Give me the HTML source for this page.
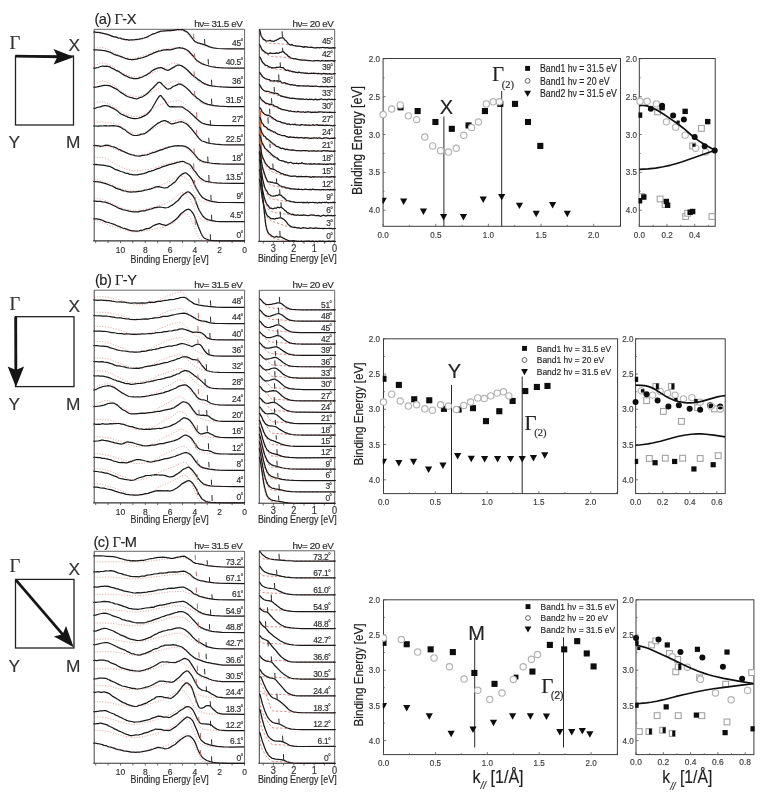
<!DOCTYPE html>
<html lang="en">
<head>
<meta charset="utf-8">
<title>ARPES spectra and band dispersion</title>
<style>
html,body{margin:0;padding:0;background:#fff;}
body{width:761px;height:799px;overflow:hidden;}
svg{display:block;filter:blur(0.35px);}
.sans{font-family:'Liberation Sans', Arial, Helvetica, sans-serif;}
.serif{font-family:'Liberation Serif', 'Times New Roman', serif;}
svg text{stroke:#2a2a2a;stroke-width:.22px;stroke-opacity:.75;}
</style>
</head>
<body>
<svg width="761" height="799" viewBox="0 0 761 799">
<rect x="0" y="0" width="761" height="799" fill="#ffffff"/>
<rect x="15.5" y="56" width="58" height="69" fill="none" stroke="#222222" stroke-width="1.3"/>
<text x="9.6" y="49" font-size="18.6" text-anchor="start" class="serif" fill="#333333" >&#915;</text>
<text x="68.6" y="51.2" font-size="17.3" text-anchor="start" class="sans" fill="#333333" >X</text>
<text x="8.4" y="147.5" font-size="17.3" text-anchor="start" class="sans" fill="#333333" >Y</text>
<text x="66" y="147.5" font-size="17.3" text-anchor="start" class="sans" fill="#333333" >M</text>
<line x1="15.5" y1="56.2" x2="61.5" y2="56.8" stroke="#151515" stroke-width="2.8" />
<path d="M74 57 L53.5 49 L57.5 56.7 L53.5 64.6 Z" fill="#151515"/>
<rect x="15.5" y="316.7" width="58.5" height="69.9" fill="none" stroke="#222222" stroke-width="1.3"/>
<text x="9.6" y="310" font-size="18.6" text-anchor="start" class="serif" fill="#333333" >&#915;</text>
<text x="68.6" y="312" font-size="17.3" text-anchor="start" class="sans" fill="#333333" >X</text>
<text x="8.4" y="410" font-size="17.3" text-anchor="start" class="sans" fill="#333333" >Y</text>
<text x="66" y="410" font-size="17.3" text-anchor="start" class="sans" fill="#333333" >M</text>
<line x1="15.7" y1="316.7" x2="15.9" y2="374.6" stroke="#151515" stroke-width="2.8" />
<path d="M15.9 386.9 L7.7 366.4 L15.9 369.9 L24.1 366.4 Z" fill="#151515"/>
<rect x="15.5" y="579.4" width="58.5" height="68.6" fill="none" stroke="#222222" stroke-width="1.3"/>
<text x="9.6" y="572.3" font-size="18.6" text-anchor="start" class="serif" fill="#333333" >&#915;</text>
<text x="68.6" y="574.8" font-size="17.3" text-anchor="start" class="sans" fill="#333333" >X</text>
<text x="8.4" y="672" font-size="17.3" text-anchor="start" class="sans" fill="#333333" >Y</text>
<text x="66" y="672" font-size="17.3" text-anchor="start" class="sans" fill="#333333" >M</text>
<line x1="16" y1="580.2" x2="65.87" y2="638.11" stroke="#151515" stroke-width="2.8" />
<path d="M73.7 647.2 L53.93 636.51 L62.61 634.32 L66.06 626.07 Z" fill="#151515"/>
<text x="94.5" y="24.2" font-size="14.6" class="sans" fill="#222" letter-spacing="-0.5">(a) <tspan class="serif" font-size="14.6" stroke-width="0.1">&#915;</tspan>-X</text>
<text x="95" y="284.8" font-size="14.6" class="sans" fill="#222" letter-spacing="-0.5">(b) <tspan class="serif" font-size="14.6" stroke-width="0.1">&#915;</tspan>-Y</text>
<text x="93.4" y="546.8" font-size="14.6" class="sans" fill="#222" letter-spacing="-0.5">(c) <tspan class="serif" font-size="14.6" stroke-width="0.1">&#915;</tspan>-M</text>
<g clip-path="none">
<line x1="94.2" y1="29.3" x2="244.6" y2="29.3" stroke="#555" stroke-width="0.9" />
<line x1="94.2" y1="29.3" x2="94.2" y2="240.9" stroke="#444" stroke-width="1" />
<line x1="244.6" y1="29.3" x2="244.6" y2="240.9" stroke="#555" stroke-width="0.9" />
<line x1="93.2" y1="240.9" x2="245.1" y2="240.9" stroke="#333" stroke-width="1.1" />
<line x1="120.5" y1="240.9" x2="120.5" y2="243.1" stroke="#444" stroke-width="0.8" />
<text transform="translate(120.5 253.1) scale(0.9 1)" font-size="9.4" text-anchor="middle" class="sans" fill="#333" >10</text>
<line x1="145.3" y1="240.9" x2="145.3" y2="243.1" stroke="#444" stroke-width="0.8" />
<text transform="translate(145.3 253.1) scale(0.9 1)" font-size="9.4" text-anchor="middle" class="sans" fill="#333" >8</text>
<line x1="170.1" y1="240.9" x2="170.1" y2="243.1" stroke="#444" stroke-width="0.8" />
<text transform="translate(170.1 253.1) scale(0.9 1)" font-size="9.4" text-anchor="middle" class="sans" fill="#333" >6</text>
<line x1="194.9" y1="240.9" x2="194.9" y2="243.1" stroke="#444" stroke-width="0.8" />
<text transform="translate(194.9 253.1) scale(0.9 1)" font-size="9.4" text-anchor="middle" class="sans" fill="#333" >4</text>
<line x1="219.7" y1="240.9" x2="219.7" y2="243.1" stroke="#444" stroke-width="0.8" />
<text transform="translate(219.7 253.1) scale(0.9 1)" font-size="9.4" text-anchor="middle" class="sans" fill="#333" >2</text>
<line x1="244.5" y1="240.9" x2="244.5" y2="243.1" stroke="#444" stroke-width="0.8" />
<text transform="translate(244.5 253.1) scale(0.9 1)" font-size="9.4" text-anchor="middle" class="sans" fill="#333" >0</text>
<line x1="108.1" y1="240.9" x2="108.1" y2="243.1" stroke="#444" stroke-width="0.8" />
<line x1="132.9" y1="240.9" x2="132.9" y2="243.1" stroke="#444" stroke-width="0.8" />
<line x1="157.7" y1="240.9" x2="157.7" y2="243.1" stroke="#444" stroke-width="0.8" />
<line x1="182.5" y1="240.9" x2="182.5" y2="243.1" stroke="#444" stroke-width="0.8" />
<line x1="207.3" y1="240.9" x2="207.3" y2="243.1" stroke="#444" stroke-width="0.8" />
<line x1="232.1" y1="240.9" x2="232.1" y2="243.1" stroke="#444" stroke-width="0.8" />
<line x1="95.7" y1="240.9" x2="95.7" y2="243.1" stroke="#444" stroke-width="0.8" />
<text transform="translate(169.7 262.7) scale(0.86 1)" font-size="10.3" text-anchor="middle" class="sans" fill="#2a2a2a" >Binding Energy [eV]</text>
<text x="242.5" y="26.6" font-size="9.9" text-anchor="end" class="sans" fill="#2a2a2a" letter-spacing="-0.42" >h&#957;= 31.5 eV</text>
</g>
<path d="M94.2 220.4L96.5 220.8L99.4 221.5L109.3 225.3L111.6 226L114.5 227L116.3 227.3L119.7 228.5L122.1 229L126.1 230.3L129.6 231.3L132.5 231.9L133.7 232L139.5 231.8L142.9 231.4L145.3 230.8L154 229.2L160.9 227.7L165 226.6L170.2 224.7L172.5 223.6L174.3 222.5L176 220.8L179.5 216.8L183 213.8L183.6 213.5L184.1 213.3L185.3 213.3L186.5 213.9L187.6 214.8L188.8 215.9L190 217.4L190.5 218.4L191.7 220.8L198.1 236.2L199.2 238L200.4 239.1L201.6 239.8L202.7 240.3L203.9 240.5L211.4 240.9L244.5 240.9" fill="none" stroke="#cf5f5f" stroke-width="0.75" stroke-linejoin="round" stroke-dasharray="1.2 1.5" stroke-linecap="butt" stroke-opacity="0.68"/>
<path d="M94.2 218.6L95.4 218.9L96.5 218.9L100.6 219.7L102.9 220.5L104.1 221.1L106.4 222.1L108.7 222.5L109.9 223L111.6 223.5L113.4 224.2L115.1 224.7L118 226.2L120.9 227.2L122.6 228L124.4 228.4L126.7 229.1L127.9 229.6L130.2 230.4L132.5 230.8L133.7 230.8L136 231.1L137.1 231.1L138.9 230.8L140.6 230.4L142.4 230.3L144.7 229.3L146.4 228.7L148.2 228.6L149.9 227.9L152.8 226L155.7 224.6L159.2 223.7L159.8 223.7L161.5 224.3L165.6 225.4L166.2 225.4L166.7 225.2L168.5 224.2L171.4 222.8L176 219.3L177.8 217.5L181.2 213.5L183 212.3L184.7 210.8L185.9 210.1L187.6 209.3L188.2 209.2L188.8 209.3L190 209.9L191.1 210.9L192.3 212.3L193.4 213.9L194.6 216.4L198.1 226.3L201 233.1L201.6 234.3L202.7 236.3L203.9 237.7L204.5 238.2L206.2 239L208.5 239.8L211.4 240.3L214.3 240.6L225.3 240.9L244.5 240.9" fill="none" stroke="#1a1a1a" stroke-width="1.25" stroke-linejoin="round" />
<line x1="195.11" y1="218.4" x2="195.41" y2="225.13" stroke="#b46a6a" stroke-width="1" />
<line x1="210.24" y1="234.17" x2="210.54" y2="239.64" stroke="#2a2a2a" stroke-width="1" />
<text transform="translate(243 237.5) scale(0.87 1)" font-size="9.7" text-anchor="end" class="sans" fill="#2a2a2a" letter-spacing="-0.35">0<tspan font-size="8.2" dy="-0.5" dx="-0.5">&#176;</tspan></text>
<line x1="93" y1="218.82" x2="95" y2="218.82" stroke="#333" stroke-width="0.9" />
<path d="M94.2 198L97.7 198.2L100 198.9L106.4 201L110.4 202.6L115.7 205.4L118.6 206.7L125.5 208.9L129 209.8L131.9 210.2L134.8 210.5L137.1 210.5L139.5 210.2L141.8 210L144.7 209.2L154 207.1L161.5 205L165.6 203.5L170.2 201.2L174.3 198.8L175.4 197.9L177.2 196.1L178.9 194.5L180.1 193.6L182.4 192.4L183.6 192.3L184.7 192.7L185.9 193.5L187 194.7L188.8 197L190.5 199.8L191.7 202.1L196.9 213.6L198.1 215.9L198.7 216.8L199.8 218.3L201 219.3L202.1 220.1L203.3 220.5L204.5 220.8L211.4 221.4L224.2 221.6L244.5 221.7" fill="none" stroke="#cf5f5f" stroke-width="0.75" stroke-linejoin="round" stroke-dasharray="1.2 1.5" stroke-linecap="butt" stroke-opacity="0.68"/>
<path d="M94.2 201.1L95.4 201.1L97.1 201.4L100.6 201.4L102.3 201.8L105.2 202.2L108.7 203.3L115.7 206.5L117.4 207.5L119.2 208.4L120.9 208.9L122.6 209.6L124.4 210L127.3 210.7L128.4 210.9L130.8 211.5L131.9 211.6L133.7 211.8L138.3 211.9L140.6 211.1L142.9 210.9L144.7 210.8L146.4 210.2L148.7 209.7L150.5 209L151.7 208.8L154.6 207.7L156.3 207.6L158 207.2L159.8 207L163.3 207.5L165 207.8L167.9 207.5L168.5 207.3L169.6 206.5L173.1 204.6L176 202L177.8 200.8L178.9 199.5L181.2 196.6L183.6 194.2L185.3 193.2L187 192L187.6 191.9L188.2 191.9L188.8 192L190 192.8L192.9 195.7L193.4 196.5L194.6 198.7L195.2 200L198.1 207.7L199.2 210.2L202.7 216L204.5 217.8L205.6 218.6L207.9 219.6L210.8 220.4L216.1 221.3L220.7 221.6L227.1 221.7L244.5 221.7" fill="none" stroke="#1a1a1a" stroke-width="1.25" stroke-linejoin="round" />
<line x1="195.11" y1="196.89" x2="195.41" y2="203.62" stroke="#b46a6a" stroke-width="1" />
<line x1="211.5" y1="214.76" x2="211.8" y2="220.23" stroke="#2a2a2a" stroke-width="1" />
<text transform="translate(243 218.3) scale(0.87 1)" font-size="9.7" text-anchor="end" class="sans" fill="#2a2a2a" letter-spacing="-0.35">4.5<tspan font-size="8.2" dy="-0.5" dx="-0.5">&#176;</tspan></text>
<line x1="93" y1="201.09" x2="95" y2="201.09" stroke="#333" stroke-width="0.9" />
<path d="M94.2 179.5L97.1 179.7L100.6 180.5L106.4 182.4L111 184.2L118 187.8L120.9 188.7L128.4 190.2L130.2 190.7L137.1 190.9L141.8 190.3L144.1 189.8L146.4 189.2L151.7 188L156.3 186.7L162.7 184.5L170.8 181L176.6 178L178.3 177.3L179.5 176.9L181.2 176.6L182.4 176.5L183.6 176.6L184.7 177L185.9 177.9L188.8 181.6L190.5 184.5L194 191.9L196.9 197.1L198.1 198.7L199.2 199.9L199.8 200.3L201 200.9L202.7 201.5L204.5 201.8L211.4 202.2L227.7 202.4L244.5 202.5" fill="none" stroke="#cf5f5f" stroke-width="0.75" stroke-linejoin="round" stroke-dasharray="1.2 1.5" stroke-linecap="butt" stroke-opacity="0.68"/>
<path d="M94.2 181.6L95.4 181.6L98.3 181.8L101.2 182.3L102.9 182.9L106.4 183.9L109.3 185L110.4 185.5L112.2 186L116.3 188.4L119.7 189.3L121.5 190.1L123.8 190.8L125.5 191L127.9 191.8L129.6 191.9L130.8 192.1L133.1 191.9L135.4 191.9L141.2 191.2L143.5 190.7L144.7 190.2L146.4 190L148.2 189.5L149.9 189.2L150.5 189.1L152.2 188.3L153.4 188L155.7 186.9L156.3 186.8L158.6 186.6L164.4 188L167.3 187.6L167.9 187.3L169.6 185.7L171.4 184.8L173.1 183.1L174.9 182.1L175.4 181.6L178.9 176.9L180.7 175.3L181.8 174.4L183.6 173.4L184.7 173L185.3 172.9L186.5 173.2L187 173.6L189.4 175.7L190 176.3L191.1 177.9L192.3 179.8L194 183.6L196.3 188.2L199.8 194.2L201 195.7L202.1 197L203.3 198L205 199.1L207.4 200.1L210.8 201.1L213.7 201.7L217.8 202.3L227.7 202.5L244.5 202.5" fill="none" stroke="#1a1a1a" stroke-width="1.25" stroke-linejoin="round" />
<line x1="194.48" y1="180" x2="194.78" y2="186.73" stroke="#b46a6a" stroke-width="1" />
<line x1="210.87" y1="194.93" x2="211.17" y2="200.61" stroke="#2a2a2a" stroke-width="1" />
<text transform="translate(243 199.1) scale(0.87 1)" font-size="9.7" text-anchor="end" class="sans" fill="#2a2a2a" letter-spacing="-0.35">9<tspan font-size="8.2" dy="-0.5" dx="-0.5">&#176;</tspan></text>
<line x1="93" y1="181.47" x2="95" y2="181.47" stroke="#333" stroke-width="0.9" />
<path d="M94.2 157L98.3 157.1L101.7 157.6L104.6 158.1L107.5 159.1L108.7 159.7L114.5 163.9L116.3 164.9L119.2 166.2L120.9 166.8L123.2 167.9L126.1 169.1L127.9 169.5L130.2 170.3L131.9 170.6L138.3 170.6L144.1 170L147 169.5L149.9 169.2L154.6 168L162.1 165.4L164.4 164.8L166.7 164L168.5 163.7L172 162.7L175.4 162L177.8 161.6L178.9 161.3L180.1 161.3L181.2 161.4L182.4 161.8L183.6 162.4L186.5 164.3L188.2 165.8L190 167.8L192.3 170.8L196.9 177.6L198.1 179L198.7 179.5L199.8 180.4L201 181L202.7 181.8L203.9 182.1L206.2 182.5L213.7 183L231.7 183.3L244.5 183.3" fill="none" stroke="#cf5f5f" stroke-width="0.75" stroke-linejoin="round" stroke-dasharray="1.2 1.5" stroke-linecap="butt" stroke-opacity="0.68"/>
<path d="M94.2 164.6L95.9 164.4L98.3 164.9L100 164.8L101.7 165.1L102.9 165.1L105.8 165.7L108.1 166.1L110.4 166.7L112.8 167.9L114.5 169.1L116.8 169.8L120.9 171.5L123.2 172L125 172.9L125.5 173.1L126.7 173.4L127.9 173.4L128.4 173.6L129.6 174.3L131.3 174.4L133.1 174.9L137.1 174.9L143.5 173.6L145.8 172.9L148.7 171.6L151.1 171.1L152.2 170.7L153.4 170.5L156.3 169.1L160.4 167.8L161.5 167.2L163.8 166.4L165.6 165.9L168.5 164.8L174.3 163.4L177.2 162.3L178.9 162.2L180.7 161.7L183 161.4L183.6 161.5L185.9 162.7L189.4 164.2L190 164.6L191.1 165.9L194 170.4L195.8 172.3L198.1 175.6L199.8 177.7L201 178.6L202.1 179.2L203.9 180.5L205 181L206.2 181.4L208.5 181.7L212 182.5L216.6 182.9L221.9 183.2L232.9 183.4L235.8 183.3L244.5 183.3" fill="none" stroke="#1a1a1a" stroke-width="1.25" stroke-linejoin="round" />
<line x1="193.64" y1="163.33" x2="193.94" y2="169.63" stroke="#b46a6a" stroke-width="1" />
<line x1="208.77" y1="174.89" x2="209.07" y2="180.99" stroke="#2a2a2a" stroke-width="1" />
<text transform="translate(243 179.9) scale(0.87 1)" font-size="9.7" text-anchor="end" class="sans" fill="#2a2a2a" letter-spacing="-0.35">13.5<tspan font-size="8.2" dy="-0.5" dx="-0.5">&#176;</tspan></text>
<line x1="93" y1="164.38" x2="95" y2="164.38" stroke="#333" stroke-width="0.9" />
<path d="M94.2 147L96.5 146.8L100.6 146.9L102.3 146.8L105.8 146.8L108.1 146.9L109.3 147L111.6 147.7L113.4 148.5L116.3 149.5L119.7 150.9L128.4 153.5L134.2 154.9L136.6 155.2L139.5 155.2L144.1 154.4L146.4 153.6L148.2 153.1L151.7 151.9L153.4 151.5L156.9 150.4L161.5 148.8L167.3 147.5L170.8 146.4L173.1 145.9L178.9 145.9L183 146.6L184.7 147.3L185.9 148L187 148.9L190 151.6L195.2 157.8L198.1 160.6L199.8 161.8L201.6 162.4L204.5 163L207.4 163.4L216.6 164L244.5 164.1" fill="none" stroke="#cf5f5f" stroke-width="0.75" stroke-linejoin="round" stroke-dasharray="1.2 1.5" stroke-linecap="butt" stroke-opacity="0.68"/>
<path d="M94.2 145.4L98.8 145.9L100.6 146.3L102.3 146L103.5 145.9L105.8 145.2L108.7 145.4L111.6 146.5L114.5 147.1L116.8 148.3L118 149L119.7 149.6L122.1 150.9L123.8 151.5L125.5 152.4L129.6 154.2L132.5 155L133.7 155.2L134.8 155.6L137.1 156L140 156.2L142.4 155.4L144.1 155.3L145.3 155L147 154.8L149.3 154L152.2 152.9L155.1 152.2L157.5 151.2L160.9 149.9L163.3 149.3L165.6 148.1L166.7 147.9L169.6 146.8L171.4 146.6L174.9 145.8L176.6 145.8L177.8 145.7L180.7 145.9L182.4 145.8L185.9 146.7L188.8 148.4L190 149.5L192.3 151.9L195.2 155.1L198.1 158.7L199.2 159.6L201.6 161L203.9 161.9L210.3 163L212.6 163.3L220.1 163.9L229.4 164.1L244.5 164.1" fill="none" stroke="#1a1a1a" stroke-width="1.25" stroke-linejoin="round" />
<line x1="194.06" y1="148.33" x2="194.36" y2="153.59" stroke="#b46a6a" stroke-width="1" />
<line x1="207.72" y1="156.53" x2="208.02" y2="162" stroke="#2a2a2a" stroke-width="1" />
<text transform="translate(243 160.7) scale(0.87 1)" font-size="9.7" text-anchor="end" class="sans" fill="#2a2a2a" letter-spacing="-0.35">18<tspan font-size="8.2" dy="-0.5" dx="-0.5">&#176;</tspan></text>
<line x1="93" y1="145.6" x2="95" y2="145.6" stroke="#333" stroke-width="0.9" />
<path d="M94.2 121.8L97.7 121.8L104.6 122.1L108.7 122.4L111 122.8L113.9 123.4L116.8 124.3L119.2 125.3L120.9 126.4L123.8 128.4L127.9 130.9L135.4 134L138.3 134.3L140 134.2L141.2 134L144.7 132.7L147 131.6L148.7 130.9L151.7 129.6L153.4 128.6L156.3 127.2L158.6 125.9L161.5 124.7L164.4 123.6L172 121.3L177.8 120L180.1 119.8L181.8 119.9L183 120.2L185.3 121.2L185.9 121.5L187 122.4L188.8 124.1L190.5 126.1L198.1 136.6L199.8 138.7L201 139.9L202.7 141L206.2 142.7L207.9 143.3L210.8 143.9L214.3 144.4L217.2 144.7L228.8 144.8L244.5 144.9" fill="none" stroke="#cf5f5f" stroke-width="0.75" stroke-linejoin="round" stroke-dasharray="1.2 1.5" stroke-linecap="butt" stroke-opacity="0.68"/>
<path d="M94.2 126L98.3 126.1L100.6 125.8L102.3 126L105.8 125.6L108.1 126L109.3 125.8L111 125.9L113.9 125.7L115.1 125.9L118.6 126.4L120.3 127.1L123.2 129L124.4 129.4L126.7 131.4L129.6 133.5L131.9 134.8L133.1 135.2L134.2 135.5L137.1 135.4L138.9 135.1L141.2 134.2L143.5 133.9L145.3 133.3L145.8 133L147.6 131.5L149.3 130.3L152.2 127.7L157.5 123.4L159.2 122.7L160.4 121.9L161.5 121.3L163.8 120.7L164.4 120.6L165 120.7L166.7 121.3L167.9 121.8L169.6 123L170.8 123.7L171.4 123.8L172 123.8L173.7 123.7L175.4 122.9L177.2 122.6L178.9 122L181.2 121.7L182.4 122L185.9 123.5L187 124.2L187.6 124.7L191.7 129.1L199.2 138.6L200.4 139.8L201.6 140.7L202.1 141L203.9 141.5L206.8 142.6L210.8 143.5L215.5 144.2L221.3 144.6L227.7 144.8L244.5 144.9" fill="none" stroke="#1a1a1a" stroke-width="1.25" stroke-linejoin="round" />
<line x1="196.58" y1="129.76" x2="196.88" y2="135.23" stroke="#b46a6a" stroke-width="1" />
<line x1="208.77" y1="137.75" x2="209.07" y2="143.43" stroke="#2a2a2a" stroke-width="1" />
<text transform="translate(243 141.5) scale(0.87 1)" font-size="9.7" text-anchor="end" class="sans" fill="#2a2a2a" letter-spacing="-0.35">22.5<tspan font-size="8.2" dy="-0.5" dx="-0.5">&#176;</tspan></text>
<line x1="93" y1="125.98" x2="95" y2="125.98" stroke="#333" stroke-width="0.9" />
<path d="M94.2 103.8L97.1 102.8L98.8 101.9L100.6 101.6L102.3 101.8L105.2 102.6L112.8 106.1L114.5 107.2L119.7 110.9L123.2 112.9L129 115.2L131.3 115.9L133.7 116.5L135.4 116.6L137.1 116.7L138.3 116.5L141.2 115.7L144.1 114.4L147.6 112.6L149.9 111.6L151.7 110.4L155.1 107.8L158 105.9L159.8 105L160.9 104.5L165.6 103L167.9 102.5L169.6 102L171.4 101.7L174.3 100.9L177.2 100.6L179.5 100.7L180.7 101.1L181.8 101.7L184.1 103.4L185.3 104.4L187.6 107.1L192.9 114.8L194.6 117.2L196.3 119.4L197.5 120.6L199.2 122.1L201 123.2L202.1 123.8L203.9 124.3L206.8 124.7L210.3 125.2L214.3 125.4L222.4 125.6L244.5 125.7" fill="none" stroke="#cf5f5f" stroke-width="0.75" stroke-linejoin="round" stroke-dasharray="1.2 1.5" stroke-linecap="butt" stroke-opacity="0.68"/>
<path d="M94.2 108.6L94.8 108.5L97.1 107.5L100 106.9L102.3 106.1L104.6 105.6L105.8 105.7L108.7 106.2L109.9 106.7L111 107.4L112.8 108.1L115.7 109.7L117.4 110.9L119.7 113.1L120.9 114L122.6 114.6L125 115.8L126.7 116.4L127.9 117.1L129.6 117.6L131.3 118.2L132.5 118.3L134.2 118.7L135.4 118.7L137.7 118.5L141.2 117.4L145.8 115.1L147 114.3L149.3 112L150.5 110.5L152.2 108L156.9 99.7L159.2 96.4L159.8 95.8L160.4 95.5L160.9 95.7L161.5 96.3L162.7 98L164.4 99.8L165 100.6L166.7 103.5L167.9 105.2L169.1 106.3L169.6 106.7L170.2 106.9L172 106.6L176.6 106.9L181.2 106.8L181.8 106.9L182.4 107.1L185.9 109.5L187.6 110.5L188.2 110.9L196.3 118.3L197.5 119.6L198.7 120.6L199.8 121.4L201.6 122.7L203.9 123.7L205.6 124.2L209.1 124.8L211.4 125.2L214.9 125.5L227.1 125.7L244.5 125.7" fill="none" stroke="#1a1a1a" stroke-width="1.25" stroke-linejoin="round" />
<line x1="196.58" y1="112.03" x2="196.88" y2="117.5" stroke="#b46a6a" stroke-width="1" />
<line x1="210.24" y1="120.23" x2="210.54" y2="125.7" stroke="#2a2a2a" stroke-width="1" />
<text transform="translate(243 122.3) scale(0.87 1)" font-size="9.7" text-anchor="end" class="sans" fill="#2a2a2a" letter-spacing="-0.35">27<tspan font-size="8.2" dy="-0.5" dx="-0.5">&#176;</tspan></text>
<line x1="93" y1="108.25" x2="95" y2="108.25" stroke="#333" stroke-width="0.9" />
<path d="M94.2 83.6L95.4 83.4L97.7 82.7L100 81.4L102.3 80.9L104.1 81L106.4 81.6L108.7 82.7L113.4 85.2L116.8 87.6L119.7 90.1L122.6 92.3L123.8 93L129 95.2L130.8 95.7L133.1 96.2L137.1 96.5L138.3 96.4L140.6 95.9L148.7 93L154.6 90.6L159.2 88.2L160.9 87.4L165.6 84.7L171.4 81.7L173.1 81.1L174.3 81L175.4 81.1L177.8 81.8L180.7 83.1L181.8 83.8L183 84.7L186.5 87.9L190 91.7L194 96.6L198.1 100.7L199.2 101.7L201 102.7L203.9 103.9L206.8 104.8L210.3 105.5L214.3 106.1L217.8 106.4L223 106.5L244.5 106.5" fill="none" stroke="#cf5f5f" stroke-width="0.75" stroke-linejoin="round" stroke-dasharray="1.2 1.5" stroke-linecap="butt" stroke-opacity="0.68"/>
<path d="M94.2 87.3L97.1 86.8L104.1 85.4L106.4 85.3L109.3 85.6L111 86.3L112.8 87.4L115.1 88.4L117.4 89.6L120.3 92.1L123.8 94.3L125 95.1L127.3 96.5L129 97L130.2 97.4L131.9 97.7L133.7 98.4L135.4 98.7L136.6 98.8L137.7 98.6L139.5 97.7L141.8 97.1L142.9 96.5L145.8 94.8L148.7 92.2L151.1 89.6L153.4 87.5L157.5 83.1L158 82.6L158.6 82.4L159.2 82.3L159.8 82.4L160.4 82.6L160.9 82.9L162.7 84.9L166.2 88.3L166.7 88.7L167.3 89L167.9 89.1L170.2 88.6L170.8 88.3L173.1 86.5L176.6 85.1L177.8 84.4L178.3 84.2L178.9 84.1L180.1 84.1L181.2 84.4L182.4 85L185.3 86.9L190 91.3L191.7 93.4L192.9 94.5L195.2 96.3L196.9 98L199.2 99.6L201 101.1L204.5 103.2L207.9 104.4L214.3 105.7L219 106.1L227.1 106.5L244.5 106.5" fill="none" stroke="#1a1a1a" stroke-width="1.25" stroke-linejoin="round" />
<line x1="194.48" y1="91.15" x2="194.78" y2="96.62" stroke="#b46a6a" stroke-width="1" />
<line x1="211.5" y1="98.72" x2="211.8" y2="104.61" stroke="#2a2a2a" stroke-width="1" />
<text transform="translate(243 103.1) scale(0.87 1)" font-size="9.7" text-anchor="end" class="sans" fill="#2a2a2a" letter-spacing="-0.35">31.5<tspan font-size="8.2" dy="-0.5" dx="-0.5">&#176;</tspan></text>
<line x1="93" y1="87.16" x2="95" y2="87.16" stroke="#333" stroke-width="0.9" />
<path d="M94.2 65.3L95.4 65.2L96.5 64.9L101.2 63.1L102.9 62.9L104.6 63.2L107.5 64.1L108.7 64.6L110.4 65.5L112.8 66.4L116.8 69L122.1 72.7L124.4 73.9L126.1 74.6L128.4 75.6L131.3 76.5L134.2 77.1L136.6 77.2L137.7 77.1L141.2 76.4L144.7 75.3L146.4 74.6L151.1 73.3L155.1 71.8L156.9 71.4L159.2 70.2L161.5 69.2L164.4 67.3L166.2 66.4L167.9 65.3L171.4 63.6L173.7 63L175.4 63.1L178.9 64L180.7 64.8L181.8 65.5L184.7 68.2L188.8 72.5L190 73.5L192.3 75.9L197.5 80.8L199.2 82.1L201 83.1L203.9 84.4L207.9 85.5L213.2 86.4L217.8 86.9L226.5 87.2L244.5 87.3" fill="none" stroke="#cf5f5f" stroke-width="0.75" stroke-linejoin="round" stroke-dasharray="1.2 1.5" stroke-linecap="butt" stroke-opacity="0.68"/>
<path d="M94.2 68.1L95.4 68.1L98.3 67.5L100.6 66.5L102.3 66.2L103.5 66.2L104.6 66.3L106.4 66.2L108.7 66.6L109.9 66.9L112.2 68.4L113.9 69.1L115.7 70.3L117.4 70.9L119.2 71.8L121.5 73.5L125 75.6L126.7 76.2L128.4 77.1L130.2 77.8L131.9 78.1L133.7 78.7L134.2 78.7L136 78.5L137.7 78.5L138.3 78.3L139.5 77.8L142.4 77L144.1 76L146.4 75.2L148.2 73.8L149.9 72.7L151.7 71.1L152.2 70.7L154.6 69.4L156.9 68.4L158.6 67.8L160.4 67.6L161.5 67.6L165.6 69.6L167.3 70.2L167.9 70.3L168.5 70.1L169.6 69.7L172.5 67.9L174.9 66.6L176 65.8L176.6 65.5L177.8 65.2L178.9 65L181.8 65.9L184.7 67.7L185.9 68.8L188.2 70.7L192.3 75L194.6 76.8L196.3 77.9L198.7 79.9L199.8 80.6L202.1 82.3L203.9 83.4L206.2 84.4L209.1 85.3L212 85.9L216.6 86.5L221.9 86.9L230.6 87.3L244.5 87.3" fill="none" stroke="#1a1a1a" stroke-width="1.25" stroke-linejoin="round" />
<line x1="194.06" y1="71.32" x2="194.36" y2="76.79" stroke="#b46a6a" stroke-width="1" />
<line x1="211.5" y1="79.73" x2="211.8" y2="85.2" stroke="#2a2a2a" stroke-width="1" />
<text transform="translate(243 83.9) scale(0.87 1)" font-size="9.7" text-anchor="end" class="sans" fill="#2a2a2a" letter-spacing="-0.35">36<tspan font-size="8.2" dy="-0.5" dx="-0.5">&#176;</tspan></text>
<line x1="93" y1="68.17" x2="95" y2="68.17" stroke="#333" stroke-width="0.9" />
<path d="M94.2 48.1L101.7 47.7L103.5 47.8L104.6 48L107.5 49.1L113.4 52.5L122.6 56.6L127.9 58.2L129.6 58.5L131.9 58.7L136.6 57.9L138.9 57.2L144.1 55.7L145.8 55L148.2 54.4L151.1 53L155.1 51.3L159.8 50L162.1 49.6L163.8 49.1L166.7 48.7L168.5 48.4L175.4 47.6L178.9 47.6L180.7 48L183 48.8L185.9 50.4L187 51.3L188.2 52.4L194 58.7L196.3 61.1L198.7 62.8L203.9 65.2L209.7 66.6L213.2 67.2L215.5 67.4L231.7 68L244.5 68.1" fill="none" stroke="#cf5f5f" stroke-width="0.75" stroke-linejoin="round" stroke-dasharray="1.2 1.5" stroke-linecap="butt" stroke-opacity="0.68"/>
<path d="M94.2 50.1L95.4 49.9L96.5 49.9L98.3 50.2L100.6 50.1L102.3 50.4L104.6 50.6L110.4 52.4L113.9 54.3L118 55.7L119.7 56.1L120.9 56.7L122.6 57.2L125 58.3L126.7 58.6L129 59.4L130.8 59.5L133.7 59.5L134.8 59.3L136.6 59.2L138.9 58.4L140.6 58.2L141.8 58L147.6 55.8L150.5 54.4L152.2 53.8L154 52.9L158.6 51.2L160.4 51L162.7 50.2L165 49.8L167.9 49.6L169.6 49.8L170.2 49.8L174.9 48.7L176.6 48L177.2 48L178.3 47.9L179.5 47.7L181.2 48.1L182.4 48L184.7 48.8L188.2 50.7L193.4 56.2L195.8 59.3L196.9 60.5L201.6 63.6L203.3 64.1L205.6 65L210.8 66.5L216.1 67.4L219.5 67.7L223.6 67.9L231.7 68.1L244.5 68.1" fill="none" stroke="#1a1a1a" stroke-width="1.25" stroke-linejoin="round" />
<line x1="194.48" y1="53.38" x2="194.78" y2="58.64" stroke="#b46a6a" stroke-width="1" />
<line x1="208.14" y1="59.06" x2="208.44" y2="64.53" stroke="#2a2a2a" stroke-width="1" />
<text transform="translate(243 64.7) scale(0.87 1)" font-size="9.7" text-anchor="end" class="sans" fill="#2a2a2a" letter-spacing="-0.35">40.5<tspan font-size="8.2" dy="-0.5" dx="-0.5">&#176;</tspan></text>
<line x1="93" y1="49.81" x2="95" y2="49.81" stroke="#333" stroke-width="0.9" />
<path d="M94.2 32.7L100 33.1L102.3 33.5L107.5 34.8L112.8 36.6L124.4 40L127.3 40.6L131.3 40.7L136 40.2L144.1 38.2L145.8 37.5L149.9 35.6L152.2 34.7L154 34L158.6 32.5L160.4 32.1L162.7 31.8L164.4 31.5L172.5 30.9L175.4 30.4L178.3 30.2L180.7 30.4L181.8 30.6L183 31.1L185.3 32.2L186.5 32.9L188.8 35.2L190.5 37.4L194 41.5L195.2 42.4L196.9 43.3L201 44.4L203.3 45.5L208.5 47.1L213.2 48.1L217.2 48.6L231.2 48.9L244.5 48.9" fill="none" stroke="#cf5f5f" stroke-width="0.75" stroke-linejoin="round" stroke-dasharray="1.2 1.5" stroke-linecap="butt" stroke-opacity="0.68"/>
<path d="M94.2 31.8L96.5 32.3L98.8 32.3L107.5 34.3L113.9 36.8L115.7 36.9L118 37.8L120.3 38.2L122.1 38.8L125.5 39.6L127.3 39.7L129 40.1L130.8 39.8L132.5 39.9L134.8 39.7L137.1 39.3L138.9 39.2L140.6 38.8L141.8 38.6L144.1 38L147.6 36.9L148.7 36L150.5 35.2L152.2 34.2L154.6 33.7L157.5 32.3L160.9 31.2L162.7 31.2L164.4 30.8L165.6 30.9L167.3 30.7L170.8 30.7L172.5 30.4L173.7 30.3L175.4 29.9L177.8 29.6L181.8 29.6L182.4 29.7L183.6 30.1L185.3 31.1L186.5 31.5L187.6 32.4L190 35.1L194 40.5L194.6 41.2L195.2 41.6L196.3 42L197.5 42.7L198.1 42.9L199.8 43.3L203.3 44.3L205.6 45.1L209.7 46.8L213.2 47.8L217.8 48.5L228.3 48.9L244.5 48.9" fill="none" stroke="#1a1a1a" stroke-width="1.25" stroke-linejoin="round" />
<line x1="193.64" y1="33.76" x2="193.94" y2="39.44" stroke="#b46a6a" stroke-width="1" />
<line x1="204.57" y1="39.02" x2="204.87" y2="44.69" stroke="#2a2a2a" stroke-width="1" />
<text transform="translate(243 45.5) scale(0.87 1)" font-size="9.7" text-anchor="end" class="sans" fill="#2a2a2a" letter-spacing="-0.35">45<tspan font-size="8.2" dy="-0.5" dx="-0.5">&#176;</tspan></text>
<line x1="93" y1="32.08" x2="95" y2="32.08" stroke="#333" stroke-width="0.9" />
<g clip-path="none">
<line x1="94.2" y1="290.2" x2="244.6" y2="290.2" stroke="#555" stroke-width="0.9" />
<line x1="94.2" y1="290.2" x2="94.2" y2="502.9" stroke="#444" stroke-width="1" />
<line x1="244.6" y1="290.2" x2="244.6" y2="502.9" stroke="#555" stroke-width="0.9" />
<line x1="93.2" y1="502.9" x2="245.1" y2="502.9" stroke="#333" stroke-width="1.1" />
<line x1="120.5" y1="502.9" x2="120.5" y2="505.1" stroke="#444" stroke-width="0.8" />
<text transform="translate(120.5 514.9) scale(0.9 1)" font-size="9.4" text-anchor="middle" class="sans" fill="#333" >10</text>
<line x1="145.3" y1="502.9" x2="145.3" y2="505.1" stroke="#444" stroke-width="0.8" />
<text transform="translate(145.3 514.9) scale(0.9 1)" font-size="9.4" text-anchor="middle" class="sans" fill="#333" >8</text>
<line x1="170.1" y1="502.9" x2="170.1" y2="505.1" stroke="#444" stroke-width="0.8" />
<text transform="translate(170.1 514.9) scale(0.9 1)" font-size="9.4" text-anchor="middle" class="sans" fill="#333" >6</text>
<line x1="194.9" y1="502.9" x2="194.9" y2="505.1" stroke="#444" stroke-width="0.8" />
<text transform="translate(194.9 514.9) scale(0.9 1)" font-size="9.4" text-anchor="middle" class="sans" fill="#333" >4</text>
<line x1="219.7" y1="502.9" x2="219.7" y2="505.1" stroke="#444" stroke-width="0.8" />
<text transform="translate(219.7 514.9) scale(0.9 1)" font-size="9.4" text-anchor="middle" class="sans" fill="#333" >2</text>
<line x1="244.5" y1="502.9" x2="244.5" y2="505.1" stroke="#444" stroke-width="0.8" />
<text transform="translate(244.5 514.9) scale(0.9 1)" font-size="9.4" text-anchor="middle" class="sans" fill="#333" >0</text>
<line x1="108.1" y1="502.9" x2="108.1" y2="505.1" stroke="#444" stroke-width="0.8" />
<line x1="132.9" y1="502.9" x2="132.9" y2="505.1" stroke="#444" stroke-width="0.8" />
<line x1="157.7" y1="502.9" x2="157.7" y2="505.1" stroke="#444" stroke-width="0.8" />
<line x1="182.5" y1="502.9" x2="182.5" y2="505.1" stroke="#444" stroke-width="0.8" />
<line x1="207.3" y1="502.9" x2="207.3" y2="505.1" stroke="#444" stroke-width="0.8" />
<line x1="232.1" y1="502.9" x2="232.1" y2="505.1" stroke="#444" stroke-width="0.8" />
<line x1="95.7" y1="502.9" x2="95.7" y2="505.1" stroke="#444" stroke-width="0.8" />
<text transform="translate(169.7 522.5) scale(0.86 1)" font-size="10.3" text-anchor="middle" class="sans" fill="#2a2a2a" >Binding Energy [eV]</text>
<text x="242.5" y="287.6" font-size="9.9" text-anchor="end" class="sans" fill="#2a2a2a" letter-spacing="-0.42" >h&#957;= 31.5 eV</text>
</g>
<path d="M94.2 483.5L98.8 483.9L106.4 485.5L108.1 486.1L110.4 486.6L114.5 488.3L116.8 489L119.2 490.2L122.1 491L129.6 494.5L133.7 495.6L134.8 495.7L137.1 495.7L141.8 495L145.3 494.3L148.2 493.5L150.5 492.6L152.8 491.3L159.8 486.6L160.9 485.9L163.8 484.5L172.5 481.1L176 479.4L179.5 477.1L180.7 476.4L184.1 475.4L185.3 475.3L185.9 475.4L186.5 475.7L187.6 476.6L188.8 477.9L190 479.7L191.7 483.6L194.6 491.7L197.5 498.4L198.7 500.2L199.2 500.8L200.4 501.5L202.1 502L203.9 502.4L206.8 502.6L211.4 502.8L223.6 502.9L244.5 502.9" fill="none" stroke="#cf5f5f" stroke-width="0.75" stroke-linejoin="round" stroke-dasharray="1.2 1.5" stroke-linecap="butt" stroke-opacity="0.68"/>
<path d="M94.2 487.2L96.5 487.2L97.1 487.2L99.4 487.7L100.6 488L102.9 488.1L104.1 488.2L107 489L109.3 489.3L111.6 489.9L115.7 491.3L117.4 491.8L119.2 492.5L119.7 492.7L120.9 492.8L123.2 493.3L126.1 494.3L129 494.6L130.8 495L132.5 494.9L134.2 495.1L136.6 495.1L138.9 494.9L140 494.6L141.8 494.6L145.8 493.6L148.2 493.4L149.9 492.6L151.7 492.2L155.1 491.1L157.5 490.6L166.2 490.8L167.3 490.7L169.6 491.1L170.2 491L173.1 490.1L173.7 489.8L177.2 487.8L180.1 485.5L181.2 484.4L182.4 483.6L185.9 481.6L187.6 480.9L188.8 480.7L189.4 480.7L191.1 481.7L191.7 482.2L192.9 483.5L195.8 488.1L198.7 493.9L201.6 498.4L202.1 499L203.3 499.8L205 500.9L206.2 501.5L207.9 501.9L210.8 502.3L216.1 502.7L226.5 502.9L244.5 502.9" fill="none" stroke="#1a1a1a" stroke-width="1.25" stroke-linejoin="round" />
<line x1="197.21" y1="488.81" x2="197.51" y2="495.12" stroke="#b46a6a" stroke-width="1" />
<line x1="211.92" y1="495.12" x2="212.22" y2="501.01" stroke="#2a2a2a" stroke-width="1" />
<text transform="translate(243 499.5) scale(0.87 1)" font-size="9.7" text-anchor="end" class="sans" fill="#2a2a2a" letter-spacing="-0.35">0<tspan font-size="8.2" dy="-0.5" dx="-0.5">&#176;</tspan></text>
<line x1="93" y1="487.13" x2="95" y2="487.13" stroke="#333" stroke-width="0.9" />
<path d="M94.2 468.2L97.7 468.4L100.6 468.8L103.5 469.3L108.1 470.5L110.4 471.3L113.4 472.5L116.3 474L120.9 476L124.4 477L127.3 478.3L130.8 479.7L133.7 480.1L136.6 480.3L138.3 480.1L141.8 479.5L144.1 479L148.7 477.5L150.5 477L152.8 475.9L156.9 473.6L162.1 470.9L166.2 469.3L170.8 467.8L172.5 467L174.9 466.1L176 465.6L177.8 464.6L181.2 462.9L183 462.5L184.7 462.4L185.3 462.5L186.5 463.3L187.6 464.5L188.8 466L190.5 469.1L192.9 474.2L194 476.4L195.8 479.4L197.5 481.9L198.7 483.2L199.2 483.7L200.4 484.4L202.1 485.3L203.3 485.7L205 486L209.1 486.4L213.7 486.6L244.5 486.6" fill="none" stroke="#cf5f5f" stroke-width="0.75" stroke-linejoin="round" stroke-dasharray="1.2 1.5" stroke-linecap="butt" stroke-opacity="0.68"/>
<path d="M94.2 471.4L97.1 471.5L99.4 472L101.7 472.2L105.2 473.1L107 473.2L109.3 474L113.9 475.9L116.3 476.6L116.8 476.8L118.6 478L120.3 478.5L120.9 478.7L122.6 478.8L124.4 479.3L129 480L130.8 480.4L134.2 480L138.3 478L143.5 476.6L145.8 475.7L147 475.5L150.5 475.3L152.2 475L154 474.9L155.1 474.6L159.2 475L162.7 475L165.6 475.7L167.3 476.4L169.6 477L170.2 477L171.4 476.6L172.5 476.6L173.1 476.4L173.7 476.1L178.3 473.3L180.7 471.5L183 469.4L185.3 468.5L187.6 467.3L188.2 467.2L188.8 467.2L189.4 467.5L190 468L191.7 469.5L192.3 470.2L195.2 473.8L198.1 478.4L201 481.8L203.3 483.8L204.5 484.3L206.8 485.1L207.9 485.4L210.3 485.8L214.3 486.2L223.6 486.5L234.6 486.6L244.5 486.6" fill="none" stroke="#1a1a1a" stroke-width="1.25" stroke-linejoin="round" />
<line x1="197.21" y1="474.4" x2="197.51" y2="479.66" stroke="#b46a6a" stroke-width="1" />
<line x1="211.29" y1="479.66" x2="211.59" y2="484.92" stroke="#2a2a2a" stroke-width="1" />
<text transform="translate(243 483.2) scale(0.87 1)" font-size="9.7" text-anchor="end" class="sans" fill="#2a2a2a" letter-spacing="-0.35">4<tspan font-size="8.2" dy="-0.5" dx="-0.5">&#176;</tspan></text>
<line x1="93" y1="471.25" x2="95" y2="471.25" stroke="#333" stroke-width="0.9" />
<path d="M94.2 453.6L95.9 453.5L99.4 453.9L103.5 454.5L108.7 455.5L112.2 456.4L116.3 457.8L123.2 459.8L134.2 463.3L135.4 463.4L140.6 463.4L144.7 463L149.9 461.8L152.8 460.8L155.1 459.7L159.2 457.3L161.5 455.7L166.2 453.2L173.7 449.9L176 448.6L180.1 446.6L181.2 446.3L182.4 446.2L183.6 446.4L185.3 446.9L186.5 447.6L187.6 448.6L189.4 451.1L192.9 457.2L195.8 462.8L196.9 464.5L198.1 465.8L199.2 466.8L201 467.9L202.1 468.4L204.5 469L206.8 469.4L210.8 469.8L214.9 470.1L226.5 470.2L244.5 470.3" fill="none" stroke="#cf5f5f" stroke-width="0.75" stroke-linejoin="round" stroke-dasharray="1.2 1.5" stroke-linecap="butt" stroke-opacity="0.68"/>
<path d="M94.2 457.2L95.9 457.5L97.1 457.4L98.3 457.6L100 457.6L102.3 458.3L104.1 458.3L105.2 458.7L107 458.8L108.7 459.4L111 459.9L112.2 460.5L113.9 461.1L115.7 461.5L118.6 462.3L120.3 462.6L122.6 462.4L125.5 462.9L126.7 462.8L128.4 462.4L130.2 461.6L131.9 461.2L136.6 459.5L140 459.6L143.5 460.5L145.8 461L147.6 461.3L149.3 461.8L150.5 462L151.1 462L153.4 461.7L156.3 460.9L158 460.7L159.8 460.1L162.7 459.4L165 458.7L165.6 458.6L166.7 458.6L169.6 457.9L172.5 457L174.9 456.5L177.2 455.3L180.1 454.5L181.8 453.5L185.3 452.6L186.5 452.6L187.6 453L188.8 453.6L191.1 455.3L192.3 456.6L196.3 462.3L200.4 466.5L201.6 467.1L204.5 468.2L209.7 469.2L215.5 469.9L219 470.1L228.8 470.4L237.5 470.3L244.5 470.3" fill="none" stroke="#1a1a1a" stroke-width="1.25" stroke-linejoin="round" />
<line x1="197.21" y1="459.79" x2="197.51" y2="465.04" stroke="#b46a6a" stroke-width="1" />
<line x1="208.77" y1="461.89" x2="209.07" y2="467.36" stroke="#2a2a2a" stroke-width="1" />
<text transform="translate(243 466.9) scale(0.87 1)" font-size="9.7" text-anchor="end" class="sans" fill="#2a2a2a" letter-spacing="-0.35">8<tspan font-size="8.2" dy="-0.5" dx="-0.5">&#176;</tspan></text>
<line x1="93" y1="457.26" x2="95" y2="457.26" stroke="#333" stroke-width="0.9" />
<path d="M94.2 436.6L96.5 436.6L99.4 436.9L104.1 437.2L110.4 438.2L112.2 438.8L122.6 442.1L127.9 444.1L130.2 444.7L132.5 445.7L134.8 446.3L137.7 446.6L141.8 446.5L148.7 445.2L153.4 443.7L156.3 442.2L158.6 440.6L163.8 437.5L167.9 435.6L171.4 434.1L176 431.7L178.3 430.2L180.7 429.3L181.8 429.3L183 429.5L184.1 429.9L185.9 431L187 432.1L188.2 433.8L190.5 438.1L193.4 444L195.2 447L196.9 449.2L198.1 450.3L199.8 451.3L201 451.9L203.3 452.6L206.2 453.2L214.3 453.9L219.5 454L244.5 454" fill="none" stroke="#cf5f5f" stroke-width="0.75" stroke-linejoin="round" stroke-dasharray="1.2 1.5" stroke-linecap="butt" stroke-opacity="0.68"/>
<path d="M94.2 441.3L96.5 441L98.8 440.9L101.7 440.1L102.9 440.1L104.1 440.4L105.8 440.6L108.7 441.2L111 441.9L112.8 442.1L114.5 442.9L116.3 443.1L118.6 443.7L120.9 444.1L122.1 444L123.2 443.6L126.7 442L127.3 441.8L127.9 441.8L129 442.1L132.5 442.6L133.7 443L134.8 443.5L142.9 445.7L145.8 446L147 445.8L149.3 445.7L149.9 445.7L151.7 445.2L154.6 445.1L159.2 443.9L161.5 443.6L162.7 443.7L163.3 443.6L166.2 442.7L170.8 441.6L172.5 441L173.7 440.9L177.8 439.3L179.5 438.4L182.4 436.3L183.6 435.7L184.7 435.2L185.9 435.2L187 435.5L189.4 436.7L191.1 438.1L192.3 439.5L194.6 443.1L195.8 444.6L197.5 447.2L198.1 447.9L199.2 448.8L200.4 449.5L203.9 450.4L207.4 450.5L209.1 450.8L210.8 451.3L212.6 452.3L213.7 452.8L216.1 453.3L217.8 453.6L220.7 453.8L228.3 454L244.5 454" fill="none" stroke="#1a1a1a" stroke-width="1.25" stroke-linejoin="round" />
<line x1="195.74" y1="443.28" x2="196.04" y2="448.32" stroke="#b46a6a" stroke-width="1" />
<line x1="208.35" y1="443.28" x2="208.65" y2="449.37" stroke="#2a2a2a" stroke-width="1" />
<text transform="translate(243 450.6) scale(0.87 1)" font-size="9.7" text-anchor="end" class="sans" fill="#2a2a2a" letter-spacing="-0.35">12<tspan font-size="8.2" dy="-0.5" dx="-0.5">&#176;</tspan></text>
<line x1="93" y1="441.17" x2="95" y2="441.17" stroke="#333" stroke-width="0.9" />
<path d="M94.2 419.4L97.7 419.4L102.9 419.7L104.6 419.7L109.9 420.2L113.4 421.2L116.8 422.3L120.9 424L123.2 424.6L129.6 427.4L134.2 429.2L137.1 429.8L141.8 429.8L146.4 428.9L149.9 428.1L152.2 427.5L154 426.7L156.9 425.1L162.1 421.6L164.4 420.5L166.7 419.1L169.6 417.7L173.1 415.8L174.9 414.7L178.3 412.1L179.5 411.6L180.7 411.4L181.8 411.7L183.6 412.5L184.7 413.3L185.3 413.9L186.5 415.5L187 416.5L193.4 428.8L194.6 430.7L195.8 432.1L197.5 433.7L199.2 434.9L200.4 435.5L202.1 436.1L205 436.8L208.5 437.2L214.3 437.6L220.1 437.7L244.5 437.7" fill="none" stroke="#cf5f5f" stroke-width="0.75" stroke-linejoin="round" stroke-dasharray="1.2 1.5" stroke-linecap="butt" stroke-opacity="0.68"/>
<path d="M94.2 424.1L97.1 424.3L98.8 424.2L100 424.3L100.6 424.3L101.7 423.8L102.3 423.7L104.6 424.1L106.4 424L108.1 424.1L110.4 423.7L112.2 423.9L113.9 423.6L119.2 423.5L119.7 423.5L121.5 424.1L122.6 424.1L123.8 424.4L126.7 425.5L129.6 426.3L131.9 426.7L135.4 427.9L139.5 429L141.2 428.9L143.5 429.4L144.1 429.5L145.8 429.1L147.6 429.3L149.3 429.2L150.5 429.3L152.2 428.8L154.6 428.9L157.5 428.5L159.2 428.4L160.9 428.6L161.5 428.5L165 427.3L166.2 427.1L167.3 427L170.2 426.1L172.5 424.9L174.3 424.2L176 423.2L177.8 422L179.5 421L181.2 419.4L183 418.2L184.1 417.8L184.7 417.9L187.6 418.8L190 420.6L191.1 421.9L192.3 423.5L196.9 430.9L197.5 431.6L198.7 432.7L199.8 433.5L200.4 433.8L201 433.9L202.1 433.9L206.8 432.7L207.9 432.6L208.5 432.7L210.3 433.9L212 434.5L213.7 435.6L215.5 436.4L216.6 436.7L219 437.2L221.9 437.5L226.5 437.6L244.5 437.7" fill="none" stroke="#1a1a1a" stroke-width="1.25" stroke-linejoin="round" />
<line x1="197.21" y1="425.08" x2="197.51" y2="430.34" stroke="#b46a6a" stroke-width="1" />
<line x1="207.09" y1="425.72" x2="207.39" y2="431.6" stroke="#2a2a2a" stroke-width="1" />
<text transform="translate(243 434.3) scale(0.87 1)" font-size="9.7" text-anchor="end" class="sans" fill="#2a2a2a" letter-spacing="-0.35">16<tspan font-size="8.2" dy="-0.5" dx="-0.5">&#176;</tspan></text>
<line x1="93" y1="424.03" x2="95" y2="424.03" stroke="#333" stroke-width="0.9" />
<path d="M94.2 405L96.5 404.3L99.4 402.4L101.2 401.6L104.6 400.6L106.4 400.5L108.1 400.5L110.4 401.4L115.7 403.6L123.8 408.3L130.8 412.5L132.5 413.4L133.7 413.8L134.8 414L136.6 414L140 413.8L141.8 413.6L143.5 413.2L149.9 412.1L151.1 411.8L156.3 409.1L160.9 406.4L165 404.4L167.3 403.1L169.6 402L173.1 400.1L177.2 397.3L178.3 396.8L178.9 396.7L180.1 396.7L181.8 397.1L183 397.6L184.1 398.4L184.7 399L185.9 400.5L192.3 410.3L195.8 414.7L197.5 416.5L198.7 417.5L202.1 419.2L204.5 419.9L206.8 420.4L213.7 421.1L231.7 421.4L244.5 421.4" fill="none" stroke="#cf5f5f" stroke-width="0.75" stroke-linejoin="round" stroke-dasharray="1.2 1.5" stroke-linecap="butt" stroke-opacity="0.68"/>
<path d="M94.2 406.3L95.9 406.5L100.6 405.9L104.1 405.1L108.1 403.5L111 403.1L112.8 403L113.4 403L114.5 403.5L117.4 405.1L119.2 406.9L120.3 407.7L122.6 409.7L125 410.8L128.4 413.1L129.6 413.5L131.3 413.8L134.8 413.9L142.4 413.2L144.7 413.3L147 412.8L152.8 412.4L154.6 411.9L158 411.4L159.8 411.4L163.3 410.4L170.8 408.9L172.5 408.1L173.7 407.8L174.3 407.6L176.6 405.9L178.3 404.9L180.1 403.5L181.2 402.7L182.4 402L183 401.8L183.6 401.8L184.7 402L186.5 402.6L188.8 404.1L189.4 404.7L193.4 410.4L196.3 413.9L196.9 414.4L197.5 414.7L201.6 415.3L203.3 415.2L205 415.7L206.8 415.7L207.9 415.8L209.1 416.5L210.8 418L213.7 419.6L215.5 420.3L218.4 421L222.4 421.3L228.3 421.4L244.5 421.4" fill="none" stroke="#1a1a1a" stroke-width="1.25" stroke-linejoin="round" />
<line x1="198.89" y1="409.63" x2="199.19" y2="414.46" stroke="#777777" stroke-width="1" />
<line x1="206.67" y1="410.05" x2="206.97" y2="415.51" stroke="#2a2a2a" stroke-width="1" />
<text transform="translate(243 418) scale(0.87 1)" font-size="9.7" text-anchor="end" class="sans" fill="#2a2a2a" letter-spacing="-0.35">20<tspan font-size="8.2" dy="-0.5" dx="-0.5">&#176;</tspan></text>
<line x1="93" y1="406.68" x2="95" y2="406.68" stroke="#333" stroke-width="0.9" />
<path d="M94.2 387.6L95.4 387.5L95.9 387.2L98.8 385.5L100.6 384.8L102.3 384.3L105.2 383.9L108.7 383.8L110.4 384.3L112.2 385.1L115.1 386.7L119.2 389.8L122.1 392.8L123.2 393.8L124.4 394.5L126.1 395.3L129 396.3L132.5 397L136.6 397.3L141.8 396.9L145.3 396.4L147.6 395.8L149.3 395.5L151.1 395L154 393.5L159.8 389.9L163.8 387.7L167.9 385.8L172.5 383.4L177.2 380.6L178.9 379.9L180.1 379.9L182.4 380.6L183 380.9L184.1 381.7L185.3 383.1L188.2 388L190 390.6L192.9 394.8L194.6 397L196.3 398.9L198.7 401.1L200.4 402.1L202.1 402.8L205 403.7L207.4 404.2L214.9 405L221.9 405.1L244.5 405.1" fill="none" stroke="#cf5f5f" stroke-width="0.75" stroke-linejoin="round" stroke-dasharray="1.2 1.5" stroke-linecap="butt" stroke-opacity="0.68"/>
<path d="M94.2 390L95.4 389.7L96.5 389.3L99.4 387.8L102.9 386.5L107 385.9L108.1 385.7L109.3 385.8L110.4 386L113.9 387.3L122.1 392.9L123.8 393.7L127.9 396L129 396.5L133.7 396.8L135.4 397L137.7 396.8L140.6 397L142.4 396.7L144.1 396.7L147 396L148.7 395.8L151.7 395L152.8 395L156.3 394.4L157.5 394.2L158.6 393.7L159.8 393.6L161.5 393.1L163.3 392.9L165.6 391.9L168.5 391.1L170.8 390.1L172.5 389.5L176 388L178.3 386.4L181.8 385.3L184.1 384.8L184.7 384.8L185.9 385.1L187 385.6L190 387.9L191.1 389.1L192.9 391.6L194.6 393.7L196.9 396.9L198.1 398.1L198.7 398.6L201 399.6L203.3 399.8L204.5 400L207.9 401.5L210.3 403L211.4 403.5L215.5 404.5L219.5 404.9L226.5 405.1L244.5 405.1" fill="none" stroke="#1a1a1a" stroke-width="1.25" stroke-linejoin="round" />
<line x1="198.26" y1="388.91" x2="198.56" y2="394.17" stroke="#b46a6a" stroke-width="1" />
<line x1="207.3" y1="395.01" x2="207.6" y2="400.89" stroke="#2a2a2a" stroke-width="1" />
<text transform="translate(243 401.7) scale(0.87 1)" font-size="9.7" text-anchor="end" class="sans" fill="#2a2a2a" letter-spacing="-0.35">24<tspan font-size="8.2" dy="-0.5" dx="-0.5">&#176;</tspan></text>
<line x1="93" y1="389.96" x2="95" y2="389.96" stroke="#333" stroke-width="0.9" />
<path d="M94.2 370.4L102.3 371L105.2 371.5L107.5 372L110.4 373.3L115.7 376.1L119.2 377.6L126.1 381.2L129 382.3L132.5 382.8L134.2 382.6L136 382.6L138.9 382.3L141.2 381.7L145.3 381L148.2 380.2L151.7 378.9L154 377.9L158 375.7L162.7 373.8L170.2 371.4L172 370.8L174.9 369.9L177.8 368.8L179.5 368.5L181.8 368.5L184.7 369.7L185.9 370.6L187.6 372.7L191.7 378.2L194 381L195.2 382.1L199.2 385.2L200.4 385.8L202.7 386.6L205.6 387.5L209.1 388.1L216.1 388.7L223 388.8L244.5 388.8" fill="none" stroke="#cf5f5f" stroke-width="0.75" stroke-linejoin="round" stroke-dasharray="1.2 1.5" stroke-linecap="butt" stroke-opacity="0.68"/>
<path d="M94.2 375.8L95.4 376L98.3 375.9L100.6 376.1L102.9 376.1L104.1 376.3L105.2 376.7L108.1 377.3L110.4 378.2L113.9 379.8L115.1 380L115.7 380.2L116.8 380.9L119.2 381.4L122.1 382.4L123.2 382.6L125 383.4L126.7 383.7L128.4 383.7L130.8 384.4L131.3 384.4L133.7 384.2L135.4 383.8L137.7 383.5L140 383.4L144.1 382.9L147 382L149.9 381.7L151.7 381.2L152.8 381.1L154 380.7L158.6 379.5L160.4 379.4L162.1 378.8L163.8 378.6L165.6 377.9L171.4 376.6L173.7 375.4L174.9 375.1L177.2 374L178.9 373.6L179.5 373.3L181.2 372L181.8 371.7L184.7 370.7L185.9 370.6L188.8 371.4L189.4 371.7L192.9 374.3L194.6 375.8L198.7 378.6L200.4 380.1L205.6 385.1L207.9 386.8L209.7 387.6L211.4 388L213.7 388.4L217.8 388.7L227.7 388.8L244.5 388.8" fill="none" stroke="#1a1a1a" stroke-width="1.25" stroke-linejoin="round" />
<line x1="197.84" y1="374.5" x2="198.14" y2="379.97" stroke="#b46a6a" stroke-width="1" />
<line x1="204.99" y1="378.92" x2="205.29" y2="385.23" stroke="#2a2a2a" stroke-width="1" />
<text transform="translate(243 385.4) scale(0.87 1)" font-size="9.7" text-anchor="end" class="sans" fill="#2a2a2a" letter-spacing="-0.35">28<tspan font-size="8.2" dy="-0.5" dx="-0.5">&#176;</tspan></text>
<line x1="93" y1="375.76" x2="95" y2="375.76" stroke="#333" stroke-width="0.9" />
<path d="M94.2 357.8L95.9 357.9L98.3 357.8L103.5 358.2L105.2 358.3L106.4 358.4L109.3 359.2L114.5 361.4L118.6 362.7L122.6 364.5L125 365.6L127.3 366.4L130.8 367.4L132.5 367.8L133.7 367.9L137.7 367.8L142.9 367.1L144.7 366.6L147.6 366.1L149.9 365.5L152.8 364.3L159.2 360.9L162.1 359.6L165.6 358.3L172 356.3L177.8 354.8L178.9 354.7L180.7 355L181.8 355.3L183 355.9L185.3 357.3L186.5 358.3L190.5 362.7L193.4 365.2L195.2 366.5L198.7 368.5L202.7 370.1L205 370.9L207.4 371.4L211.4 372L216.6 372.5L244.5 372.5" fill="none" stroke="#cf5f5f" stroke-width="0.75" stroke-linejoin="round" stroke-dasharray="1.2 1.5" stroke-linecap="butt" stroke-opacity="0.68"/>
<path d="M94.2 361.6L95.9 361.7L97.1 361.6L98.8 361.8L102.3 361.7L104.1 362.1L107 362.3L111 363.7L112.8 364.1L114.5 365.1L116.8 365.8L119.7 365.9L121.5 366.5L124.4 366.9L126.7 367.6L129 368L134.8 368.3L137.1 368.2L138.3 368.4L138.9 368.4L140.6 367.8L142.4 367.8L144.1 367L145.8 366.6L148.7 366.2L149.9 366.1L151.7 365.7L153.4 365.4L154.6 365.4L155.1 365.2L157.5 364.3L159.2 364.2L165 362.7L167.9 362.3L169.6 361.5L174.3 360.2L176 359.5L177.2 358.9L179.5 358.3L182.4 357L183.6 356.9L186.5 356.9L190 358.2L191.7 359.2L192.9 359.6L194.6 359.7L195.8 360L196.9 359.9L197.5 360.1L198.1 360.4L199.2 361.5L202.1 365.5L205.6 369.7L206.2 370.1L206.8 370.5L210.3 371.5L213.2 372L219.5 372.4L225.3 372.5L244.5 372.5" fill="none" stroke="#1a1a1a" stroke-width="1.25" stroke-linejoin="round" />
<line x1="197.84" y1="357.78" x2="198.14" y2="363.25" stroke="#b46a6a" stroke-width="1" />
<line x1="206.25" y1="364.09" x2="206.55" y2="369.98" stroke="#2a2a2a" stroke-width="1" />
<text transform="translate(243 369.1) scale(0.87 1)" font-size="9.7" text-anchor="end" class="sans" fill="#2a2a2a" letter-spacing="-0.35">32<tspan font-size="8.2" dy="-0.5" dx="-0.5">&#176;</tspan></text>
<line x1="93" y1="361.57" x2="95" y2="361.57" stroke="#333" stroke-width="0.9" />
<path d="M94.2 341.3L101.2 341.6L105.2 342L108.1 342.6L111 343.6L116.3 345.9L119.2 346.9L125 349.5L129.6 351.3L131.3 351.7L133.1 351.9L137.7 351.9L138.9 351.8L141.2 351.2L144.7 350.6L149.9 349.2L152.8 347.7L154.6 346.9L158 344.8L160.4 343.6L166.7 340.8L168.5 340.3L170.2 339.6L175.4 338L178.3 337.5L180.7 337.3L181.2 337.4L182.4 337.9L186.5 340.7L187.6 342L189.4 344.4L190.5 345.9L193.4 349L195.2 350.4L196.9 351.6L199.2 352.6L203.9 354.2L205.6 354.6L209.1 355.3L217.2 356.1L224.2 356.2L244.5 356.2" fill="none" stroke="#cf5f5f" stroke-width="0.75" stroke-linejoin="round" stroke-dasharray="1.2 1.5" stroke-linecap="butt" stroke-opacity="0.68"/>
<path d="M94.2 345.4L95.4 345.6L97.1 345.7L98.8 345.9L101.2 346.1L102.9 346.1L107.5 346.7L108.7 347.1L110.4 347.9L114.5 349L116.8 349.8L119.7 350.5L122.6 350.9L125 351L128.4 351.7L130.8 352L132.5 351.8L134.2 352.2L135.4 352.2L140 351.9L141.8 351.4L144.1 351.3L145.8 351.1L149.3 350.2L151.1 350.2L153.4 349.5L155.1 349.3L156.9 348.8L158.6 348.6L160.9 347.6L163.8 347.4L165 347L168.5 346.2L172 346.1L173.7 345.5L176.6 345.1L177.8 344.6L181.2 343.7L182.4 343.7L184.7 344L190.5 346L191.7 346.3L192.3 346.3L192.9 346.2L194.6 345.2L196.3 344.5L196.9 344.3L199.2 344.4L199.8 344.5L201 345.4L201.6 346.1L203.3 348.8L205 351.3L206.8 353.2L207.9 354.1L210.3 355.1L214.3 355.8L223 356.2L244.5 356.2" fill="none" stroke="#1a1a1a" stroke-width="1.25" stroke-linejoin="round" />
<line x1="197.84" y1="339.59" x2="198.14" y2="344.64" stroke="#b46a6a" stroke-width="1" />
<line x1="208.77" y1="349.26" x2="209.07" y2="354.73" stroke="#2a2a2a" stroke-width="1" />
<text transform="translate(243 352.8) scale(0.87 1)" font-size="9.7" text-anchor="end" class="sans" fill="#2a2a2a" letter-spacing="-0.35">36<tspan font-size="8.2" dy="-0.5" dx="-0.5">&#176;</tspan></text>
<line x1="93" y1="345.69" x2="95" y2="345.69" stroke="#333" stroke-width="0.9" />
<path d="M94.2 326.2L102.9 326.6L107.5 327L109.3 327.3L111 327.8L114.5 328.6L120.3 330.2L123.8 331.4L128.4 333.3L130.2 333.8L134.2 334.7L136.6 334.8L138.9 334.8L145.8 333.9L151.1 332.6L153.4 331.9L155.1 331.2L160.4 328.3L167.3 325.4L172.5 323.6L174.9 323.2L177.8 322.4L179.5 322.3L180.7 322.5L181.8 323L183 323.7L184.1 324.5L186.5 326.7L189.4 330.4L191.1 332.3L194.6 335.1L196.9 336.3L201.6 337.9L204.5 338.6L207.4 339.1L210.3 339.5L213.2 339.7L227.1 339.9L244.5 339.9" fill="none" stroke="#cf5f5f" stroke-width="0.75" stroke-linejoin="round" stroke-dasharray="1.2 1.5" stroke-linecap="butt" stroke-opacity="0.68"/>
<path d="M94.2 331.2L95.9 331L97.7 331.2L100.6 331.1L102.3 331.4L104.1 331.3L106.4 331.5L111.6 332.7L112.8 332.7L115.7 333L117.4 333.5L122.1 333.7L123.8 334.1L124.4 334.1L126.1 333.8L127.3 333.8L129 334L130.8 334L131.9 334.3L133.7 334.1L136.6 334.4L137.7 334.2L139.5 334.2L142.4 333.8L144.7 334L148.7 333.5L152.2 333.5L154.6 333.1L156.3 332.7L161.5 332.4L164.4 331.7L166.7 331.6L169.1 331L172 330.8L173.7 330.4L177.2 329.8L179.5 329.1L181.2 328.9L182.4 328.8L185.3 329.5L187 330.2L192.9 332.4L193.4 332.4L194.6 332.2L195.8 332.1L196.9 332.2L198.1 332.4L199.8 332.3L201 332.7L202.1 333.3L204.5 335L206.2 337L207.4 337.9L210.3 338.9L212 339.3L214.9 339.6L219.5 339.9L228.3 339.9L230.6 339.9L242.2 339.9L244.5 340" fill="none" stroke="#1a1a1a" stroke-width="1.25" stroke-linejoin="round" />
<line x1="197.84" y1="326.23" x2="198.14" y2="331.28" stroke="#b46a6a" stroke-width="1" />
<line x1="209.82" y1="332.96" x2="210.12" y2="338.43" stroke="#2a2a2a" stroke-width="1" />
<text transform="translate(243 336.5) scale(0.87 1)" font-size="9.7" text-anchor="end" class="sans" fill="#2a2a2a" letter-spacing="-0.35">40<tspan font-size="8.2" dy="-0.5" dx="-0.5">&#176;</tspan></text>
<line x1="93" y1="331.07" x2="95" y2="331.07" stroke="#333" stroke-width="0.9" />
<path d="M94.2 312L102.3 312.3L105.8 312.3L107 312.4L109.9 313.1L113.4 313.7L117.4 314.7L119.2 315.1L124.4 316.6L129.6 318.4L134.2 319.6L136.6 319.9L140.6 319.9L145.3 319.4L149.9 318.6L154 317.8L158 315.9L162.7 313.3L165 312.3L169.1 310.8L174.3 309.5L177.8 308.7L179.5 308.5L180.7 308.5L181.2 308.6L182.4 309.1L184.7 310.4L185.9 311.2L187.6 312.9L190.5 316L193.4 318.3L197.5 320.4L199.8 321.2L202.1 321.8L207.9 322.8L214.3 323.3L225.9 323.5L244.5 323.6" fill="none" stroke="#cf5f5f" stroke-width="0.75" stroke-linejoin="round" stroke-dasharray="1.2 1.5" stroke-linecap="butt" stroke-opacity="0.68"/>
<path d="M94.2 315.4L95.4 315.6L100.6 315.8L102.9 316.1L106.4 316L108.7 316.5L110.4 316.7L112.2 317.1L113.9 317.2L115.7 317.6L118.6 317.9L120.9 317.9L123.2 318.5L125 318.6L126.7 319L128.4 318.9L130.2 319.3L135.4 319.6L137.1 319.4L138.9 319.5L142.4 319.2L143.5 319.2L145.8 318.9L148.2 319.1L150.5 318.5L152.2 318.4L154.6 317.8L158 317.6L159.8 317.3L162.1 316.6L163.3 316.4L164.4 316.3L166.2 316.4L167.3 316.3L173.1 314.8L175.4 314.5L177.2 314L181.8 313.3L184.1 313.2L185.3 313.4L187 313.9L188.8 314.8L190 315.2L194 317.6L195.8 318.8L198.7 320.1L201.6 320.8L205.6 321.3L207.9 322.2L210.3 322.8L214.9 323.4L220.1 323.5L230 323.6L244.5 323.6" fill="none" stroke="#1a1a1a" stroke-width="1.25" stroke-linejoin="round" />
<line x1="198.26" y1="313.09" x2="198.56" y2="318.55" stroke="#b46a6a" stroke-width="1" />
<line x1="210.45" y1="316.66" x2="210.75" y2="322.13" stroke="#2a2a2a" stroke-width="1" />
<text transform="translate(243 320.2) scale(0.87 1)" font-size="9.7" text-anchor="end" class="sans" fill="#2a2a2a" letter-spacing="-0.35">44<tspan font-size="8.2" dy="-0.5" dx="-0.5">&#176;</tspan></text>
<line x1="93" y1="315.61" x2="95" y2="315.61" stroke="#333" stroke-width="0.9" />
<path d="M94.2 296.9L95.9 296.8L98.8 296.9L103.5 296.8L105.2 297L108.7 297.4L111 297.9L112.8 298.2L117.4 299.5L120.3 300.1L123.8 301.1L127.9 302.6L133.1 304.1L135.4 304.5L137.1 304.7L141.8 304.7L148.7 303.7L154 302.5L158.6 300.5L163.8 297.6L167.9 295.8L173.1 293.8L175.4 293.1L178.3 292.4L180.1 292.3L181.2 292.4L182.4 292.9L183.6 293.6L185.3 295.1L186.5 296.2L189.4 300.4L191.1 302.2L191.7 302.6L193.4 303.5L196.9 304.7L202.1 305.8L204.5 306.1L209.7 306.7L214.3 307L230.6 307.3L244.5 307.3" fill="none" stroke="#cf5f5f" stroke-width="0.75" stroke-linejoin="round" stroke-dasharray="1.2 1.5" stroke-linecap="butt" stroke-opacity="0.68"/>
<path d="M94.2 300.1L95.9 300.1L97.7 300.4L99.4 300.2L101.7 300.2L103.5 300.4L105.2 300.3L107 300.7L109.3 300.7L110.4 300.8L112.2 301.2L114.5 301.5L116.3 302L120.3 301.9L122.1 302.2L124.4 302.2L126.7 302.6L129.6 303L133.1 303L134.8 302.9L136.6 303.2L137.1 303.2L138.3 303.1L140 303.1L141.8 302.8L145.3 303.1L147.6 302.7L149.3 302.2L154.6 302.3L156.3 301.7L158.6 301.3L160.4 301.3L162.1 300.9L163.8 300.7L165.6 300.4L167.9 300.2L169.6 299.7L170.8 299.7L174.3 299.4L174.9 299.2L176.6 298.5L177.8 298.5L178.3 298.4L179.5 297.8L180.7 297.5L184.1 297.4L185.3 297.7L186.5 298.3L188.2 299.8L190 301L191.7 302L194 303.7L195.2 304.2L199.2 305.1L204.5 305.9L206.8 306.1L208.5 306.4L216.1 307.1L223 307.3L244.5 307.3" fill="none" stroke="#1a1a1a" stroke-width="1.25" stroke-linejoin="round" />
<line x1="198.68" y1="298.26" x2="198.98" y2="303.73" stroke="#777777" stroke-width="1" />
<line x1="210.45" y1="300.36" x2="210.75" y2="305.83" stroke="#2a2a2a" stroke-width="1" />
<text transform="translate(243 303.9) scale(0.87 1)" font-size="9.7" text-anchor="end" class="sans" fill="#2a2a2a" letter-spacing="-0.35">48<tspan font-size="8.2" dy="-0.5" dx="-0.5">&#176;</tspan></text>
<line x1="93" y1="299.94" x2="95" y2="299.94" stroke="#333" stroke-width="0.9" />
<g clip-path="none">
<line x1="94.2" y1="551.3" x2="244.6" y2="551.3" stroke="#555" stroke-width="0.9" />
<line x1="94.2" y1="551.3" x2="94.2" y2="763.3" stroke="#444" stroke-width="1" />
<line x1="244.6" y1="551.3" x2="244.6" y2="763.3" stroke="#555" stroke-width="0.9" />
<line x1="93.2" y1="763.3" x2="245.1" y2="763.3" stroke="#333" stroke-width="1.1" />
<line x1="120.5" y1="763.3" x2="120.5" y2="765.5" stroke="#444" stroke-width="0.8" />
<text transform="translate(120.5 775.3) scale(0.9 1)" font-size="9.4" text-anchor="middle" class="sans" fill="#333" >10</text>
<line x1="145.3" y1="763.3" x2="145.3" y2="765.5" stroke="#444" stroke-width="0.8" />
<text transform="translate(145.3 775.3) scale(0.9 1)" font-size="9.4" text-anchor="middle" class="sans" fill="#333" >8</text>
<line x1="170.1" y1="763.3" x2="170.1" y2="765.5" stroke="#444" stroke-width="0.8" />
<text transform="translate(170.1 775.3) scale(0.9 1)" font-size="9.4" text-anchor="middle" class="sans" fill="#333" >6</text>
<line x1="194.9" y1="763.3" x2="194.9" y2="765.5" stroke="#444" stroke-width="0.8" />
<text transform="translate(194.9 775.3) scale(0.9 1)" font-size="9.4" text-anchor="middle" class="sans" fill="#333" >4</text>
<line x1="219.7" y1="763.3" x2="219.7" y2="765.5" stroke="#444" stroke-width="0.8" />
<text transform="translate(219.7 775.3) scale(0.9 1)" font-size="9.4" text-anchor="middle" class="sans" fill="#333" >2</text>
<line x1="244.5" y1="763.3" x2="244.5" y2="765.5" stroke="#444" stroke-width="0.8" />
<text transform="translate(244.5 775.3) scale(0.9 1)" font-size="9.4" text-anchor="middle" class="sans" fill="#333" >0</text>
<line x1="108.1" y1="763.3" x2="108.1" y2="765.5" stroke="#444" stroke-width="0.8" />
<line x1="132.9" y1="763.3" x2="132.9" y2="765.5" stroke="#444" stroke-width="0.8" />
<line x1="157.7" y1="763.3" x2="157.7" y2="765.5" stroke="#444" stroke-width="0.8" />
<line x1="182.5" y1="763.3" x2="182.5" y2="765.5" stroke="#444" stroke-width="0.8" />
<line x1="207.3" y1="763.3" x2="207.3" y2="765.5" stroke="#444" stroke-width="0.8" />
<line x1="232.1" y1="763.3" x2="232.1" y2="765.5" stroke="#444" stroke-width="0.8" />
<line x1="95.7" y1="763.3" x2="95.7" y2="765.5" stroke="#444" stroke-width="0.8" />
<text transform="translate(169.7 782.9) scale(0.86 1)" font-size="10.3" text-anchor="middle" class="sans" fill="#2a2a2a" >Binding Energy [eV]</text>
<text x="242.5" y="548.9" font-size="9.9" text-anchor="end" class="sans" fill="#2a2a2a" letter-spacing="-0.42" >h&#957;= 31.5 eV</text>
</g>
<path d="M94.2 744L96.5 744.1L99.4 744.6L107.5 746.6L110.4 747.5L116.3 749.1L118.6 749.8L128.4 751.9L131.3 752.4L133.7 752.6L136 752.6L139.5 752.3L143.5 751.5L145.8 751.2L149.9 750.2L152.8 749.4L154.6 748.8L160.4 747.5L163.3 746.5L165.6 745.9L167.9 745.1L169.6 744.6L174.9 741.9L176.6 740.9L178.9 739.1L183.6 734.5L184.7 733.9L185.9 733.7L186.5 733.8L187 734.2L187.6 734.7L188.8 736.2L190.5 738.8L193.4 744.9L196.9 750.9L198.1 753.1L200.4 758.4L201.6 760.3L202.1 760.9L202.7 761.4L204.5 762L206.8 762.5L209.1 762.8L214.9 763.2L221.9 763.3L244.5 763.3" fill="none" stroke="#cf5f5f" stroke-width="0.75" stroke-linejoin="round" stroke-dasharray="1.2 1.5" stroke-linecap="butt" stroke-opacity="0.68"/>
<path d="M94.2 742.9L94.8 743L96.5 743.4L100 744L102.3 744.6L104.1 745.3L106.4 745.7L108.1 746.7L108.7 746.8L110.4 747L112.2 747.6L113.4 747.9L116.3 749.1L118.6 749.6L120.3 749.8L121.5 750.2L123.8 750.8L127.9 751.3L131.3 752.2L132.5 752.2L134.2 752.1L135.4 752.4L137.1 752.2L139.5 752.2L140.6 752L142.4 751.6L144.7 751.2L146.4 750.8L147.6 750.7L150.5 749.8L151.7 749.3L153.4 749L154.6 748.4L155.7 748.1L157.5 747.4L158 747.3L159.8 747.6L160.9 747.9L162.7 748L164.4 748.7L165 748.9L167.9 748.5L170.2 747.4L172 746.1L173.7 745.3L175.4 744.3L177.2 742.5L180.7 739.6L182.4 738.5L183.6 737.5L185.9 736.2L186.5 736L188.8 735.9L189.4 736L190 736.2L191.1 737.1L192.9 738.8L194 740.3L195.2 742.6L197.5 748.5L198.7 751.2L200.4 754.4L201.6 756.3L203.3 758.3L206.8 760.5L210.3 761.6L213.2 762.3L215.5 762.6L219 762.9L227.7 763.3L244.5 763.3" fill="none" stroke="#1a1a1a" stroke-width="1.25" stroke-linejoin="round" />
<line x1="200.36" y1="750.05" x2="200.66" y2="755.52" stroke="#b46a6a" stroke-width="1" />
<line x1="211.5" y1="756.36" x2="211.8" y2="762.04" stroke="#2a2a2a" stroke-width="1" />
<text transform="translate(243 760.8) scale(0.87 1)" font-size="9.7" text-anchor="end" class="sans" fill="#2a2a2a" letter-spacing="-0.35">0<tspan font-size="8.2" dy="-0.5" dx="-0.5">&#176;</tspan></text>
<line x1="93" y1="743.33" x2="95" y2="743.33" stroke="#333" stroke-width="0.9" />
<path d="M94.2 730.1L96.5 730.3L98.3 730.3L104.6 730.9L108.7 731.5L112.8 732.7L119.7 735L127.3 736.6L130.8 737.2L134.2 737.6L139.5 737.1L147.6 735.7L150.5 735L152.2 734.7L155.7 733.7L158.6 732.8L165.6 730.3L169.1 728.7L173.1 726.1L176 723.6L179.5 720.4L183 717.9L184.1 717.4L184.7 717.4L185.9 717.8L187 718.6L188.2 720L189.4 721.6L191.1 725L196.3 738L197.5 740.4L198.1 741.3L199.2 742.6L200.4 743.6L202.1 744.7L203.3 745.2L206.2 745.9L209.7 746.4L212.6 746.7L234.1 747L244.5 746.9" fill="none" stroke="#cf5f5f" stroke-width="0.75" stroke-linejoin="round" stroke-dasharray="1.2 1.5" stroke-linecap="butt" stroke-opacity="0.68"/>
<path d="M94.2 723.7L95.4 723.8L97.1 723.6L98.3 723.6L100 723.2L100.6 723.1L104.6 724.1L107 724.9L109.3 726.2L112.2 727.5L114.5 728.9L116.3 729.6L119.2 731.2L121.5 732L124.4 733.5L126.7 734.4L127.9 734.6L129.6 735.3L130.2 735.5L132.5 735.5L136 734.8L137.7 735L138.9 734.9L140 734.5L141.8 734.1L144.1 733.2L148.2 732.1L151.1 730.8L152.8 730.2L155.1 729.2L155.7 729.1L159.2 729.3L160.4 729.3L160.9 729.4L163.3 730.2L164.4 730.4L166.7 730.4L168.5 730.6L170.2 730.2L171.4 729.6L173.7 727.9L176 726.6L183.6 719.5L186.5 717.2L187 717L187.6 717L188.8 717.5L190.5 718.4L191.7 719.6L192.9 721.1L194 723.4L197.5 731.8L199.2 736.4L200.4 738.9L201 739.8L202.1 741.1L203.3 742L205 743.3L205.6 743.5L207.4 744.1L209.1 744.7L210.8 745.2L217.2 746.4L223.6 746.8L228.8 747L244.5 746.9" fill="none" stroke="#1a1a1a" stroke-width="1.25" stroke-linejoin="round" />
<line x1="200.36" y1="733.07" x2="200.66" y2="738.54" stroke="#b46a6a" stroke-width="1" />
<line x1="211.5" y1="739.38" x2="211.8" y2="744.85" stroke="#2a2a2a" stroke-width="1" />
<text transform="translate(243 744.45) scale(0.87 1)" font-size="9.7" text-anchor="end" class="sans" fill="#2a2a2a" letter-spacing="-0.35">6.1<tspan font-size="8.2" dy="-0.5" dx="-0.5">&#176;</tspan></text>
<line x1="93" y1="723.82" x2="95" y2="723.82" stroke="#333" stroke-width="0.9" />
<path d="M94.2 716.8L102.9 717.5L108.7 718.3L114.5 720L119.2 721.6L126.7 723.3L133.7 724.3L138.3 724.2L141.2 723.6L143.5 723L145.3 722.7L151.1 721.2L154 720.5L155.7 719.9L158 719.2L166.7 716.1L171.4 714.1L173.7 712.8L176 711.4L178.9 709.3L182.4 706.9L183.6 706.3L184.7 706L185.3 706.1L186.5 706.9L188.8 709.6L190 711.3L193.4 717.8L195.2 720.4L199.8 726.6L201.6 728.2L202.7 728.9L204.5 729.4L207.4 729.9L212.6 730.3L216.6 730.5L244.5 730.6" fill="none" stroke="#cf5f5f" stroke-width="0.75" stroke-linejoin="round" stroke-dasharray="1.2 1.5" stroke-linecap="butt" stroke-opacity="0.68"/>
<path d="M94.2 711.7L95.9 711.6L98.8 711.2L100.6 710.9L102.3 710.8L104.1 710.5L105.8 710.6L109.9 712.5L113.9 714L115.7 715.1L118 716L119.2 716.8L120.9 717.5L124.4 719.3L126.7 720.4L127.9 720.7L129 721.2L131.9 721.5L134.2 722.1L137.1 722L140 721.7L141.2 721.3L148.7 719.7L149.9 719.3L151.7 718.3L154.6 717.4L157.5 716.4L158.6 716.2L160.9 716.3L163.8 717.1L167.3 717.2L169.1 717.6L169.6 717.5L170.8 717L172.5 715.8L177.2 713.1L178.9 711.6L180.7 710.3L183 709L185.3 707.3L187 706.7L188.2 706.6L189.4 707L191.1 708.1L192.3 709.2L192.9 710L194 712L196.9 718.3L199.2 722L199.8 722.7L200.4 723.2L201 723.5L201.6 723.6L204.5 723.8L209.7 724.4L210.8 724.7L212 725.5L213.2 726.7L214.3 727.6L217.2 729.3L218.4 729.7L219.5 730L223 730.3L227.1 730.6L244.5 730.6" fill="none" stroke="#1a1a1a" stroke-width="1.25" stroke-linejoin="round" />
<line x1="198.68" y1="716.72" x2="198.98" y2="722.19" stroke="#b46a6a" stroke-width="1" />
<line x1="210.45" y1="720.72" x2="210.75" y2="726.18" stroke="#2a2a2a" stroke-width="1" />
<text transform="translate(243 728.1) scale(0.87 1)" font-size="9.7" text-anchor="end" class="sans" fill="#2a2a2a" letter-spacing="-0.35">12.2<tspan font-size="8.2" dy="-0.5" dx="-0.5">&#176;</tspan></text>
<line x1="93" y1="711.68" x2="95" y2="711.68" stroke="#333" stroke-width="0.9" />
<path d="M94.2 701.7L95.4 701.6L99.4 701.8L101.2 702L102.9 701.9L107 702.2L108.7 702.5L111 702.8L113.4 703.5L119.7 705.1L122.1 705.3L125 705.9L126.7 706L132.5 706.7L136.6 706.6L138.9 706.4L143.5 705.5L149.3 704.1L155.1 702.3L157.5 701.5L163.3 699.2L168.5 696.6L170.2 695.9L172 694.9L174.3 693.3L177.8 691.4L179.5 690.7L180.7 690.3L182.4 690.2L183 690.3L184.1 691L185.3 692.2L186.5 693.7L189.4 698.1L191.7 702.5L192.9 704.5L195.8 708.6L197.5 710.4L199.8 711.7L202.7 712.6L205 713.1L210.8 713.8L214.9 714.2L217.8 714.2L244.5 714.3" fill="none" stroke="#cf5f5f" stroke-width="0.75" stroke-linejoin="round" stroke-dasharray="1.2 1.5" stroke-linecap="butt" stroke-opacity="0.68"/>
<path d="M94.2 692.3L95.4 692.3L97.1 692L98.8 691.9L100 692.1L101.2 692.4L101.7 692.3L103.5 691.8L104.1 691.9L107 692.7L109.3 693.6L112.8 696.4L116.8 698.8L118 699.4L119.7 700.6L123.2 702.6L125 703.1L126.7 704.1L129.6 705.2L131.9 705.8L134.8 706.5L137.1 706.3L138.9 705.4L140.6 705.2L145.3 703.4L147 702.8L148.7 701.6L150.5 700.7L152.2 699.5L154 698.7L155.7 697.4L156.9 696.8L159.2 696.5L161.5 696.6L162.7 696.8L164.4 697.3L169.1 698.2L170.2 698.3L171.4 698.1L172 697.8L174.3 696.1L177.8 692.7L179.5 690.5L182.4 686.3L185.3 683.5L185.9 683.1L186.5 682.9L187 682.9L188.2 683.5L189.4 684.4L190.5 685.7L191.1 686.4L191.7 687.4L192.3 688.9L195.2 697.7L198.1 705.6L198.7 706.8L199.2 707.4L199.8 707.8L201 708.2L202.1 708.2L203.9 707.4L205.6 706.1L206.2 705.9L207.4 705.7L209.1 705.6L209.7 705.8L210.3 706.2L212.6 708.7L216.1 711.8L216.6 712.2L217.8 712.8L220.1 713.6L223 714.1L227.1 714.2L244.5 714.3" fill="none" stroke="#1a1a1a" stroke-width="1.25" stroke-linejoin="round" />
<line x1="195.74" y1="696.38" x2="196.04" y2="702.69" stroke="#b46a6a" stroke-width="1" />
<line x1="210.24" y1="701.21" x2="210.54" y2="706.47" stroke="#2a2a2a" stroke-width="1" />
<text transform="translate(243 711.75) scale(0.87 1)" font-size="9.7" text-anchor="end" class="sans" fill="#2a2a2a" letter-spacing="-0.35">18.3<tspan font-size="8.2" dy="-0.5" dx="-0.5">&#176;</tspan></text>
<line x1="93" y1="692.17" x2="95" y2="692.17" stroke="#333" stroke-width="0.9" />
<path d="M94.2 685.3L97.1 685.3L99.4 685.6L104.1 685.7L106.4 685.8L108.1 686L111.6 686.6L113.9 687.3L115.7 687.9L120.9 688.8L126.1 689.3L136 689.7L141.2 689.4L147 688.4L149.9 687.7L152.2 687.4L156.9 685.9L159.2 685.4L160.9 684.8L163.3 684.3L167.3 683.1L172.5 681.9L174.3 681.3L178.9 680.1L180.7 680.1L181.2 680.2L182.4 680.6L185.9 682.7L187 683.9L192.9 690.6L194.6 692.3L195.8 693.3L197.5 694.4L201 695.6L203.9 696.2L207.4 696.9L214.3 697.6L230.6 697.9L244.5 697.9" fill="none" stroke="#cf5f5f" stroke-width="0.75" stroke-linejoin="round" stroke-dasharray="1.2 1.5" stroke-linecap="butt" stroke-opacity="0.68"/>
<path d="M94.2 679L97.7 678.6L98.8 678.2L100.6 678L102.9 678.1L105.8 678.4L106.4 678.5L108.1 679.5L109.3 679.9L111 680.9L115.1 682.5L118.6 684.4L119.7 684.8L122.1 686L126.7 686.9L128.4 687.5L129.6 687.6L131.9 688.4L133.7 688.3L134.2 688.4L136 688.9L137.7 689L141.2 688.5L142.9 688L144.7 687.6L145.8 687.2L147.6 686.8L149.9 686L152.8 684.7L154.6 683.8L156.3 682.7L159.2 681.2L159.8 681.1L163.3 681.1L164.4 681.3L166.2 681.7L169.1 681.9L170.8 682.2L172 682.3L172.5 682.1L174.3 681.3L176 679.8L178.3 678L179.5 677L182.4 673.8L183.6 672.8L185.9 671.2L186.5 670.9L187 670.9L187.6 671L188.2 671.3L188.8 671.8L191.1 674.6L192.3 676.5L195.2 682.3L198.1 687.2L199.2 688.3L201.6 689.9L203.3 690.5L205.6 690.8L207.4 691.3L209.7 692.6L211.4 693.9L213.2 694.7L216.1 696.4L217.2 696.8L218.4 697.1L223 697.7L224.8 697.8L234.1 697.9L244.5 697.9" fill="none" stroke="#1a1a1a" stroke-width="1.25" stroke-linejoin="round" />
<line x1="196.16" y1="678.77" x2="196.46" y2="684.23" stroke="#b46a6a" stroke-width="1" />
<line x1="206.25" y1="686.34" x2="206.55" y2="691.8" stroke="#2a2a2a" stroke-width="1" />
<text transform="translate(243 695.4) scale(0.87 1)" font-size="9.7" text-anchor="end" class="sans" fill="#2a2a2a" letter-spacing="-0.35">24.4<tspan font-size="8.2" dy="-0.5" dx="-0.5">&#176;</tspan></text>
<line x1="93" y1="678.98" x2="95" y2="678.98" stroke="#333" stroke-width="0.9" />
<path d="M94.2 668.9L108.1 668.9L111 668.8L120.3 669.4L122.1 669.4L125.5 670L132.5 671.8L137.7 672.1L140 671.6L142.9 671.3L152.2 669.1L156.3 667.6L157.5 667.3L162.7 665.3L171.4 662.6L174.9 662L177.8 661.6L178.3 661.6L179.5 661.8L180.7 662.2L184.1 664L189.4 668.3L193.4 671.4L196.3 673.8L202.7 678L206.2 679.2L211.4 680.5L213.7 680.9L216.1 681.1L227.7 681.4L244.5 681.6" fill="none" stroke="#cf5f5f" stroke-width="0.75" stroke-linejoin="round" stroke-dasharray="1.2 1.5" stroke-linecap="butt" stroke-opacity="0.68"/>
<path d="M94.2 660.4L95.4 660.4L96.5 660.7L97.1 660.7L99.4 660.1L101.2 660.2L103.5 660L105.8 660.7L108.1 661.1L108.7 661.4L111 662.9L115.7 664.6L117.4 665.8L120.9 667.6L122.6 668.1L124.4 668.7L126.1 669.1L130.8 670.3L131.9 670.3L133.1 670.6L135.4 670.8L136.6 671L140 671.1L142.4 670.5L144.1 670.2L146.4 669.2L148.2 668.8L149.3 668.4L151.1 667.5L153.4 666.5L155.1 665.5L156.9 664.6L159.2 663L161.5 662L162.7 661.8L164.4 662L166.7 661.8L171.4 662.5L174.9 662.6L176 662.4L177.8 661.5L179.5 660.9L181.2 660L183.6 658.6L184.7 658.4L185.9 658.7L187.6 659.5L188.8 660.3L189.4 661L191.1 663.6L195.8 671.2L197.5 673.4L198.1 673.8L199.2 674.4L201.6 676L207.4 678.1L209.1 679L212 680L213.7 680.5L217.8 681.2L221.3 681.5L244.5 681.5" fill="none" stroke="#1a1a1a" stroke-width="1.25" stroke-linejoin="round" />
<line x1="197.21" y1="665.57" x2="197.51" y2="671.04" stroke="#b46a6a" stroke-width="1" />
<line x1="204.57" y1="668.93" x2="204.87" y2="674.4" stroke="#2a2a2a" stroke-width="1" />
<text transform="translate(243 679.05) scale(0.87 1)" font-size="9.7" text-anchor="end" class="sans" fill="#2a2a2a" letter-spacing="-0.35">30.5<tspan font-size="8.2" dy="-0.5" dx="-0.5">&#176;</tspan></text>
<line x1="93" y1="660.52" x2="95" y2="660.52" stroke="#333" stroke-width="0.9" />
<path d="M94.2 652.2L105.8 651.5L107 651.5L108.7 651.6L111 651.6L122.1 653L126.7 654L132.5 655.4L134.2 655.6L140 655.2L148.2 653.6L152.8 652.5L155.1 651.8L160.4 650.3L162.7 649.9L165.6 648.9L168.5 648.2L170.2 647.9L173.7 647.7L176.6 647.6L177.8 647.6L178.9 647.8L180.1 648.1L181.8 648.7L184.1 649.8L185.9 651L187.6 652.5L193.4 657L197.5 659.3L199.2 660.2L203.3 661.7L207.4 662.9L210.8 663.7L214.3 664.3L219 664.9L228.8 665.1L244.5 665.2" fill="none" stroke="#cf5f5f" stroke-width="0.75" stroke-linejoin="round" stroke-dasharray="1.2 1.5" stroke-linecap="butt" stroke-opacity="0.68"/>
<path d="M94.2 645L97.7 644.2L98.8 644L100 643.5L102.3 643L105.2 642.7L107.5 642.6L108.1 642.7L112.8 644.8L116.8 646.7L118.6 647.6L121.5 648.8L124.4 649.8L126.7 651.3L129.6 652.4L131.3 653.6L131.9 653.7L133.7 653.9L135.4 654.5L138.9 655.1L140.6 654.9L142.4 654.2L144.7 653.6L151.7 650.6L153.4 649.5L155.1 648.9L157.5 648.3L158.6 647.8L160.4 646.7L161.5 646.1L163.3 645.8L165 645.1L166.7 645.1L168.5 645L170.8 645.2L173.1 644.7L173.7 644.8L176 645.2L177.2 645.6L180.7 646.5L181.8 647L183 647.8L184.7 649.3L185.9 650.1L190.5 654.8L194 657.5L195.8 658.6L196.9 658.9L198.7 659.7L201.6 660.6L203.3 661.4L205 661.8L206.8 662.4L208.5 662.6L212 663.4L219.5 664.7L223 665.2L244.5 665.2" fill="none" stroke="#1a1a1a" stroke-width="1.25" stroke-linejoin="round" />
<line x1="198.89" y1="652.37" x2="199.19" y2="657.84" stroke="#b46a6a" stroke-width="1" />
<line x1="206.04" y1="653.64" x2="206.34" y2="659.31" stroke="#2a2a2a" stroke-width="1" />
<text transform="translate(243 662.7) scale(0.87 1)" font-size="9.7" text-anchor="end" class="sans" fill="#2a2a2a" letter-spacing="-0.35">36.6<tspan font-size="8.2" dy="-0.5" dx="-0.5">&#176;</tspan></text>
<line x1="93" y1="644.59" x2="95" y2="644.59" stroke="#333" stroke-width="0.9" />
<path d="M94.2 639.3L95.9 639.4L100.6 639.2L102.3 639.2L104.1 638.9L105.8 638.9L109.9 639L118 640.4L119.7 640.8L121.5 641L129.6 642.5L130.8 642.5L136 642.3L141.8 641.5L147 640.3L149.3 639.9L154 638.8L156.3 638.1L158.6 637.6L163.8 635.9L166.7 635.2L169.1 634.5L172.5 634L175.4 633.3L178.9 633.1L180.1 633.3L181.2 633.7L185.3 635.4L193.4 640.6L197.5 642.9L202.1 645L207.9 646.9L212.6 647.9L216.6 648.4L219 648.6L230.6 648.8L244.5 648.8" fill="none" stroke="#cf5f5f" stroke-width="0.75" stroke-linejoin="round" stroke-dasharray="1.2 1.5" stroke-linecap="butt" stroke-opacity="0.68"/>
<path d="M94.2 631.1L95.4 631.1L96.5 630.8L98.3 630.1L100 629.6L101.2 629L101.7 628.8L102.9 628.7L104.6 628.4L106.4 628.5L113.4 631L115.7 632.4L118.6 633.7L120.3 634.9L123.2 635.9L125.5 636.9L126.7 637.6L129.6 638.8L134.2 639.8L136.6 640.4L138.9 640.5L141.8 640.1L144.7 639.4L146.4 638.6L149.9 637.4L151.1 636.9L152.2 636L154.6 634.7L156.9 633.8L158.6 632.7L160.4 632.2L162.1 631.4L166.2 630.5L167.9 629.9L170.8 629.6L176 628.1L179.5 627.8L180.1 627.9L182.4 628.5L185.3 629.9L188.2 632.3L190.5 634.5L193.4 637.8L195.2 639.4L197.5 641.2L198.7 642L200.4 642.8L203.3 644.5L205 645.6L207.9 646.8L213.2 648.1L215.5 648.4L218.4 648.6L227.7 648.9L235.8 648.8L244.5 648.9" fill="none" stroke="#1a1a1a" stroke-width="1.25" stroke-linejoin="round" />
<line x1="198.89" y1="638.13" x2="199.19" y2="643.59" stroke="#b46a6a" stroke-width="1" />
<line x1="206.04" y1="642.12" x2="206.34" y2="647.38" stroke="#2a2a2a" stroke-width="1" />
<text transform="translate(243 646.35) scale(0.87 1)" font-size="9.7" text-anchor="end" class="sans" fill="#2a2a2a" letter-spacing="-0.35">42.7<tspan font-size="8.2" dy="-0.5" dx="-0.5">&#176;</tspan></text>
<line x1="93" y1="630.98" x2="95" y2="630.98" stroke="#333" stroke-width="0.9" />
<path d="M94.2 623L100 623.1L104.1 622.9L105.8 623.1L108.7 623L112.8 623.4L117.4 624.1L119.7 624.6L124.4 625L128.4 625.6L132.5 625.8L135.4 625.7L141.8 624.9L149.9 623.5L156.9 621.7L159.2 620.9L160.9 620.6L163.3 619.7L166.2 619L169.6 618L176 616.9L179.5 616.7L181.8 617.2L184.7 618.5L185.9 619.2L187 620L190 622.3L192.9 624.4L196.9 627.1L199.2 628.2L203.3 629.7L204.5 630L210.8 631.4L215.5 632L228.8 632.4L244.5 632.5" fill="none" stroke="#cf5f5f" stroke-width="0.75" stroke-linejoin="round" stroke-dasharray="1.2 1.5" stroke-linecap="butt" stroke-opacity="0.68"/>
<path d="M94.2 615.4L95.4 615.2L96.5 614.8L99.4 614L101.7 613.5L104.1 613.2L105.8 613.3L106.4 613.4L109.9 614.5L111.6 615.3L114.5 616.4L119.7 618L122.1 619.5L122.6 619.7L124.4 619.9L126.1 620.6L129.6 621.1L131.9 621.9L134.2 622.5L136.6 622.9L137.7 622.8L139.5 622.9L140.6 622.8L144.1 622.9L145.8 622.5L148.2 621.7L149.3 621.4L151.1 620.9L155.7 619.1L159.8 617.8L161.5 617L164.4 616.2L167.3 615L167.9 614.8L169.6 614.6L171.4 613.9L172.5 613.7L176 612.5L177.2 612.3L178.9 611.7L181.8 611.5L183 611.8L185.3 612.8L188.2 614.6L191.1 617.6L193.4 620.2L194.6 621.3L198.1 625.4L201.6 627.9L202.7 628.2L205 629.4L206.8 629.9L209.1 630.7L212 631.4L214.3 631.7L221.9 632.4L229.4 632.5L244.5 632.5" fill="none" stroke="#1a1a1a" stroke-width="1.25" stroke-linejoin="round" />
<line x1="198.26" y1="621.99" x2="198.56" y2="627.24" stroke="#b46a6a" stroke-width="1" />
<line x1="209.4" y1="624.09" x2="209.7" y2="629.56" stroke="#2a2a2a" stroke-width="1" />
<text transform="translate(243 630) scale(0.87 1)" font-size="9.7" text-anchor="end" class="sans" fill="#2a2a2a" letter-spacing="-0.35">48.8<tspan font-size="8.2" dy="-0.5" dx="-0.5">&#176;</tspan></text>
<line x1="93" y1="615.26" x2="95" y2="615.26" stroke="#333" stroke-width="0.9" />
<path d="M94.2 609.9L106.4 609.6L112.2 609.7L115.1 610L120.9 610.3L124.4 610.7L126.7 611.1L132.5 611.8L138.3 611.9L143.5 611.2L147 610.9L149.3 610.3L152.2 609.9L162.7 607.5L164.4 607.4L170.8 606.2L177.8 605.7L180.1 605.6L181.8 605.9L184.1 606.6L188.2 608.4L193.4 611L198.1 613L201.6 614L207.9 615.1L214.9 615.9L220.1 616.1L244.5 616.1" fill="none" stroke="#cf5f5f" stroke-width="0.75" stroke-linejoin="round" stroke-dasharray="1.2 1.5" stroke-linecap="butt" stroke-opacity="0.68"/>
<path d="M94.2 602.2L95.9 602.4L98.3 602L100.6 601.9L104.1 601.4L107 601.6L109.3 601.9L111 602.5L112.8 602.9L115.1 603.8L116.8 604L118 604.3L124.4 606.7L126.1 607.2L129 608.3L133.7 609.1L136 609.1L137.7 609.4L138.3 609.3L139.5 609L141.2 608.8L145.8 608L149.9 607.7L151.7 607.1L153.4 607.3L154 607.1L155.1 606.4L156.3 606.2L158 605.6L160.4 605.2L162.1 605.1L165.6 604.3L167.3 603.8L169.1 603.7L170.8 602.8L173.1 602.7L174.3 602.5L176 602L177.2 602L182.4 601.4L183.6 601.4L184.7 601.8L187 603L191.7 606.5L193.4 608.1L198.7 611.6L200.4 612.4L202.1 613.3L205.6 614.4L211.4 615.3L214.9 615.6L220.1 615.9L225.9 616.1L244.5 616.1" fill="none" stroke="#1a1a1a" stroke-width="1.25" stroke-linejoin="round" />
<line x1="197.21" y1="603.53" x2="197.51" y2="608.79" stroke="#b46a6a" stroke-width="1" />
<line x1="210.45" y1="609.63" x2="210.75" y2="614.89" stroke="#2a2a2a" stroke-width="1" />
<text transform="translate(243 613.65) scale(0.87 1)" font-size="9.7" text-anchor="end" class="sans" fill="#2a2a2a" letter-spacing="-0.35">54.9<tspan font-size="8.2" dy="-0.5" dx="-0.5">&#176;</tspan></text>
<line x1="93" y1="602.48" x2="95" y2="602.48" stroke="#333" stroke-width="0.9" />
<path d="M94.2 594.6L97.7 594.4L101.2 594.5L103.5 594.3L111 594.3L118.6 594.9L122.1 594.9L129 595.6L136 595.8L141.8 595.5L147 594.7L151.1 594.3L155.1 593.6L158 593.4L159.8 593L162.7 592.7L165.6 592.5L169.6 591.9L172.5 591.7L174.3 591.7L176.6 591.5L180.1 591.5L181.8 591.3L183.6 591.4L184.7 591.7L190.5 593.7L195.8 596L201.6 597.7L207.4 598.7L216.1 599.5L221.3 599.8L244.5 599.8" fill="none" stroke="#cf5f5f" stroke-width="0.75" stroke-linejoin="round" stroke-dasharray="1.2 1.5" stroke-linecap="butt" stroke-opacity="0.68"/>
<path d="M94.2 586.9L97.7 587.1L101.2 586.4L103.5 586.3L104.6 586.1L105.2 586.1L106.4 586.3L107.5 586.2L108.1 586.3L111.6 587.3L113.9 587.8L116.3 588.7L116.8 588.8L118 588.9L119.7 589.7L120.9 589.9L124.4 591.2L126.1 591.4L131.9 592.5L133.1 592.9L134.8 593L135.4 593L137.1 592.7L140.6 592.8L144.1 592.3L147 592.1L148.7 591.7L150.5 591.7L155.7 590.7L157.5 590L158 589.9L162.1 589.7L164.4 589L166.7 588.8L168.5 588.4L172 588.2L173.7 588.3L175.4 587.8L176.6 587.9L178.9 587.4L182.4 587.1L183.6 587.2L184.1 587.3L185.9 588.3L187 588.7L188.8 589.9L190.5 590.8L191.7 591.8L192.9 593L193.4 593.5L194 593.8L195.2 594.1L195.8 594.3L199.2 596.1L199.8 596.3L201 596.6L202.1 596.8L204.5 597.6L207.9 598.4L214.3 599.3L218.4 599.6L230 599.8L244.5 599.8" fill="none" stroke="#1a1a1a" stroke-width="1.25" stroke-linejoin="round" />
<line x1="196.16" y1="587.6" x2="196.46" y2="592.65" stroke="#b46a6a" stroke-width="1" />
<line x1="211.92" y1="594.33" x2="212.22" y2="599.38" stroke="#2a2a2a" stroke-width="1" />
<text transform="translate(243 597.3) scale(0.87 1)" font-size="9.7" text-anchor="end" class="sans" fill="#2a2a2a" letter-spacing="-0.35">61<tspan font-size="8.2" dy="-0.5" dx="-0.5">&#176;</tspan></text>
<line x1="93" y1="587.18" x2="95" y2="587.18" stroke="#333" stroke-width="0.9" />
<path d="M94.2 577.3L97.1 577.1L100.6 577.3L108.7 577L116.8 577.7L122.6 578L130.2 578.7L136.6 578.8L140.6 578.7L142.4 578.3L152.2 577.1L154 576.8L157.5 576.5L160.4 576L165 575.5L169.6 574.7L171.4 574.7L176.6 574.2L182.4 574L184.1 574.1L184.7 574.2L190 576.3L194.6 578.5L199.8 580.6L201.6 581.1L205.6 581.9L216.1 583L220.7 583.4L244.5 583.4" fill="none" stroke="#cf5f5f" stroke-width="0.75" stroke-linejoin="round" stroke-dasharray="1.2 1.5" stroke-linecap="butt" stroke-opacity="0.68"/>
<path d="M94.2 571.9L96.5 571.8L97.7 571.7L99.4 571.8L100.6 571.5L103.5 571.4L105.8 570.9L107.5 571L111 570.7L114.5 571.4L118 572.8L120.3 573.5L121.5 573.7L123.8 574.6L125.5 574.9L127.3 575.5L129 575.9L130.8 576.4L135.4 576.6L137.1 576.6L138.9 576.8L141.8 576L142.4 576L144.1 576.2L144.7 576.1L147 575.2L149.3 575L151.1 574.6L152.8 574.3L154 574L158 573.6L159.8 573.2L162.7 573L163.8 573L165.6 572.8L166.7 572.8L168.5 572.1L169.1 572L170.8 572.2L174.9 571.9L176.6 572.1L181.2 571.3L183.6 571.2L184.7 571.4L185.9 571.8L188.2 573.3L190 574.1L190.5 574.6L192.3 576.4L194.6 578.2L198.1 580L200.4 580.7L202.1 580.9L206.8 581.9L214.3 582.8L219 583.2L227.7 583.4L244.5 583.5" fill="none" stroke="#1a1a1a" stroke-width="1.25" stroke-linejoin="round" />
<line x1="196.16" y1="571.68" x2="196.46" y2="576.3" stroke="#b46a6a" stroke-width="1" />
<line x1="209.4" y1="577.14" x2="209.7" y2="582.19" stroke="#2a2a2a" stroke-width="1" />
<text transform="translate(243 580.95) scale(0.87 1)" font-size="9.7" text-anchor="end" class="sans" fill="#2a2a2a" letter-spacing="-0.35">67.1<tspan font-size="8.2" dy="-0.5" dx="-0.5">&#176;</tspan></text>
<line x1="93" y1="571.89" x2="95" y2="571.89" stroke="#333" stroke-width="0.9" />
<path d="M94.2 561.8L96.5 561.7L101.2 562L108.7 561.8L116.3 561.8L118 561.7L123.2 561.9L126.1 561.8L132.5 561.9L136.6 561.8L138.3 562L140.6 561.8L143.5 561.8L145.8 561.6L147.6 561.6L154 560.4L155.7 560.4L159.8 559.8L162.1 559.6L167.9 558.8L170.2 558.7L173.7 558.2L181.2 557.6L184.1 557.9L186.5 558.7L190 560.3L192.9 562.2L194.6 563L198.1 564.1L201 564.8L207.9 565.8L219 567L222.4 567.1L244.5 567.1" fill="none" stroke="#cf5f5f" stroke-width="0.75" stroke-linejoin="round" stroke-dasharray="1.2 1.5" stroke-linecap="butt" stroke-opacity="0.68"/>
<path d="M94.2 555.7L95.4 555.9L97.7 555.8L99.4 555.9L101.2 555.8L104.1 556L105.8 556.4L107 556.4L113.4 556.7L115.7 557.1L117.4 557.5L119.7 558.3L122.6 559L124.4 559.6L125.5 559.8L126.7 560.1L129 560.3L130.8 560.8L131.3 560.8L132.5 560.6L136.6 560.8L141.2 560.3L143.5 560.3L147 559.5L148.7 559L151.1 558.6L152.8 558.5L155.1 557.9L158.6 557.4L160.9 557.3L162.7 557.2L165.6 557.3L167.3 557.8L169.1 557.9L170.8 558.4L173.1 558.4L176.6 557.4L179.5 556.9L181.8 556.3L184.1 556.2L184.7 556.4L187.6 558L191.1 560.3L192.9 561.9L193.4 562.3L195.8 563.3L197.5 563.5L199.8 564.2L201.6 564.2L204.5 565L207.4 565.6L214.3 566.4L223 567L228.3 567.1L244.5 567.1" fill="none" stroke="#1a1a1a" stroke-width="1.25" stroke-linejoin="round" />
<line x1="195.11" y1="554.9" x2="195.41" y2="559.74" stroke="#b46a6a" stroke-width="1" />
<line x1="207.09" y1="560.16" x2="207.39" y2="564.79" stroke="#2a2a2a" stroke-width="1" />
<text transform="translate(243 564.6) scale(0.87 1)" font-size="9.7" text-anchor="end" class="sans" fill="#2a2a2a" letter-spacing="-0.35">73.2<tspan font-size="8.2" dy="-0.5" dx="-0.5">&#176;</tspan></text>
<line x1="93" y1="555.96" x2="95" y2="555.96" stroke="#333" stroke-width="0.9" />
<g clip-path="none">
<line x1="259.3" y1="29.3" x2="334.7" y2="29.3" stroke="#555" stroke-width="0.9" />
<line x1="259.3" y1="29.3" x2="259.3" y2="241.4" stroke="#444" stroke-width="1" />
<line x1="334.7" y1="29.3" x2="334.7" y2="241.4" stroke="#555" stroke-width="0.9" />
<line x1="258.3" y1="241.4" x2="335.2" y2="241.4" stroke="#333" stroke-width="1.1" />
<line x1="273.4" y1="241.4" x2="273.4" y2="243.6" stroke="#444" stroke-width="0.8" />
<text transform="translate(273.4 252.3) scale(0.9 1)" font-size="10.2" text-anchor="middle" class="sans" fill="#333" >3</text>
<line x1="293.8" y1="241.4" x2="293.8" y2="243.6" stroke="#444" stroke-width="0.8" />
<text transform="translate(293.8 252.3) scale(0.9 1)" font-size="10.2" text-anchor="middle" class="sans" fill="#333" >2</text>
<line x1="314.2" y1="241.4" x2="314.2" y2="243.6" stroke="#444" stroke-width="0.8" />
<text transform="translate(314.2 252.3) scale(0.9 1)" font-size="10.2" text-anchor="middle" class="sans" fill="#333" >1</text>
<line x1="334.6" y1="241.4" x2="334.6" y2="243.6" stroke="#444" stroke-width="0.8" />
<text transform="translate(334.6 252.3) scale(0.9 1)" font-size="10.2" text-anchor="middle" class="sans" fill="#333" >0</text>
<line x1="263.2" y1="241.4" x2="263.2" y2="243.6" stroke="#444" stroke-width="0.8" />
<line x1="283.6" y1="241.4" x2="283.6" y2="243.6" stroke="#444" stroke-width="0.8" />
<line x1="304" y1="241.4" x2="304" y2="243.6" stroke="#444" stroke-width="0.8" />
<line x1="324.4" y1="241.4" x2="324.4" y2="243.6" stroke="#444" stroke-width="0.8" />
<text transform="translate(297.3 261.8) scale(0.85 1)" font-size="10.5" text-anchor="middle" class="sans" fill="#2a2a2a" >Binding Energy [eV]</text>
<text x="333.5" y="26.6" font-size="9.9" text-anchor="end" class="sans" fill="#2a2a2a" letter-spacing="-0.42" >h&#957;= 20 eV</text>
</g>
<line x1="260.2" y1="111" x2="261.4" y2="159" stroke="#e0643a" stroke-width="1.8" />
<path d="M259.3 30.8L259.8 31.5L261.2 36.1L261.7 37.3L263.1 39.5L264.5 41.1L265.5 41.9L266.9 42.6L269.2 43.2L271.1 43.5L274.9 43.7L279.7 43.8L285.3 44.3L291 45.1L298.1 46.3L305.7 47.3L321.3 47.8L334.6 47.9" fill="none" stroke="#cf5f5f" stroke-width="0.8" stroke-linejoin="round" stroke-dasharray="2.4 1.8" stroke-opacity="0.9"/>
<path d="M259.3 29.6L259.7 29.9L260.8 34.5L261.2 35.7L261.6 36.5L263.5 39.4L263.8 39.6L264.2 39.5L264.6 39.7L265.7 40.8L266.1 41L267.2 40.9L268 41L269.9 40.4L270.3 40.4L271.4 41.1L271.8 41.2L272.5 41L273.7 41.4L274.1 41.4L275.2 40.4L276.3 40.4L277.5 39.3L278.6 39.1L279.7 38.2L281.6 37.8L283.1 37.8L283.5 38L283.9 38.5L284.7 39.8L285 40.1L285.8 40.5L286.2 40.9L288.4 43.8L290.3 45.1L290.7 45L291.5 44.5L291.8 44.5L293 45.3L294.1 45.7L295.6 45.8L296.8 46.2L298.7 46L301.7 46.7L302.4 46.6L303.6 47.3L304 47.3L304.7 46.7L305.1 46.6L308.1 47.2L310 47.4L311.1 47.2L314.2 47.8L316.4 47.8L317.2 47.5L318 47.5L319.5 47.9L320.2 47.7L321 47.7L321.7 47.5L322.9 47.4L323.6 47.5L324.8 47.5L325.5 47.8L325.9 47.9L327 47.6L327.4 47.6L328.9 48.2L330.1 47.9L331.2 48.2L332 47.9L333.1 47.7L333.8 47.8L334.6 47.5" fill="none" stroke="#1a1a1a" stroke-width="1.25" stroke-linejoin="round" />
<line x1="282.1" y1="31.31" x2="282.4" y2="37.01" stroke="#2a2a2a" stroke-width="1" />
<text transform="translate(332.8 44) scale(0.87 1)" font-size="9.7" text-anchor="end" class="sans" fill="#2a2a2a" letter-spacing="-0.35">45<tspan font-size="8.2" dy="-0.5" dx="-0.5">&#176;</tspan></text>
<line x1="333.2" y1="47.9" x2="335.9" y2="47.9" stroke="#222" stroke-width="1" />
<path d="M259.3 45.4L259.8 45.8L260.2 46.6L261.7 49.9L262.1 50.7L262.6 51.4L263.6 52.3L265 53.4L266.4 54.3L269.7 55.9L271.6 56.5L274.5 56.8L281.1 57L283.9 57.2L297.7 59.5L305.2 60.4L318.5 60.7L334.6 60.8" fill="none" stroke="#cf5f5f" stroke-width="0.8" stroke-linejoin="round" stroke-dasharray="2.4 1.8" stroke-opacity="0.9"/>
<path d="M259.3 44.3L259.7 44.8L260.4 46L261.9 49.4L262.3 50L262.7 50.4L263.8 51.1L265.4 52.4L266.1 52.8L267.2 53.2L268 53.8L268.4 53.9L268.8 53.7L269.9 52.9L270.3 52.9L271 53.3L271.4 53.4L272.2 53.3L272.9 53.5L274.1 53.3L275.2 53.4L276.7 52.8L278.6 53.3L279 53.1L279.7 52.4L281.6 52.1L282.8 51.3L283.1 51.4L283.5 51.7L285.4 53.7L286.9 54.6L288.4 56.5L288.8 56.7L289.2 56.7L289.6 56.8L290.3 57.7L291.1 58.2L293 58.5L294.1 58.9L294.5 58.9L295.2 58.7L295.6 58.8L296.4 59.2L297.9 59.3L299.4 59.8L300.9 59.8L301.7 60.2L302.8 60.1L303.6 60.2L304.7 60L306.2 60.4L307.4 60.3L308.1 60.6L310 60.6L312.3 61L313.4 60.9L314.5 60.9L315.7 60.7L318 60.5L318.7 60.5L319.8 61L320.2 61.1L321 60.9L321.7 60.5L322.1 60.4L324 61L325.5 60.7L327 60.9L327.8 60.6L329.7 60.8L331.2 60.5L332.3 60.7L333.5 61.2L334.6 60.7" fill="none" stroke="#1a1a1a" stroke-width="1.25" stroke-linejoin="round" />
<line x1="282.58" y1="47.79" x2="282.88" y2="52.18" stroke="#2a2a2a" stroke-width="1" />
<text transform="translate(332.8 57) scale(0.87 1)" font-size="9.7" text-anchor="end" class="sans" fill="#2a2a2a" letter-spacing="-0.35">42<tspan font-size="8.2" dy="-0.5" dx="-0.5">&#176;</tspan></text>
<line x1="333.2" y1="60.8" x2="335.9" y2="60.8" stroke="#222" stroke-width="1" />
<path d="M259.3 57.6L259.8 57.9L260.2 58.6L262.1 62.5L263.1 63.7L265 65.8L265.9 66.6L267.4 67.4L268.8 67.9L270.7 68.4L273 68.8L275.4 69.1L282.5 69.6L285.3 70.2L289.6 71.4L292 71.8L297.2 72.6L302.9 73.1L309 73.5L313.3 73.7L334.6 73.7" fill="none" stroke="#cf5f5f" stroke-width="0.8" stroke-linejoin="round" stroke-dasharray="2.4 1.8" stroke-opacity="0.9"/>
<path d="M259.3 56.8L260.1 57.3L260.4 57.8L261.9 61.2L262.7 62.5L263.8 63.5L265.4 65.1L266.1 65.4L267.2 65.5L269.1 67.1L270.7 67.2L271.8 67.7L274.1 67.9L275.6 67.7L276.3 67.4L277.8 67.4L279.7 67.1L280.1 67.1L280.9 67.5L281.6 67.6L283.1 67.5L283.5 67.8L284.3 68.9L284.7 69.3L285.8 70.2L286.2 70.3L286.9 70.3L287.7 70L288.1 70.1L289.2 70.8L290.3 70.9L291.5 71.5L291.8 71.6L292.6 71.4L293.7 71.8L294.5 71.8L295.6 72.4L296.8 72.4L297.5 72.7L297.9 72.6L298.7 72.1L299 72.1L300.5 72.6L302.8 72.8L304.7 73.2L305.8 73L306.6 73.4L307.7 73.2L308.5 73.6L308.9 73.7L309.6 73.3L310.8 73.3L311.5 73.2L312.3 73.3L313.8 73.2L314.9 73.4L315.7 73.3L317.6 73.6L318.3 73.4L319.5 73.7L320.2 73.7L321.7 74.1L322.5 74L323.6 73.3L324 73.4L324.8 73.9L325.9 73.6L328.2 74.1L328.5 74L329.3 73.6L329.7 73.6L331.2 74.2L332.7 73.9L333.5 73.6L333.8 73.6L334.6 73.9" fill="none" stroke="#1a1a1a" stroke-width="1.25" stroke-linejoin="round" />
<line x1="280.15" y1="62.32" x2="280.45" y2="67.2" stroke="#2a2a2a" stroke-width="1" />
<text transform="translate(332.8 70) scale(0.87 1)" font-size="9.7" text-anchor="end" class="sans" fill="#2a2a2a" letter-spacing="-0.35">39<tspan font-size="8.2" dy="-0.5" dx="-0.5">&#176;</tspan></text>
<line x1="333.2" y1="73.7" x2="335.9" y2="73.7" stroke="#222" stroke-width="1" />
<path d="M259.3 72.8L259.8 73.1L260.2 73.6L262.1 76.6L263.1 77.6L264.5 78.7L265.9 79.6L267.4 80.2L269.7 81.1L272.1 81.7L273.5 81.9L276.3 82L278.7 82.3L287.2 84.2L290.1 84.7L294.8 85.4L300 86L306.7 86.3L314.2 86.6L334.6 86.6" fill="none" stroke="#cf5f5f" stroke-width="0.8" stroke-linejoin="round" stroke-dasharray="2.4 1.8" stroke-opacity="0.9"/>
<path d="M259.3 72.5L259.7 72.6L260.1 72.9L262.3 76.3L262.7 76.7L263.8 77.5L265 78.5L266.9 79L268 79.5L269.5 79.7L271 81L271.8 80.9L272.9 81L274.4 80.6L275.2 80.9L275.6 81L276.3 80.9L277.1 81.2L277.5 81.1L277.8 80.7L278.2 80.6L279 81.3L279.4 81.4L280.1 81L280.5 81.3L281.6 82.6L282 82.8L282.8 83L284.7 82.6L285 82.7L285.8 83.4L286.2 83.6L287.3 83.6L288.4 84.2L289.6 84.5L290.3 84.9L290.7 84.8L291.5 84.5L291.8 84.5L292.6 84.9L293.4 85.1L294.5 85.1L295.6 85.2L296.4 85.6L297.1 85.8L299 85.6L299.8 85.8L300.9 85.8L302.1 86L303.2 85.8L304.3 85.8L305.5 86.1L306.2 85.9L307 86L307.7 85.9L309.2 86.1L310.4 86.4L312.3 86.2L313 86.4L314.2 86.2L315.3 86.2L316.4 86L317.6 86.5L319.8 86.7L321.7 86.4L322.9 86.6L324 86.5L325.1 86.7L326.7 86.4L327.8 86.9L328.2 86.9L329.7 86.7L330.4 86.5L332.3 86.5L333.5 86.6L334.6 86.1" fill="none" stroke="#1a1a1a" stroke-width="1.25" stroke-linejoin="round" />
<line x1="278.68" y1="74.4" x2="278.98" y2="80.1" stroke="#2a2a2a" stroke-width="1" />
<text transform="translate(332.8 83) scale(0.87 1)" font-size="9.7" text-anchor="end" class="sans" fill="#2a2a2a" letter-spacing="-0.35">36<tspan font-size="8.2" dy="-0.5" dx="-0.5">&#176;</tspan></text>
<line x1="333.2" y1="86.6" x2="335.9" y2="86.6" stroke="#222" stroke-width="1" />
<path d="M259.3 85L259.8 85.2L260.2 85.6L262.1 88.9L263.1 90.1L264 90.9L265.5 91.6L266.9 92.3L268.8 92.9L274.5 94.3L280.1 96.2L284.9 97.4L288.2 98L292.9 98.6L302.9 99.2L313.3 99.5L334.6 99.5" fill="none" stroke="#cf5f5f" stroke-width="0.8" stroke-linejoin="round" stroke-dasharray="2.4 1.8" stroke-opacity="0.9"/>
<path d="M259.3 84.2L259.7 84.7L260.4 86.3L261.9 88.7L263.5 90.2L264.6 90.7L265.4 91.2L266.5 91.4L267.6 91.3L268.8 91.5L269.9 92L271 92.3L272.2 92.8L272.5 92.9L273.3 92.8L274.4 93.4L275.2 93L275.6 93L276.3 93.5L276.7 93.6L277.5 93.5L277.8 93.7L278.6 94.7L279 95L279.7 95.1L280.5 95.9L280.9 96.1L282 95.9L283.1 96.7L284.7 96.9L285.8 97.3L286.9 97.2L287.7 97.7L289.2 97.8L289.9 98.1L291.1 98.4L292.2 98.2L293 98.4L294.1 98.3L297.1 98.8L298.3 98.8L299 99.1L300.2 98.9L301.3 99.2L302.1 99.1L303.6 99.1L304.3 99.4L305.1 99.5L306.6 99L308.1 99.7L308.5 99.7L309.2 99.3L309.6 99.2L310 99.2L310.8 99.6L311.1 99.5L311.9 99.2L313 99.7L313.8 99.8L315.3 99.2L316.1 99.4L317.2 99.8L318 99.6L319.1 99.6L321.4 98.8L322.5 99.3L323.6 99.6L324.8 99.4L325.5 99.4L325.9 99.5L326.7 99.9L327 100L328.2 99L328.5 99L330.4 99.6L330.8 99.6L331.6 99.2L332 99.2L333.1 99.7L333.5 99.7L334.2 99.2L334.6 99.1" fill="none" stroke="#1a1a1a" stroke-width="1.25" stroke-linejoin="round" />
<line x1="274.13" y1="86.98" x2="274.43" y2="91.86" stroke="#2a2a2a" stroke-width="1" />
<text transform="translate(332.8 96) scale(0.87 1)" font-size="9.7" text-anchor="end" class="sans" fill="#2a2a2a" letter-spacing="-0.35">33<tspan font-size="8.2" dy="-0.5" dx="-0.5">&#176;</tspan></text>
<line x1="333.2" y1="99.5" x2="335.9" y2="99.5" stroke="#222" stroke-width="1" />
<path d="M259.3 97.2L259.8 97.5L260.2 98.1L261.7 100.7L262.6 102L263.6 102.7L265.5 103.8L267.4 104.7L272.1 106.1L274.5 107.1L279.2 108.8L282 109.6L285.3 110.4L290.1 111.2L296.2 111.8L300 112L315.7 112.3L334.6 112.4" fill="none" stroke="#cf5f5f" stroke-width="0.8" stroke-linejoin="round" stroke-dasharray="2.4 1.8" stroke-opacity="0.9"/>
<path d="M259.3 96.4L259.7 96.6L260.1 97.1L260.8 98.6L261.6 99.7L263.8 101.5L264.6 102.3L265.7 103.2L266.1 103.4L267.2 103.4L268 103.8L269.5 104.4L269.9 104.4L270.7 104.1L271 104.2L271.8 104.6L272.9 104.8L273.3 105L274.1 105.9L274.4 106.1L275.2 106.2L276.3 106.7L277.5 106.9L279.4 108.4L280.9 108.8L282.4 109.7L284.7 109.9L285.4 110.1L287.3 110.4L288.8 111L289.6 111L290.3 110.7L291.5 111.3L291.8 111.4L292.6 111.5L293.4 111.7L294.5 111.6L296.4 112L296.8 111.9L297.5 111.4L297.9 111.3L299 111.8L299.8 111.8L300.5 112.1L302.4 112L303.2 111.8L303.6 111.9L304.3 112.3L304.7 112.4L305.8 112.1L307.4 111.9L308.1 111.7L308.5 111.7L309.6 112.2L310.8 112.1L311.5 112.5L311.9 112.5L312.7 112.2L314.2 112.4L314.9 112L315.3 112L316.1 112.4L316.4 112.4L317.2 112.2L318 112.2L319.1 111.9L320.2 111.9L321.4 112L322.1 111.9L323.6 112.4L324 112.4L324.8 112L325.1 112L327.4 112.4L328.5 112.4L330.4 112.1L331.2 112.5L332.3 112.3L333.5 112.5L333.8 112.5L334.6 112.1" fill="none" stroke="#1a1a1a" stroke-width="1.25" stroke-linejoin="round" />
<line x1="271.53" y1="98.25" x2="271.83" y2="103.62" stroke="#2a2a2a" stroke-width="1" />
<text transform="translate(332.8 109) scale(0.87 1)" font-size="9.7" text-anchor="end" class="sans" fill="#2a2a2a" letter-spacing="-0.35">30<tspan font-size="8.2" dy="-0.5" dx="-0.5">&#176;</tspan></text>
<line x1="333.2" y1="112.4" x2="335.9" y2="112.4" stroke="#222" stroke-width="1" />
<path d="M259.3 107.7L259.8 108.1L260.2 108.7L261.7 111.8L262.6 113.3L264.5 115.2L265.9 116.3L267.8 117.2L270.7 118.2L275.4 120.5L278.7 121.8L281.6 122.7L284.9 123.5L287.7 124L290.1 124.3L299.6 124.9L316.1 125.2L334.6 125.3" fill="none" stroke="#cf5f5f" stroke-width="0.8" stroke-linejoin="round" stroke-dasharray="2.4 1.8" stroke-opacity="0.9"/>
<path d="M259.3 107.7L260.1 107.9L260.4 108.2L260.8 108.8L261.9 111.3L263.8 113.5L264.6 114.1L265 114.3L265.7 114.5L266.9 115.3L267.2 115.4L268 115.1L268.4 115.2L269.5 116L270.3 116L270.7 116.3L271.4 117.2L272.2 117.6L274.1 119.1L275.2 119.5L276.7 120.9L277.1 121L277.8 121L279 121.4L280.1 121.5L282 122.7L284.3 123.2L285.4 123.2L285.8 123.4L286.9 124.2L287.3 124.3L287.7 124.2L288.4 123.8L288.8 123.9L290.3 124.7L290.7 124.7L291.5 124.5L292.6 124.4L293.7 124.6L294.5 124.2L294.9 124.1L296 125L297.5 124.8L298.7 125L299.4 125.3L299.8 125.3L301.3 124.7L302.1 124.5L302.4 124.5L303.6 125L304.7 125.2L306.2 124.9L307.4 125.1L309.2 125.1L310 125.4L311.9 125.1L312.7 124.7L313 124.7L313.8 125.1L314.5 125.3L315.7 125L317.2 124.7L318.7 125.3L319.8 125.1L321 125.4L322.1 125.2L322.9 125.3L323.6 125.2L324 125.3L324.8 125.6L325.1 125.6L325.5 125.4L326.3 125.4L327 125.2L328.2 125.5L329.3 125.3L330.4 125.5L331.2 125.5L332.7 125.8L333.8 125.6L334.6 125.6" fill="none" stroke="#1a1a1a" stroke-width="1.25" stroke-linejoin="round" />
<line x1="269.58" y1="108.71" x2="269.88" y2="114.41" stroke="#2a2a2a" stroke-width="1" />
<text transform="translate(332.8 122) scale(0.87 1)" font-size="9.7" text-anchor="end" class="sans" fill="#2a2a2a" letter-spacing="-0.35">27<tspan font-size="8.2" dy="-0.5" dx="-0.5">&#176;</tspan></text>
<line x1="333.2" y1="125.3" x2="335.9" y2="125.3" stroke="#222" stroke-width="1" />
<path d="M259.3 118L259.8 118.4L260.2 119.3L261.7 123.1L262.6 125L264 126.8L265.5 128.2L267.4 129.6L272.6 132.1L277.8 134.4L280.1 135.2L284.9 136.4L287.7 136.9L292.5 137.4L296.7 137.7L309.5 138L334.6 138.2" fill="none" stroke="#cf5f5f" stroke-width="0.8" stroke-linejoin="round" stroke-dasharray="2.4 1.8" stroke-opacity="0.9"/>
<path d="M259.3 117.4L259.7 117.5L260.1 117.9L260.4 118.5L261.9 122.9L262.3 123.4L263.1 124.1L264.2 126.2L265.4 126.6L266.1 127.3L267.2 128L268 129.2L268.4 129.6L269.5 129.4L271 130.7L272.2 131L273.3 131.8L274.1 131.8L274.8 132L275.6 132.6L276.3 133.3L277.8 134.1L279 134.5L279.7 134.6L280.5 135L282 135.4L283.5 135.7L285 135.7L286.2 136.6L286.5 136.7L287.3 136.7L288.8 137.3L289.2 137.3L289.9 136.9L290.3 136.8L291.5 137.1L292.6 137.3L293.7 137.2L295.2 137.6L297.1 137.4L298.7 137.9L299.8 137.6L300.5 137.7L301.7 137.5L302.8 137.9L304 138.1L304.3 138.1L305.1 137.6L305.5 137.6L306.6 138L307.7 137.9L310.4 138.3L311.1 138.3L312.3 138.1L313 138.2L313.8 137.9L314.2 137.8L315.7 138L316.4 137.9L317.6 138.3L318 138.3L319.1 137.8L319.5 137.8L320.2 138.1L321 138.2L322.1 138.7L323.2 138.2L325.1 137.9L326.7 137.8L327.4 138.2L328.2 138.2L329.3 138.7L330.1 138.4L330.8 138.5L332 138.2L333.1 138.4L333.5 138.3L334.6 137.9" fill="none" stroke="#1a1a1a" stroke-width="1.25" stroke-linejoin="round" />
<line x1="267.95" y1="117.87" x2="268.25" y2="123.57" stroke="#2a2a2a" stroke-width="1" />
<text transform="translate(332.8 135) scale(0.87 1)" font-size="9.7" text-anchor="end" class="sans" fill="#2a2a2a" letter-spacing="-0.35">24<tspan font-size="8.2" dy="-0.5" dx="-0.5">&#176;</tspan></text>
<line x1="333.2" y1="138.2" x2="335.9" y2="138.2" stroke="#222" stroke-width="1" />
<path d="M259.3 127.7L259.8 128.1L260.2 129L261.7 133L262.6 135L264.5 137.7L266.4 139.8L269.2 142.4L272.1 144.5L274.5 145.7L279.7 147.9L283 148.9L287.7 149.8L292.9 150.3L297.2 150.6L302.4 150.8L316.6 151L334.6 151.1" fill="none" stroke="#cf5f5f" stroke-width="0.8" stroke-linejoin="round" stroke-dasharray="2.4 1.8" stroke-opacity="0.9"/>
<path d="M259.3 127.1L259.7 127.3L260.1 127.8L261.9 132.5L263.5 135.3L263.8 135.9L264.2 136.2L265 136.3L266.5 138.6L267.6 139.1L270.3 141.2L271.4 142.5L271.8 142.8L272.5 143L273.3 143.7L274.4 144.5L276.3 146.2L276.7 146.4L277.8 146.7L279 147.2L279.4 147.2L279.7 147.4L280.5 148.3L280.9 148.5L281.2 148.6L282.4 148.2L282.8 148.3L283.5 148.6L284.3 148.7L285.4 149.5L285.8 149.5L286.5 149.2L286.9 149.2L288.1 149.7L289.9 149.8L291.1 150.2L292.2 149.9L293 150.1L294.1 150.1L295.6 150.5L296.8 150.5L297.5 150.7L298.7 150.5L300.2 150.8L302.4 150.6L304.3 150.6L305.8 150.7L306.6 150.6L307.4 150.7L308.5 151.2L308.9 151.2L310.4 151L311.1 150.8L312.3 151.2L313.4 150.7L313.8 150.7L314.5 150.8L315.3 151.1L316.4 151.2L318.3 150.9L319.5 151L320.6 151L321.7 151.2L322.5 150.8L322.9 150.7L324 150.7L325.1 150.9L325.9 150.8L326.7 150.9L327.8 150.7L328.5 150.9L329.3 151.3L329.7 151.3L330.4 151.1L332.3 151.2L333.5 151.4L334.6 151.4" fill="none" stroke="#1a1a1a" stroke-width="1.25" stroke-linejoin="round" />
<line x1="269.91" y1="143.78" x2="270.21" y2="147.85" stroke="#2a2a2a" stroke-width="1" />
<text transform="translate(332.8 148) scale(0.87 1)" font-size="9.7" text-anchor="end" class="sans" fill="#2a2a2a" letter-spacing="-0.35">21<tspan font-size="8.2" dy="-0.5" dx="-0.5">&#176;</tspan></text>
<line x1="333.2" y1="151.1" x2="335.9" y2="151.1" stroke="#222" stroke-width="1" />
<path d="M259.3 135.7L259.8 136.2L260.2 137.3L261.7 142.2L262.6 144.8L264.5 148.4L266.9 151.7L269.7 154.5L272.1 156.3L276.3 158.9L280.1 160.6L283.5 161.7L287.2 162.6L290.6 163L296.2 163.4L307.6 163.8L334.6 164" fill="none" stroke="#cf5f5f" stroke-width="0.8" stroke-linejoin="round" stroke-dasharray="2.4 1.8" stroke-opacity="0.9"/>
<path d="M259.3 134.9L259.7 135.3L260.4 137L261.9 142L262.3 143L265 148.1L266.5 149.6L267.6 150.5L268.8 151.7L270.3 152.9L272.2 155.1L274.4 156.5L275.6 157.5L276.3 157.8L277.1 157.9L277.5 158.1L278.6 159.5L279.4 160.1L279.7 160.3L281.2 160.5L282 160.5L283.1 161.2L283.9 161.2L285 161.9L285.4 161.9L286.2 161.8L286.5 162L287.7 162.8L288.1 162.9L289.6 162.5L290.7 162.4L291.1 162.4L291.8 163L293.4 163.6L294.5 163.3L295.6 163.5L296.8 163.1L297.1 163.2L297.9 163.7L298.3 163.8L299.4 163.4L300.5 163.5L300.9 163.4L301.7 162.9L302.1 162.8L303.2 163.5L304.3 163.5L305.1 163.9L305.5 164L306.2 163.9L307.7 164L308.5 163.8L308.9 163.8L309.6 164.2L310.8 163.9L312.7 164.2L313 164.1L313.8 163.8L314.2 163.7L316.1 164.1L316.8 164L317.6 164.1L319.1 163.8L321.4 164.1L322.5 164.1L323.6 164.3L324.8 164L325.5 164.4L325.9 164.5L327 164.1L328.2 164.3L329.3 163.9L330.1 163.8L331.2 164.2L332 164.1L333.1 164.2L334.6 164.1" fill="none" stroke="#1a1a1a" stroke-width="1.25" stroke-linejoin="round" />
<text transform="translate(332.8 161) scale(0.87 1)" font-size="9.7" text-anchor="end" class="sans" fill="#2a2a2a" letter-spacing="-0.35">18<tspan font-size="8.2" dy="-0.5" dx="-0.5">&#176;</tspan></text>
<line x1="333.2" y1="164" x2="335.9" y2="164" stroke="#222" stroke-width="1" />
<path d="M259.3 145.5L259.8 146.3L260.2 147.8L261.7 154.7L262.6 158.4L264 162.2L265.5 165.3L266.9 167.5L268.8 169.5L270.2 170.6L271.6 171.5L274 172.6L276.8 173.6L283 175L287.2 175.7L295.3 176.4L302.9 176.7L334.6 176.9" fill="none" stroke="#cf5f5f" stroke-width="0.8" stroke-linejoin="round" stroke-dasharray="2.4 1.8" stroke-opacity="0.9"/>
<path d="M259.3 144.1L259.7 144.8L260.1 146.2L261.9 155L262.3 156.2L264.6 161.5L266.1 164.2L266.9 164.9L267.6 165.9L269.1 167.2L270.3 168.7L270.7 168.9L271.4 168.7L272.5 169.1L273.3 169.1L275.6 170.3L276.3 170.8L277.1 171.5L277.5 171.7L278.2 171.7L279.7 172.5L281.6 173.7L282.8 173.7L283.9 174.5L285 174.6L286.2 175.1L287.3 175.1L288.4 175.6L291.5 176.4L291.8 176.4L293.4 176L294.5 176.2L295.2 176L295.6 176.1L296.8 176.7L297.1 176.8L298.7 176.3L299.8 176.6L300.9 176.4L302.8 176.6L304 176.5L304.7 176.6L305.8 176.4L306.6 176.6L307.4 176.5L308.5 176.8L309.2 176.8L310 176.9L311.1 177.4L311.5 177.2L312.3 176.7L312.7 176.6L313.4 177.1L313.8 177.1L314.9 176.6L316.1 177L317.2 176.8L318 177L319.1 176.8L319.8 176.9L321 177.2L322.1 176.9L323.6 177L324.4 176.8L325.9 177L327 176.7L327.8 176.8L328.5 177.1L329.7 176.9L330.4 177.1L331.6 176.7L333.1 176.9L333.8 176.7L334.6 176.9" fill="none" stroke="#1a1a1a" stroke-width="1.25" stroke-linejoin="round" />
<line x1="272.83" y1="163.57" x2="273.13" y2="168.77" stroke="#2a2a2a" stroke-width="1" />
<text transform="translate(332.8 174) scale(0.87 1)" font-size="9.7" text-anchor="end" class="sans" fill="#2a2a2a" letter-spacing="-0.35">15<tspan font-size="8.2" dy="-0.5" dx="-0.5">&#176;</tspan></text>
<line x1="333.2" y1="176.9" x2="335.9" y2="176.9" stroke="#222" stroke-width="1" />
<path d="M259.3 151.9L259.8 152.8L260.2 154.7L262.1 166.2L263.6 172.5L264.5 175.9L265.5 178.5L266.4 180.4L267.4 182L268.8 183.8L270.2 184.7L271.6 185.3L274.9 186.2L285.3 188.3L288.7 188.8L293.9 189.3L301.9 189.6L334.6 189.8" fill="none" stroke="#cf5f5f" stroke-width="0.8" stroke-linejoin="round" stroke-dasharray="2.4 1.8" stroke-opacity="0.9"/>
<path d="M259.3 151.2L259.7 151.8L260.1 153L262.3 166.2L263.1 169.5L265.4 176.5L267.2 180.6L267.6 181.3L268.4 181.9L268.8 182L269.9 181.9L271 182.3L272.5 182.2L273.3 182.8L273.7 183L274.8 183.1L275.6 182.9L276.3 183.5L277.5 183.6L279.7 185.7L280.1 185.9L281.2 186L282 186.5L282.8 186.8L284.3 186.9L286.2 188L286.9 187.9L289.6 188.3L291.1 188.9L293 188.8L294.9 189.2L296 189L297.1 189.4L298.7 189.2L300.2 189.5L301.3 189.4L302.4 189.6L304 189.5L305.1 189.2L306.6 189.4L308.1 189.5L308.9 189.7L310.4 189.4L311.1 189.7L311.5 189.7L312.7 189.2L314.5 189.7L318.7 189.6L321.4 189.8L322.1 189.6L324 189.5L325.9 189.9L328.2 189.5L328.5 189.6L329.3 190L329.7 190.1L330.8 189.4L331.6 189.8L333.1 189.4L333.8 189.6L334.6 189.6" fill="none" stroke="#1a1a1a" stroke-width="1.25" stroke-linejoin="round" />
<line x1="276.41" y1="178.42" x2="276.71" y2="183.3" stroke="#2a2a2a" stroke-width="1" />
<text transform="translate(332.8 187) scale(0.87 1)" font-size="9.7" text-anchor="end" class="sans" fill="#2a2a2a" letter-spacing="-0.35">12<tspan font-size="8.2" dy="-0.5" dx="-0.5">&#176;</tspan></text>
<line x1="333.2" y1="189.8" x2="335.9" y2="189.8" stroke="#222" stroke-width="1" />
<path d="M259.3 160.6L259.8 161.7L260.2 164L261.7 174.6L262.6 180.4L264 186.7L265 189.9L265.5 191.3L266.4 193.3L267.8 195.6L269.2 197.1L271.1 198.3L272.6 198.9L274.5 199.4L284.4 201.2L295.3 202.4L298.1 202.5L305.7 202.6L334.6 202.7" fill="none" stroke="#cf5f5f" stroke-width="0.8" stroke-linejoin="round" stroke-dasharray="2.4 1.8" stroke-opacity="0.9"/>
<path d="M259.3 159.4L259.7 160.2L260.4 164.1L262.7 179.3L264.6 187L265.4 189L266.9 191.1L268 193.4L268.8 194.2L269.5 194.5L270.7 195.6L271.8 195.9L273.3 196.2L274.1 195.9L274.8 196L275.2 195.9L276.3 195.3L277.1 195.5L277.5 195.5L278.6 194.8L279 194.7L279.4 194.7L280.5 195.3L281.2 195.3L281.6 195.7L282.4 197L282.8 197.2L283.1 197.2L283.5 197.3L285.8 199.7L286.9 200.5L289.9 201.2L291.1 201.6L293.7 201.8L295.2 202.3L296 202.3L297.1 202.5L298.3 202.3L299 202.5L301.7 202.3L302.4 202.6L303.6 202.4L305.8 202.6L306.2 202.6L307 202.2L307.4 202.3L308.1 202.8L310 202.4L311.1 202.5L313 202.4L314.5 202.6L316.1 202.5L317.2 203L317.6 203L318.3 202.6L319.5 202.3L319.8 202.4L320.6 202.8L321 202.8L322.5 202.3L323.6 202.5L324.4 202.4L325.5 202.7L326.7 202.2L327.8 202.7L328.2 202.8L329.3 202.6L330.8 202.7L332 202.7L333.8 202.2L334.6 202.4" fill="none" stroke="#1a1a1a" stroke-width="1.25" stroke-linejoin="round" />
<line x1="279.66" y1="189.37" x2="279.96" y2="195.06" stroke="#2a2a2a" stroke-width="1" />
<text transform="translate(332.8 200) scale(0.87 1)" font-size="9.7" text-anchor="end" class="sans" fill="#2a2a2a" letter-spacing="-0.35">9<tspan font-size="8.2" dy="-0.5" dx="-0.5">&#176;</tspan></text>
<line x1="333.2" y1="202.7" x2="335.9" y2="202.7" stroke="#222" stroke-width="1" />
<path d="M259.3 171.8L259.8 172.9L260.2 175.2L261.7 185.9L262.6 191.8L263.6 196.2L265 201.7L266.4 205.6L267.8 208.3L268.3 209L269.2 210L270.7 211L273 211.9L275.9 212.6L286.8 214.4L295.8 215.3L298.1 215.4L305.2 215.5L334.6 215.6" fill="none" stroke="#cf5f5f" stroke-width="0.8" stroke-linejoin="round" stroke-dasharray="2.4 1.8" stroke-opacity="0.9"/>
<path d="M259.3 169.6L259.7 170.5L260.1 172.1L261.6 183.8L262.3 188.6L264.2 197.4L265.7 201.8L266.5 203.6L267.2 204.8L268.4 205.8L269.5 207.9L269.9 208.2L271 208.2L272.2 208.7L272.9 208.8L273.3 208.7L274.4 208.1L275.2 208.2L276.3 208.2L276.7 208.1L277.5 207.2L278.6 207.4L279.4 207.7L279.7 207.8L280.5 207.1L280.9 207L282.8 208.5L283.5 208.9L284.7 210.3L285 210.6L286.2 211.3L287.3 212.6L287.7 212.9L288.4 212.8L288.8 212.9L289.9 213.7L291.5 214.5L291.8 214.5L292.6 214.1L293 214.2L294.5 215.1L294.9 215.1L295.6 215L296.8 215.2L297.5 214.8L297.9 214.8L298.7 215.2L299.8 215.4L301.3 215L302.4 215.4L303.6 214.9L304.3 215.1L305.5 215.1L306.6 215.5L308.5 215.7L310 215.2L310.8 215.1L311.5 214.8L311.9 214.8L312.7 215.1L313.8 215L314.2 215L315.3 215.7L316.8 215.6L318.3 215.4L320.6 216.3L321 216.2L323.2 215.2L325.1 215.9L325.9 215.8L326.7 215.9L327.8 215.2L328.9 215.6L329.7 215.6L331.2 215.3L332 215.7L332.3 215.8L333.1 215.6L334.6 215.6" fill="none" stroke="#1a1a1a" stroke-width="1.25" stroke-linejoin="round" />
<line x1="280.96" y1="202.27" x2="281.26" y2="207.14" stroke="#2a2a2a" stroke-width="1" />
<text transform="translate(332.8 213) scale(0.87 1)" font-size="9.7" text-anchor="end" class="sans" fill="#2a2a2a" letter-spacing="-0.35">6<tspan font-size="8.2" dy="-0.5" dx="-0.5">&#176;</tspan></text>
<line x1="333.2" y1="215.6" x2="335.9" y2="215.6" stroke="#222" stroke-width="1" />
<path d="M259.3 179.4L259.8 180.6L260.2 183.1L261.7 194.7L262.6 201L263.6 205.7L264.5 209.7L265.5 212.8L266.9 216.2L268.3 218.7L268.8 219.2L269.7 219.9L271.1 220.7L273.5 221.8L279.7 223.7L284.9 225.8L288.7 226.7L292 227.3L297.2 227.9L301.9 228.2L317.6 228.4L334.6 228.5" fill="none" stroke="#cf5f5f" stroke-width="0.8" stroke-linejoin="round" stroke-dasharray="2.4 1.8" stroke-opacity="0.9"/>
<path d="M259.3 179.2L259.7 180L260.1 181.6L261.9 195.9L262.7 200.5L263.5 204L265 209.8L266.1 212.9L267.2 215.5L268 216.3L269.1 217L270.7 218.5L271 218.7L271.4 218.7L272.2 218.5L273.3 218.6L274.4 219.2L274.8 219.2L275.6 218.6L276.3 218.3L277.5 218.3L279 217.9L280.1 217.9L280.9 217.8L281.2 217.9L283.5 219.1L285.8 221.2L288.1 224.4L289.9 225.8L290.7 226.2L291.8 227.1L292.2 227.2L293 227L294.1 227.5L294.9 227.2L295.2 227.2L296.4 227.8L298.3 227.8L299 227.7L300.2 228.3L300.5 228.3L301.7 228.2L303.2 227.5L303.6 227.5L304.3 227.9L304.7 228L305.5 227.9L307.4 228.5L308.5 228.4L309.6 227.9L310 227.9L311.5 228L313 228.4L314.2 228.3L315.3 227.9L315.7 227.9L317.2 228.2L318 228.4L318.3 228.5L319.5 228.3L321 228.5L322.1 228.4L322.9 228.7L324.4 228.4L327 228.5L329.3 228.4L330.1 228.6L330.4 228.5L331.2 228.2L332 228.6L332.7 228.8L333.8 228.6L334.6 228.3" fill="none" stroke="#1a1a1a" stroke-width="1.25" stroke-linejoin="round" />
<line x1="280.15" y1="211.43" x2="280.45" y2="217.12" stroke="#2a2a2a" stroke-width="1" />
<text transform="translate(332.8 226) scale(0.87 1)" font-size="9.7" text-anchor="end" class="sans" fill="#2a2a2a" letter-spacing="-0.35">3<tspan font-size="8.2" dy="-0.5" dx="-0.5">&#176;</tspan></text>
<line x1="333.2" y1="228.5" x2="335.9" y2="228.5" stroke="#222" stroke-width="1" />
<path d="M259.3 153L259.8 155.9L260.2 161.3L261.7 183L263.1 201.4L265 220.9L265.9 227.8L266.4 229.9L267.4 232.5L268.8 234.8L269.7 235.8L271.6 237.3L273.5 238.3L274.5 238.6L276.3 239.2L279.7 239.8L287.2 240.9L292.9 241.3L298.1 241.4L334.6 241.4" fill="none" stroke="#cf5f5f" stroke-width="0.8" stroke-linejoin="round" stroke-dasharray="2.4 1.8" stroke-opacity="0.9"/>
<path d="M259.3 151.9L259.7 153.5L260.1 157.1L261.2 174.7L262.3 189.9L263.8 207.3L265 218.3L265.7 224.1L266.5 227.9L267.6 231.6L268 232.4L269.1 234L270.3 234.7L272.2 236.3L274.1 237L275.2 237L276.3 236.4L276.7 236.4L277.8 237.2L278.6 237.2L279.7 236.8L280.5 236.8L281.6 237.1L282 237.3L283.1 238.1L283.9 238.4L285.4 239.3L287.3 240L288.8 240.9L289.9 240.8L291.1 241L293.4 240.7L295.2 241.2L296 241.2L297.5 241.4L298.7 241.3L300.2 241.5L301.3 241.2L302.4 241.6L302.8 241.7L304 241.4L306.2 241.4L307 241.2L308.5 241.1L310 241.2L310.8 241.6L311.1 241.6L312.3 241.2L312.7 241.2L314.5 241.5L316.4 241.3L317.6 241.7L318.7 241.4L320.2 241.2L321.7 241.5L322.9 241.2L324 241.6L325.5 241.6L325.9 241.6L326.7 241.3L327.8 241.5L328.5 241.3L328.9 241.2L330.4 241.6L331.6 241.4L332.3 241.4L333.1 241.2L333.5 241.3L334.6 241.6" fill="none" stroke="#1a1a1a" stroke-width="1.25" stroke-linejoin="round" />
<line x1="279.82" y1="230.83" x2="280.12" y2="236.52" stroke="#2a2a2a" stroke-width="1" />
<text transform="translate(332.8 239) scale(0.87 1)" font-size="9.7" text-anchor="end" class="sans" fill="#2a2a2a" letter-spacing="-0.35">0<tspan font-size="8.2" dy="-0.5" dx="-0.5">&#176;</tspan></text>
<line x1="333.2" y1="241.4" x2="335.9" y2="241.4" stroke="#222" stroke-width="1" />
<g clip-path="none">
<line x1="259.3" y1="290.3" x2="334.7" y2="290.3" stroke="#555" stroke-width="0.9" />
<line x1="259.3" y1="290.3" x2="259.3" y2="503.3" stroke="#444" stroke-width="1" />
<line x1="334.7" y1="290.3" x2="334.7" y2="503.3" stroke="#555" stroke-width="0.9" />
<line x1="258.3" y1="503.3" x2="335.2" y2="503.3" stroke="#333" stroke-width="1.1" />
<line x1="273.4" y1="503.3" x2="273.4" y2="505.5" stroke="#444" stroke-width="0.8" />
<text transform="translate(273.4 514) scale(0.9 1)" font-size="10.2" text-anchor="middle" class="sans" fill="#333" >3</text>
<line x1="293.8" y1="503.3" x2="293.8" y2="505.5" stroke="#444" stroke-width="0.8" />
<text transform="translate(293.8 514) scale(0.9 1)" font-size="10.2" text-anchor="middle" class="sans" fill="#333" >2</text>
<line x1="314.2" y1="503.3" x2="314.2" y2="505.5" stroke="#444" stroke-width="0.8" />
<text transform="translate(314.2 514) scale(0.9 1)" font-size="10.2" text-anchor="middle" class="sans" fill="#333" >1</text>
<line x1="334.6" y1="503.3" x2="334.6" y2="505.5" stroke="#444" stroke-width="0.8" />
<text transform="translate(334.6 514) scale(0.9 1)" font-size="10.2" text-anchor="middle" class="sans" fill="#333" >0</text>
<line x1="263.2" y1="503.3" x2="263.2" y2="505.5" stroke="#444" stroke-width="0.8" />
<line x1="283.6" y1="503.3" x2="283.6" y2="505.5" stroke="#444" stroke-width="0.8" />
<line x1="304" y1="503.3" x2="304" y2="505.5" stroke="#444" stroke-width="0.8" />
<line x1="324.4" y1="503.3" x2="324.4" y2="505.5" stroke="#444" stroke-width="0.8" />
<text transform="translate(297.3 523.1) scale(0.85 1)" font-size="10.5" text-anchor="middle" class="sans" fill="#2a2a2a" >Binding Energy [eV]</text>
<text x="333.5" y="287.6" font-size="9.9" text-anchor="end" class="sans" fill="#2a2a2a" letter-spacing="-0.42" >h&#957;= 20 eV</text>
</g>
<path d="M259.3 298.4L259.8 298.7L260.2 299.2L262.1 302.1L264.5 304.2L266.4 305.7L268.3 306.8L269.7 307.5L271.6 308L280.6 308.5L290.6 309.5L296.7 309.7L304.8 309.8L334.6 309.8" fill="none" stroke="#cf5f5f" stroke-width="0.8" stroke-linejoin="round" stroke-dasharray="2.4 1.8" stroke-opacity="0.9"/>
<path d="M259.3 298.5L260.8 299.6L263.1 302.2L264.6 303.4L266.1 304.4L266.5 304.5L268.4 304.7L268.8 304.7L269.9 304.4L271 304.5L272.9 303.9L274.8 303.7L277.5 302.9L278.2 302.8L279.4 302.9L280.9 303.4L281.6 303.8L285.4 306.7L287.3 307.9L289.6 308.8L291.8 309.4L296.4 309.7L301.7 309.8L334.6 309.8" fill="none" stroke="#1a1a1a" stroke-width="1.25" stroke-linejoin="round" />
<line x1="279.33" y1="296.83" x2="279.63" y2="302.52" stroke="#2a2a2a" stroke-width="1" />
<text transform="translate(331.9 307.94) scale(0.87 1)" font-size="9.7" text-anchor="end" class="sans" fill="#2a2a2a" letter-spacing="-0.35">51<tspan font-size="8.2" dy="-0.5" dx="-0.5">&#176;</tspan></text>
<line x1="333.2" y1="309.84" x2="335.9" y2="309.84" stroke="#222" stroke-width="1" />
<path d="M259.3 309.3L259.8 309.6L260.2 310.1L262.1 313.5L263.1 314.5L265 316.1L266.4 317.2L268.3 318.3L270.2 319L271.6 319.4L280.6 319.9L290.6 320.8L297.2 321.1L301.9 321.2L334.6 321.2" fill="none" stroke="#cf5f5f" stroke-width="0.8" stroke-linejoin="round" stroke-dasharray="2.4 1.8" stroke-opacity="0.9"/>
<path d="M259.3 309.6L261.2 311.2L262.7 313.1L263.5 313.9L265.4 315.4L266.9 316.1L268.8 316.3L270.3 316.1L274.8 314.6L276.3 314L278.6 313.7L279.4 313.7L280.5 314.2L282.8 315.4L286.5 318.4L287.7 319.1L289.9 320.1L293 320.7L294.9 320.9L300.9 321.2L334.6 321.2" fill="none" stroke="#1a1a1a" stroke-width="1.25" stroke-linejoin="round" />
<line x1="278.52" y1="307.72" x2="278.82" y2="313.09" stroke="#2a2a2a" stroke-width="1" />
<text transform="translate(331.9 319.27) scale(0.87 1)" font-size="9.7" text-anchor="end" class="sans" fill="#2a2a2a" letter-spacing="-0.35">48<tspan font-size="8.2" dy="-0.5" dx="-0.5">&#176;</tspan></text>
<line x1="333.2" y1="321.22" x2="335.9" y2="321.22" stroke="#222" stroke-width="1" />
<path d="M259.3 320.4L259.8 320.7L260.2 321.3L262.1 324.9L262.6 325.4L264.5 327.1L266.4 328.5L267.8 329.4L269.7 330.2L271.6 330.8L280.6 331.3L291 332.2L297.7 332.5L334.6 332.6" fill="none" stroke="#cf5f5f" stroke-width="0.8" stroke-linejoin="round" stroke-dasharray="2.4 1.8" stroke-opacity="0.9"/>
<path d="M259.3 320.6L260.4 321.6L261.9 323.5L263.8 325.6L264.6 326.2L266.5 327.1L267.2 327.3L268.8 327.5L269.9 327.4L271.8 326.7L273.3 326.4L274.4 325.7L277.1 324.9L279 325L279.7 325.2L281.2 326L283.5 327.6L284.7 328.6L288.1 330.7L290.3 331.5L292.6 332.1L295.2 332.3L300.2 332.6L334.6 332.6" fill="none" stroke="#1a1a1a" stroke-width="1.25" stroke-linejoin="round" />
<line x1="278.52" y1="318.78" x2="278.82" y2="324.47" stroke="#2a2a2a" stroke-width="1" />
<text transform="translate(331.9 330.59) scale(0.87 1)" font-size="9.7" text-anchor="end" class="sans" fill="#2a2a2a" letter-spacing="-0.35">45<tspan font-size="8.2" dy="-0.5" dx="-0.5">&#176;</tspan></text>
<line x1="333.2" y1="332.6" x2="335.9" y2="332.6" stroke="#222" stroke-width="1" />
<path d="M259.3 331.7L259.8 332L260.2 332.5L262.1 335.5L263.6 336.9L265.5 338.7L267.4 340.2L268.8 341.1L270.2 341.7L271.6 342.1L280.6 342.7L291 343.6L297.7 343.9L334.6 344" fill="none" stroke="#cf5f5f" stroke-width="0.8" stroke-linejoin="round" stroke-dasharray="2.4 1.8" stroke-opacity="0.9"/>
<path d="M259.3 331.9L260.1 332.4L263.5 335.6L266.1 337.3L268.4 337.7L270.3 337.6L272.2 337L273.7 336.7L274.8 336.2L276.7 335.6L277.5 335.6L279 335.8L279.7 336L280.5 336.4L282.8 338.1L284.3 339.5L285.8 340.5L286.9 341.3L288.4 342.2L289.9 342.8L292.2 343.4L296 343.8L300.9 344L334.6 344" fill="none" stroke="#1a1a1a" stroke-width="1.25" stroke-linejoin="round" />
<line x1="277.71" y1="329.35" x2="278.01" y2="335.04" stroke="#2a2a2a" stroke-width="1" />
<text transform="translate(331.9 341.92) scale(0.87 1)" font-size="9.7" text-anchor="end" class="sans" fill="#2a2a2a" letter-spacing="-0.35">42<tspan font-size="8.2" dy="-0.5" dx="-0.5">&#176;</tspan></text>
<line x1="333.2" y1="343.98" x2="335.9" y2="343.98" stroke="#222" stroke-width="1" />
<path d="M259.3 342.3L259.8 342.6L260.2 343.2L262.1 346.5L264 348.5L265.9 350.3L267.4 351.5L269.2 352.7L270.2 353.1L271.6 353.5L283 354.2L290.6 355L297.7 355.3L334.6 355.4" fill="none" stroke="#cf5f5f" stroke-width="0.8" stroke-linejoin="round" stroke-dasharray="2.4 1.8" stroke-opacity="0.9"/>
<path d="M259.3 342.5L260.8 343.8L262.7 345.9L263.8 346.9L265 347.6L266.5 348.2L269.1 348.2L274.8 346.9L275.9 346.8L276.7 346.9L279.4 348.3L280.9 349.4L282 350L283.1 350.9L286.2 352.9L289.2 354.2L291.5 354.7L294.9 355.1L301.3 355.3L334.6 355.3" fill="none" stroke="#1a1a1a" stroke-width="1.25" stroke-linejoin="round" />
<line x1="276.41" y1="339.91" x2="276.71" y2="345.6" stroke="#2a2a2a" stroke-width="1" />
<text transform="translate(331.9 353.25) scale(0.87 1)" font-size="9.7" text-anchor="end" class="sans" fill="#2a2a2a" letter-spacing="-0.35">39<tspan font-size="8.2" dy="-0.5" dx="-0.5">&#176;</tspan></text>
<line x1="333.2" y1="355.36" x2="335.9" y2="355.36" stroke="#222" stroke-width="1" />
<path d="M259.3 353.4L259.8 353.7L260.2 354.3L261.7 357.2L262.1 357.9L262.6 358.3L266.4 360.3L267.4 361.1L270.2 364L271.1 364.6L272.1 364.9L280.6 365.4L285.3 365.8L290.6 366.4L297.7 366.7L334.6 366.7" fill="none" stroke="#cf5f5f" stroke-width="0.8" stroke-linejoin="round" stroke-dasharray="2.4 1.8" stroke-opacity="0.9"/>
<path d="M259.3 353.9L261.2 355.6L263.5 357.9L264.6 358.7L265.4 359.1L267.6 359.1L270.7 358.5L273.3 357.6L274.1 357.6L275.6 357.3L276.3 357.5L279.7 359.7L283.1 362.5L285.8 364.3L288.8 365.7L290.7 366.1L294.5 366.5L298.7 366.7L334.6 366.8" fill="none" stroke="#1a1a1a" stroke-width="1.25" stroke-linejoin="round" />
<line x1="275.27" y1="350.97" x2="275.57" y2="355.85" stroke="#2a2a2a" stroke-width="1" />
<text transform="translate(331.9 364.58) scale(0.87 1)" font-size="9.7" text-anchor="end" class="sans" fill="#2a2a2a" letter-spacing="-0.35">36<tspan font-size="8.2" dy="-0.5" dx="-0.5">&#176;</tspan></text>
<line x1="333.2" y1="366.74" x2="335.9" y2="366.74" stroke="#222" stroke-width="1" />
<path d="M259.3 364.5L259.8 364.9L260.2 365.5L261.7 368.1L262.1 368.7L263.1 369.5L265.5 370.5L266.9 371.4L270.7 375.6L271.1 375.9L272.1 376.3L282 376.9L291 377.8L298.1 378.1L334.6 378.1" fill="none" stroke="#cf5f5f" stroke-width="0.8" stroke-linejoin="round" stroke-dasharray="2.4 1.8" stroke-opacity="0.9"/>
<path d="M259.3 364.8L260.4 365.6L262.3 367.8L263.1 368.5L264.6 369.5L265.4 369.8L267.2 369.8L268 369.7L269.5 369.4L271.4 368.5L273.7 368L275.2 368.1L275.9 368.3L277.1 368.9L280.1 371.3L281.6 372.8L283.5 374.4L285 375.3L287.7 376.5L290.7 377.4L293.4 377.7L299.4 378.1L334.6 378.1" fill="none" stroke="#1a1a1a" stroke-width="1.25" stroke-linejoin="round" />
<line x1="274.78" y1="360.56" x2="275.08" y2="366.25" stroke="#2a2a2a" stroke-width="1" />
<text transform="translate(331.9 375.9) scale(0.87 1)" font-size="9.7" text-anchor="end" class="sans" fill="#2a2a2a" letter-spacing="-0.35">33<tspan font-size="8.2" dy="-0.5" dx="-0.5">&#176;</tspan></text>
<line x1="333.2" y1="378.12" x2="335.9" y2="378.12" stroke="#222" stroke-width="1" />
<path d="M259.3 375.1L259.8 375.4L260.2 376.1L261.7 378.9L262.1 379.6L262.6 380.1L263.6 380.7L265.9 381.8L266.9 382.5L267.8 383.5L270.2 386.5L271.1 387.3L272.1 387.7L282.5 388.3L291 389.1L298.6 389.5L334.6 389.5" fill="none" stroke="#cf5f5f" stroke-width="0.8" stroke-linejoin="round" stroke-dasharray="2.4 1.8" stroke-opacity="0.9"/>
<path d="M259.3 375.5L260.4 376.3L263.1 379.4L265 380.8L265.4 380.8L266.9 380.8L267.6 380.9L269.5 380.5L271 379.8L273.7 379.1L274.4 379.2L275.9 379.7L276.7 380.1L279.4 382L284.7 386.6L286.9 387.7L289.2 388.4L290.3 388.7L294.9 389.2L302.4 389.5L334.6 389.5" fill="none" stroke="#1a1a1a" stroke-width="1.25" stroke-linejoin="round" />
<line x1="274.78" y1="371.13" x2="275.08" y2="377.63" stroke="#2a2a2a" stroke-width="1" />
<text transform="translate(331.9 387.23) scale(0.87 1)" font-size="9.7" text-anchor="end" class="sans" fill="#2a2a2a" letter-spacing="-0.35">30<tspan font-size="8.2" dy="-0.5" dx="-0.5">&#176;</tspan></text>
<line x1="333.2" y1="389.5" x2="335.9" y2="389.5" stroke="#222" stroke-width="1" />
<path d="M259.3 385.7L259.8 386L260.2 386.6L261.7 389.5L262.1 390.2L263.1 391L265.5 392.4L266.4 393L267.8 394.6L270.2 397.8L271.1 398.7L272.1 399.1L280.6 399.6L290.6 400.5L298.1 400.8L334.6 400.9" fill="none" stroke="#cf5f5f" stroke-width="0.8" stroke-linejoin="round" stroke-dasharray="2.4 1.8" stroke-opacity="0.9"/>
<path d="M259.3 385.9L260.4 386.9L261.9 388.9L263.1 390.2L263.8 390.8L265.4 391.6L266.1 391.8L267.2 391.8L268.4 391.7L269.9 391.2L271 391.1L272.5 390.6L275.6 390.8L276.3 391.1L278.6 392.8L282.4 396.3L285.4 398.3L288.1 399.4L290.3 400.1L294.5 400.6L301.7 400.9L334.6 400.8" fill="none" stroke="#1a1a1a" stroke-width="1.25" stroke-linejoin="round" />
<line x1="274.46" y1="383.32" x2="274.76" y2="389.01" stroke="#2a2a2a" stroke-width="1" />
<text transform="translate(331.9 398.56) scale(0.87 1)" font-size="9.7" text-anchor="end" class="sans" fill="#2a2a2a" letter-spacing="-0.35">27<tspan font-size="8.2" dy="-0.5" dx="-0.5">&#176;</tspan></text>
<line x1="333.2" y1="400.88" x2="335.9" y2="400.88" stroke="#222" stroke-width="1" />
<path d="M259.3 397.1L259.8 397.5L260.2 398.1L261.7 400.9L262.1 401.6L263.1 402.4L265.5 403.7L266.4 404.4L267.8 406L270.2 409.2L271.1 410L272.1 410.4L273.5 410.6L279.2 410.8L283.9 411.2L291 411.9L297.2 412.2L302.9 412.3L334.6 412.3" fill="none" stroke="#cf5f5f" stroke-width="0.8" stroke-linejoin="round" stroke-dasharray="2.4 1.8" stroke-opacity="0.9"/>
<path d="M259.3 397.5L260.8 398.8L263.5 401.7L264.6 402.6L265.4 403L268 403.3L270.7 402.7L273.3 402.4L274.1 402.5L275.6 402.9L276.3 403.2L277.8 404.2L280.1 405.9L282.8 408.1L285 409.5L287.7 410.7L290.7 411.5L293.7 411.9L296.8 412.1L300.9 412.2L334.6 412.3" fill="none" stroke="#1a1a1a" stroke-width="1.25" stroke-linejoin="round" />
<line x1="274.13" y1="397.14" x2="274.43" y2="402.02" stroke="#2a2a2a" stroke-width="1" />
<text transform="translate(331.9 409.88) scale(0.87 1)" font-size="9.7" text-anchor="end" class="sans" fill="#2a2a2a" letter-spacing="-0.35">24<tspan font-size="8.2" dy="-0.5" dx="-0.5">&#176;</tspan></text>
<line x1="333.2" y1="412.26" x2="335.9" y2="412.26" stroke="#222" stroke-width="1" />
<path d="M259.3 406.1L259.8 406.5L260.2 407.2L261.7 410.4L262.6 411.9L263.6 412.7L265.5 413.9L266.4 414.6L267.4 415.8L270.2 420.3L271.1 421.3L272.1 421.8L283.9 422.6L290.6 423.3L297.2 423.5L301.9 423.6L334.6 423.6" fill="none" stroke="#cf5f5f" stroke-width="0.8" stroke-linejoin="round" stroke-dasharray="2.4 1.8" stroke-opacity="0.9"/>
<path d="M259.3 406.5L260.4 407.7L263.1 411.3L265.4 413.2L266.1 413.5L267.2 413.8L272.9 413.4L274.4 413.8L276.7 414.8L279.4 416.9L280.5 418L283.9 420.7L286.5 421.9L289.6 422.7L293.7 423.3L299.4 423.6L334.6 423.6" fill="none" stroke="#1a1a1a" stroke-width="1.25" stroke-linejoin="round" />
<line x1="274.46" y1="408.52" x2="274.76" y2="412.91" stroke="#2a2a2a" stroke-width="1" />
<text transform="translate(331.9 421.21) scale(0.87 1)" font-size="9.7" text-anchor="end" class="sans" fill="#2a2a2a" letter-spacing="-0.35">21<tspan font-size="8.2" dy="-0.5" dx="-0.5">&#176;</tspan></text>
<line x1="333.2" y1="423.64" x2="335.9" y2="423.64" stroke="#222" stroke-width="1" />
<path d="M259.3 411.9L259.8 412.4L260.2 413.5L262.1 419.5L263.1 421.3L266.9 426.4L269.2 430.4L270.2 431.8L271.1 432.8L272.1 433.2L282 433.8L291 434.7L297.7 435L334.6 435" fill="none" stroke="#cf5f5f" stroke-width="0.8" stroke-linejoin="round" stroke-dasharray="2.4 1.8" stroke-opacity="0.9"/>
<path d="M259.3 413.1L261.6 416.7L263.1 420L263.8 421.4L265 423.1L266.1 424.4L268.4 425.6L269.1 425.9L271 425.9L275.2 426.5L275.6 426.6L277.1 427.5L279.7 429.4L284.7 432.3L288.1 433.7L290.3 434.2L291.8 434.5L295.6 434.8L300.9 435L334.6 435" fill="none" stroke="#1a1a1a" stroke-width="1.25" stroke-linejoin="round" />
<line x1="275.27" y1="420.06" x2="275.57" y2="424.94" stroke="#2a2a2a" stroke-width="1" />
<text transform="translate(331.9 432.54) scale(0.87 1)" font-size="9.7" text-anchor="end" class="sans" fill="#2a2a2a" letter-spacing="-0.35">18<tspan font-size="8.2" dy="-0.5" dx="-0.5">&#176;</tspan></text>
<line x1="333.2" y1="435.02" x2="335.9" y2="435.02" stroke="#222" stroke-width="1" />
<path d="M259.3 418.5L259.8 419.3L260.2 420.7L262.1 429L263.1 431.6L264 433.7L265.9 437.2L269.2 442.2L270.7 443.9L271.6 444.5L273 444.7L282 445.2L290.6 446L297.2 446.3L303.3 446.4L334.6 446.4" fill="none" stroke="#cf5f5f" stroke-width="0.8" stroke-linejoin="round" stroke-dasharray="2.4 1.8" stroke-opacity="0.9"/>
<path d="M259.3 420L260.4 422.6L263.8 432L265.7 435.7L266.5 436.8L268 438.3L270.3 439.8L271.8 440.4L272.9 440.6L274.1 441.1L275.2 441.4L276.3 442.1L278.6 442.9L280.5 443.8L284.7 445.1L287.7 445.7L290.3 446L295.2 446.3L304 446.4L334.6 446.4" fill="none" stroke="#1a1a1a" stroke-width="1.25" stroke-linejoin="round" />
<line x1="276.08" y1="435.51" x2="276.38" y2="439.57" stroke="#2a2a2a" stroke-width="1" />
<text transform="translate(331.9 443.86) scale(0.87 1)" font-size="9.7" text-anchor="end" class="sans" fill="#2a2a2a" letter-spacing="-0.35">15<tspan font-size="8.2" dy="-0.5" dx="-0.5">&#176;</tspan></text>
<line x1="333.2" y1="446.4" x2="335.9" y2="446.4" stroke="#222" stroke-width="1" />
<path d="M259.3 424.9L259.8 425.9L260.2 427.7L262.1 438.5L263.1 442L264.5 446L265.9 449.1L268.3 452.8L269.7 454.6L271.1 455.7L272.1 456L273 456.1L280.1 456.4L290.6 457.4L296.2 457.7L301.4 457.8L334.6 457.8" fill="none" stroke="#cf5f5f" stroke-width="0.8" stroke-linejoin="round" stroke-dasharray="2.4 1.8" stroke-opacity="0.9"/>
<path d="M259.3 426.9L260.1 429L260.8 431.5L262.7 438.9L263.5 441.4L264.6 444.6L265.7 447.3L266.9 449.3L268.8 451.5L269.5 452L272.2 453.4L277.5 454.7L282.4 456.3L284.7 456.9L289.2 457.4L298.3 457.8L334.6 457.7" fill="none" stroke="#1a1a1a" stroke-width="1.25" stroke-linejoin="round" />
<line x1="276.89" y1="449.16" x2="277.19" y2="454.04" stroke="#2a2a2a" stroke-width="1" />
<text transform="translate(331.9 455.19) scale(0.87 1)" font-size="9.7" text-anchor="end" class="sans" fill="#2a2a2a" letter-spacing="-0.35">12<tspan font-size="8.2" dy="-0.5" dx="-0.5">&#176;</tspan></text>
<line x1="333.2" y1="457.78" x2="335.9" y2="457.78" stroke="#222" stroke-width="1" />
<path d="M259.3 431.7L259.8 432.7L260.2 434.7L261.7 443.9L262.6 448.9L263.6 452.6L265 457.3L266.4 460.7L268.3 463.9L269.7 465.8L271.1 467L271.6 467.3L272.6 467.4L283 468L291 468.8L297.2 469.1L334.6 469.2" fill="none" stroke="#cf5f5f" stroke-width="0.8" stroke-linejoin="round" stroke-dasharray="2.4 1.8" stroke-opacity="0.9"/>
<path d="M259.3 434L260.4 437.7L263.8 451.8L264.6 454.5L265.4 456.6L266.9 459.9L268 461.7L269.5 463.3L271.8 464.9L273.7 465.6L274.8 465.8L282.8 468L285.8 468.5L289.9 468.9L303.2 469.2L334.6 469.2" fill="none" stroke="#1a1a1a" stroke-width="1.25" stroke-linejoin="round" />
<line x1="276.89" y1="460.7" x2="277.19" y2="465.58" stroke="#2a2a2a" stroke-width="1" />
<text transform="translate(331.9 466.52) scale(0.87 1)" font-size="9.7" text-anchor="end" class="sans" fill="#2a2a2a" letter-spacing="-0.35">9<tspan font-size="8.2" dy="-0.5" dx="-0.5">&#176;</tspan></text>
<line x1="333.2" y1="469.16" x2="335.9" y2="469.16" stroke="#222" stroke-width="1" />
<path d="M259.3 438.2L259.8 439.5L260.2 441.9L262.1 456.2L263.1 461.1L264.5 466.8L265.9 471L267.4 473.7L269.2 476.6L270.2 477.7L271.1 478.4L271.6 478.6L272.6 478.8L283.5 479.4L290.6 480.2L296.7 480.4L301.4 480.5L334.6 480.5" fill="none" stroke="#cf5f5f" stroke-width="0.8" stroke-linejoin="round" stroke-dasharray="2.4 1.8" stroke-opacity="0.9"/>
<path d="M259.3 441.4L260.4 445.5L263.5 460.5L265.4 467.6L266.9 471.2L268 473.2L268.8 474.2L270.3 475.6L271.4 476.4L275.6 477.8L277.5 478.1L282 479.3L285.8 479.9L289.2 480.2L293.7 480.4L303.2 480.6L334.6 480.5" fill="none" stroke="#1a1a1a" stroke-width="1.25" stroke-linejoin="round" />
<line x1="277.71" y1="472.9" x2="278.01" y2="476.96" stroke="#2a2a2a" stroke-width="1" />
<text transform="translate(331.9 477.85) scale(0.87 1)" font-size="9.7" text-anchor="end" class="sans" fill="#2a2a2a" letter-spacing="-0.35">6<tspan font-size="8.2" dy="-0.5" dx="-0.5">&#176;</tspan></text>
<line x1="333.2" y1="480.54" x2="335.9" y2="480.54" stroke="#222" stroke-width="1" />
<path d="M259.3 444.8L259.8 446.2L260.2 449.1L262.1 465.8L263.1 471.3L264.5 477.7L265.5 481L265.9 482.3L266.9 484.3L268.3 486.7L269.2 488L270.2 489.1L271.1 489.8L272.1 490.1L273.5 490.3L280.6 490.6L290.6 491.5L296.2 491.8L302.4 491.9L334.6 491.9" fill="none" stroke="#cf5f5f" stroke-width="0.8" stroke-linejoin="round" stroke-dasharray="2.4 1.8" stroke-opacity="0.9"/>
<path d="M259.3 448.3L260.8 455.5L263.8 472.5L265.4 478.4L266.5 481.6L268 484.6L268.4 485.2L269.9 486.8L271.8 488L272.5 488.3L273.7 488.4L275.2 488.9L279.7 489.6L284.3 490.7L286.2 491.1L291.5 491.7L299.8 491.9L334.6 491.9" fill="none" stroke="#1a1a1a" stroke-width="1.25" stroke-linejoin="round" />
<line x1="279.01" y1="484.28" x2="279.31" y2="489.16" stroke="#2a2a2a" stroke-width="1" />
<text transform="translate(331.9 489.17) scale(0.87 1)" font-size="9.7" text-anchor="end" class="sans" fill="#2a2a2a" letter-spacing="-0.35">3<tspan font-size="8.2" dy="-0.5" dx="-0.5">&#176;</tspan></text>
<line x1="333.2" y1="491.92" x2="335.9" y2="491.92" stroke="#222" stroke-width="1" />
<path d="M259.3 453L259.8 454.6L260.2 457.7L261.7 470.3L263.1 481.3L264 487.2L265 491.8L265.9 495.2L266.9 497.1L268.3 499L269.2 500L270.2 500.8L271.1 501.3L272.6 501.6L279.7 501.9L290.6 502.9L296.2 503.2L301.4 503.3L334.6 503.3" fill="none" stroke="#cf5f5f" stroke-width="0.8" stroke-linejoin="round" stroke-dasharray="2.4 1.8" stroke-opacity="0.9"/>
<path d="M259.3 456.8L260.1 460.1L260.8 464.2L263.8 483.3L264.6 487.2L265.4 490.4L266.5 494.1L267.2 495.8L268 497.2L268.8 498.1L270.7 499.5L271.4 499.9L272.9 500.4L276.7 501L279.4 501.3L282 501.8L284.3 502.3L288.1 502.9L291.8 503.1L301.3 503.3L334.6 503.3" fill="none" stroke="#1a1a1a" stroke-width="1.25" stroke-linejoin="round" />
<line x1="278.52" y1="495.66" x2="278.82" y2="500.54" stroke="#2a2a2a" stroke-width="1" />
<text transform="translate(331.9 500.5) scale(0.87 1)" font-size="9.7" text-anchor="end" class="sans" fill="#2a2a2a" letter-spacing="-0.35">0<tspan font-size="8.2" dy="-0.5" dx="-0.5">&#176;</tspan></text>
<line x1="333.2" y1="503.3" x2="335.9" y2="503.3" stroke="#222" stroke-width="1" />
<g clip-path="none">
<line x1="259.3" y1="550.8" x2="334.7" y2="550.8" stroke="#555" stroke-width="0.9" />
<line x1="259.3" y1="550.8" x2="259.3" y2="763.3" stroke="#444" stroke-width="1" />
<line x1="334.7" y1="550.8" x2="334.7" y2="763.3" stroke="#555" stroke-width="0.9" />
<line x1="258.3" y1="763.3" x2="335.2" y2="763.3" stroke="#333" stroke-width="1.1" />
<line x1="273.4" y1="763.3" x2="273.4" y2="765.5" stroke="#444" stroke-width="0.8" />
<text transform="translate(273.4 774) scale(0.9 1)" font-size="10.2" text-anchor="middle" class="sans" fill="#333" >3</text>
<line x1="293.8" y1="763.3" x2="293.8" y2="765.5" stroke="#444" stroke-width="0.8" />
<text transform="translate(293.8 774) scale(0.9 1)" font-size="10.2" text-anchor="middle" class="sans" fill="#333" >2</text>
<line x1="314.2" y1="763.3" x2="314.2" y2="765.5" stroke="#444" stroke-width="0.8" />
<text transform="translate(314.2 774) scale(0.9 1)" font-size="10.2" text-anchor="middle" class="sans" fill="#333" >1</text>
<line x1="334.6" y1="763.3" x2="334.6" y2="765.5" stroke="#444" stroke-width="0.8" />
<text transform="translate(334.6 774) scale(0.9 1)" font-size="10.2" text-anchor="middle" class="sans" fill="#333" >0</text>
<line x1="263.2" y1="763.3" x2="263.2" y2="765.5" stroke="#444" stroke-width="0.8" />
<line x1="283.6" y1="763.3" x2="283.6" y2="765.5" stroke="#444" stroke-width="0.8" />
<line x1="304" y1="763.3" x2="304" y2="765.5" stroke="#444" stroke-width="0.8" />
<line x1="324.4" y1="763.3" x2="324.4" y2="765.5" stroke="#444" stroke-width="0.8" />
<text transform="translate(297.3 783.1) scale(0.85 1)" font-size="10.5" text-anchor="middle" class="sans" fill="#2a2a2a" >Binding Energy [eV]</text>
<text x="333.5" y="549.3" font-size="9.9" text-anchor="end" class="sans" fill="#2a2a2a" letter-spacing="-0.42" >h&#957;= 20 eV</text>
</g>
<path d="M259.3 555.7L259.8 556.1L260.7 557.3L261.7 558.1L263.1 558.8L265 559.1L271.6 559.4L283.5 559.7L293.9 560.9L296.2 561.1L334.6 561.1" fill="none" stroke="#cf5f5f" stroke-width="0.8" stroke-linejoin="round" stroke-dasharray="2.4 1.8" stroke-opacity="0.9"/>
<path d="M259.3 551.2L259.7 551.3L260.4 552L262.3 554.6L263.5 555.6L265.7 557.3L268.8 558.5L270.3 559L274.1 559.6L285.8 560.7L293.7 561L334.6 561.1" fill="none" stroke="#1a1a1a" stroke-width="1.25" stroke-linejoin="round" />
<line x1="279.01" y1="553.78" x2="279.31" y2="559.47" stroke="#2a2a2a" stroke-width="1" />
<text transform="translate(330.5 559.5) scale(0.87 1)" font-size="9.7" text-anchor="end" class="sans" fill="#2a2a2a" letter-spacing="-0.35">73.2<tspan font-size="8.2" dy="-0.5" dx="-0.5">&#176;</tspan></text>
<line x1="333.2" y1="561.1" x2="335.9" y2="561.1" stroke="#222" stroke-width="1" />
<path d="M259.3 572.6L259.8 572.9L261.2 574.7L262.1 575.3L263.6 575.7L265.9 576L282.5 576.5L285.3 576.7L293.9 577.7L296.2 577.9L334.6 578" fill="none" stroke="#cf5f5f" stroke-width="0.8" stroke-linejoin="round" stroke-dasharray="2.4 1.8" stroke-opacity="0.9"/>
<path d="M259.3 566L260.1 566.5L261.6 568.9L262.3 569.8L264.2 571.6L266.9 572.8L269.1 573.7L272.5 574.4L273.3 574.6L274.8 574.7L276.7 575.2L277.5 575.3L282 576.4L285.8 577.1L291.8 577.7L297.1 577.9L334.6 577.9" fill="none" stroke="#1a1a1a" stroke-width="1.25" stroke-linejoin="round" />
<line x1="276.57" y1="569.82" x2="276.87" y2="574.7" stroke="#2a2a2a" stroke-width="1" />
<text transform="translate(330.5 576.28) scale(0.87 1)" font-size="9.7" text-anchor="end" class="sans" fill="#2a2a2a" letter-spacing="-0.35">67.1<tspan font-size="8.2" dy="-0.5" dx="-0.5">&#176;</tspan></text>
<line x1="333.2" y1="577.95" x2="335.9" y2="577.95" stroke="#222" stroke-width="1" />
<path d="M259.3 589.4L259.8 589.7L260.7 591L261.7 591.9L263.1 592.5L265 592.8L271.6 593.1L282.5 593.3L284.9 593.5L293.9 594.6L296.2 594.8L334.6 594.8" fill="none" stroke="#cf5f5f" stroke-width="0.8" stroke-linejoin="round" stroke-dasharray="2.4 1.8" stroke-opacity="0.9"/>
<path d="M259.3 582.1L259.7 582.3L260.1 582.8L261.2 584.7L261.9 585.5L263.1 586.3L265 587.3L267.6 588L269.5 588.3L270.7 588.3L271.4 588.5L275.2 589L276.7 589.7L278.6 590.8L280.1 591.4L283.1 592.9L285.8 593.7L288.4 594.2L292.2 594.6L301.3 594.8L334.6 594.8" fill="none" stroke="#1a1a1a" stroke-width="1.25" stroke-linejoin="round" />
<line x1="274.46" y1="582.93" x2="274.76" y2="588.62" stroke="#2a2a2a" stroke-width="1" />
<text transform="translate(330.5 593.07) scale(0.87 1)" font-size="9.7" text-anchor="end" class="sans" fill="#2a2a2a" letter-spacing="-0.35">61.0<tspan font-size="8.2" dy="-0.5" dx="-0.5">&#176;</tspan></text>
<line x1="333.2" y1="594.8" x2="335.9" y2="594.8" stroke="#222" stroke-width="1" />
<path d="M259.3 606.3L259.8 606.6L260.7 607.8L261.7 608.7L262.6 609.2L263.6 609.5L265.5 609.7L270.7 609.9L283 610.2L296.2 611.6L334.6 611.7" fill="none" stroke="#cf5f5f" stroke-width="0.8" stroke-linejoin="round" stroke-dasharray="2.4 1.8" stroke-opacity="0.9"/>
<path d="M259.3 595.5L260.1 596L261.6 597.8L263.8 599.5L264.6 599.8L266.5 600.3L269.9 600.8L272.2 601.7L272.9 602.2L274.1 603.4L275.6 604.5L277.1 605.8L280.1 608.1L283.5 609.9L286.5 610.7L288.1 610.9L291.5 611.3L299.8 611.6L334.6 611.7" fill="none" stroke="#1a1a1a" stroke-width="1.25" stroke-linejoin="round" />
<line x1="271.21" y1="594.58" x2="271.51" y2="601.08" stroke="#2a2a2a" stroke-width="1" />
<text transform="translate(330.5 609.85) scale(0.87 1)" font-size="9.7" text-anchor="end" class="sans" fill="#2a2a2a" letter-spacing="-0.35">54.9<tspan font-size="8.2" dy="-0.5" dx="-0.5">&#176;</tspan></text>
<line x1="333.2" y1="611.65" x2="335.9" y2="611.65" stroke="#222" stroke-width="1" />
<path d="M259.3 623.1L259.8 623.4L261.2 625.2L261.7 625.5L263.1 626.2L265 626.5L268.8 626.7L283 627L293.4 628.3L296.2 628.5L334.6 628.5" fill="none" stroke="#cf5f5f" stroke-width="0.8" stroke-linejoin="round" stroke-dasharray="2.4 1.8" stroke-opacity="0.9"/>
<path d="M259.3 608.3L260.1 608.5L261.6 610L263.1 611.1L264.6 611.7L266.9 612.1L268 612.7L268.8 613.5L270.3 615.3L272.2 617.3L272.9 618.2L276.3 621.4L277.5 622.2L279.7 624L281.6 625.2L283.9 626.3L286.2 627.1L291.1 627.9L294.5 628.2L300.2 628.5L334.6 628.5" fill="none" stroke="#1a1a1a" stroke-width="1.25" stroke-linejoin="round" />
<line x1="267.47" y1="607.36" x2="267.77" y2="612.24" stroke="#2a2a2a" stroke-width="1" />
<text transform="translate(330.5 626.63) scale(0.87 1)" font-size="9.7" text-anchor="end" class="sans" fill="#2a2a2a" letter-spacing="-0.35">48.8<tspan font-size="8.2" dy="-0.5" dx="-0.5">&#176;</tspan></text>
<line x1="333.2" y1="628.5" x2="335.9" y2="628.5" stroke="#222" stroke-width="1" />
<path d="M259.3 639.9L259.8 640.3L261.2 642L261.7 642.4L262.6 642.9L263.6 643.2L265.5 643.4L283 643.9L293.9 645.1L296.7 645.3L334.6 645.3" fill="none" stroke="#cf5f5f" stroke-width="0.8" stroke-linejoin="round" stroke-dasharray="2.4 1.8" stroke-opacity="0.9"/>
<path d="M259.3 621.3L259.7 621.5L260.1 621.9L261.6 624.3L262.3 625.3L264.2 626.9L265.4 627.6L268.8 632L274.4 636.8L280.5 641L283.1 642.3L285 643.2L286.5 643.7L289.6 644.4L291.1 644.7L294.1 645L299.4 645.3L334.6 645.4" fill="none" stroke="#1a1a1a" stroke-width="1.25" stroke-linejoin="round" />
<line x1="265.52" y1="621.28" x2="265.82" y2="626.98" stroke="#2a2a2a" stroke-width="1" />
<text transform="translate(330.5 643.42) scale(0.87 1)" font-size="9.7" text-anchor="end" class="sans" fill="#2a2a2a" letter-spacing="-0.35">42.7<tspan font-size="8.2" dy="-0.5" dx="-0.5">&#176;</tspan></text>
<line x1="333.2" y1="645.35" x2="335.9" y2="645.35" stroke="#222" stroke-width="1" />
<path d="M259.3 656.8L259.8 657.1L261.2 658.9L262.1 659.5L263.6 660L265.9 660.3L283 660.8L293.9 662L296.7 662.2L334.6 662.2" fill="none" stroke="#cf5f5f" stroke-width="0.8" stroke-linejoin="round" stroke-dasharray="2.4 1.8" stroke-opacity="0.9"/>
<path d="M259.3 635.4L260.1 636L261.2 637.4L261.9 638.1L264.6 639.5L266.9 640.3L267.6 640.8L269.1 642.4L270.7 644.5L272.9 647.3L275.2 649.7L278.2 653.5L280.9 656.5L284.7 659.4L286.5 660.4L288.1 661.1L289.9 661.6L291.5 661.8L299 662.2L334.6 662.2" fill="none" stroke="#1a1a1a" stroke-width="1.25" stroke-linejoin="round" />
<line x1="267.95" y1="640.57" x2="268.25" y2="646.27" stroke="#2a2a2a" stroke-width="1" />
<text transform="translate(330.5 660.2) scale(0.87 1)" font-size="9.7" text-anchor="end" class="sans" fill="#2a2a2a" letter-spacing="-0.35">36.6<tspan font-size="8.2" dy="-0.5" dx="-0.5">&#176;</tspan></text>
<line x1="333.2" y1="662.2" x2="335.9" y2="662.2" stroke="#222" stroke-width="1" />
<path d="M259.3 673.7L259.8 674L260.7 675.2L261.7 676.1L263.1 676.8L265 677L267.8 677.2L283.5 677.6L293.9 678.8L296.7 679L334.6 679" fill="none" stroke="#cf5f5f" stroke-width="0.8" stroke-linejoin="round" stroke-dasharray="2.4 1.8" stroke-opacity="0.9"/>
<path d="M259.3 655.5L259.7 655.6L260.4 656.3L261.6 658L262.3 658.8L264.2 660.1L266.5 661.1L268.4 661.5L271 661.8L271.8 662.1L274.4 665.2L278.6 669.4L281.2 672.1L282.4 672.9L283.1 673.7L287.3 676.6L288.8 677.4L290.7 678L292.2 678.4L293.7 678.7L299.8 679L334.6 679.1" fill="none" stroke="#1a1a1a" stroke-width="1.25" stroke-linejoin="round" />
<line x1="271.21" y1="656.29" x2="271.51" y2="661.49" stroke="#2a2a2a" stroke-width="1" />
<text transform="translate(330.5 676.98) scale(0.87 1)" font-size="9.7" text-anchor="end" class="sans" fill="#2a2a2a" letter-spacing="-0.35">30.5<tspan font-size="8.2" dy="-0.5" dx="-0.5">&#176;</tspan></text>
<line x1="333.2" y1="679.05" x2="335.9" y2="679.05" stroke="#222" stroke-width="1" />
<path d="M259.3 690.5L259.8 690.9L261.2 692.6L262.1 693.2L263.6 693.7L265.5 693.9L272.1 694.2L283.5 694.5L293.9 695.7L296.2 695.9L334.6 695.9" fill="none" stroke="#cf5f5f" stroke-width="0.8" stroke-linejoin="round" stroke-dasharray="2.4 1.8" stroke-opacity="0.9"/>
<path d="M259.3 669L259.7 669.2L260.4 670.1L261.6 672.1L262.3 673.2L265 675.5L266.9 676.6L269.9 677.9L271.4 678.2L273.3 678.5L274.4 678.8L274.8 679L276.3 680.4L278.6 683.2L283.9 689.2L285.8 691.5L288.4 693.4L291.1 694.6L293 695.1L295.2 695.6L299.8 695.8L311.1 695.9L334.6 695.9" fill="none" stroke="#1a1a1a" stroke-width="1.25" stroke-linejoin="round" />
<line x1="274.78" y1="672.81" x2="275.08" y2="678.5" stroke="#2a2a2a" stroke-width="1" />
<text transform="translate(330.5 693.77) scale(0.87 1)" font-size="9.7" text-anchor="end" class="sans" fill="#2a2a2a" letter-spacing="-0.35">24.4<tspan font-size="8.2" dy="-0.5" dx="-0.5">&#176;</tspan></text>
<line x1="333.2" y1="695.9" x2="335.9" y2="695.9" stroke="#222" stroke-width="1" />
<path d="M259.3 679.1L259.8 679.9L260.7 682.9L261.7 685.3L265 691.7L265.9 693.7L267.4 697.8L269.7 705.4L270.7 707.9L271.6 709.8L272.1 710.4L272.6 710.8L273.5 711L275.9 711.1L283.5 711.3L292.9 712.4L296.2 712.7L334.6 712.8" fill="none" stroke="#cf5f5f" stroke-width="0.8" stroke-linejoin="round" stroke-dasharray="2.4 1.8" stroke-opacity="0.9"/>
<path d="M259.3 677.4L260.4 676.8L260.8 676.9L261.2 677.4L263.5 683.2L266.5 689.7L269.5 694.4L271 696.3L271.8 697L273.3 698L274.8 698.5L275.9 699L277.5 699.8L278.2 700.4L279.4 701L282.4 703.5L284.7 705.5L287.7 708.5L288.8 709.4L291.1 710.9L292.6 711.5L293.7 711.9L297.9 712.5L300.5 712.7L334.6 712.8" fill="none" stroke="#1a1a1a" stroke-width="1.25" stroke-linejoin="round" />
<line x1="276.89" y1="693.73" x2="277.19" y2="699.42" stroke="#2a2a2a" stroke-width="1" />
<text transform="translate(330.5 710.55) scale(0.87 1)" font-size="9.7" text-anchor="end" class="sans" fill="#2a2a2a" letter-spacing="-0.35">18.3<tspan font-size="8.2" dy="-0.5" dx="-0.5">&#176;</tspan></text>
<line x1="333.2" y1="712.75" x2="335.9" y2="712.75" stroke="#222" stroke-width="1" />
<path d="M259.3 697L260.2 704.7L260.7 707.5L261.2 709.3L262.1 711.9L265 717.3L270.2 725.4L271.6 727.1L272.6 727.7L273.5 727.9L275.4 728L283.5 728.2L293.9 729.4L296.7 729.6L334.6 729.6" fill="none" stroke="#cf5f5f" stroke-width="0.8" stroke-linejoin="round" stroke-dasharray="2.4 1.8" stroke-opacity="0.9"/>
<path d="M259.3 693.6L259.7 694L260.1 694.7L260.4 695.8L262.3 703.4L264.6 710.4L266.9 715.8L268 717.7L269.5 719.6L271.8 721.7L272.9 722.5L275.6 723.3L276.3 723.3L277.8 723.6L279.4 724L284.7 726.8L287.3 728L290.3 728.9L291.8 729.2L296.8 729.5L302.8 729.6L334.6 729.6" fill="none" stroke="#1a1a1a" stroke-width="1.25" stroke-linejoin="round" />
<line x1="278.85" y1="718.71" x2="279.15" y2="724.4" stroke="#2a2a2a" stroke-width="1" />
<text transform="translate(330.5 727.33) scale(0.87 1)" font-size="9.7" text-anchor="end" class="sans" fill="#2a2a2a" letter-spacing="-0.35">12.2<tspan font-size="8.2" dy="-0.5" dx="-0.5">&#176;</tspan></text>
<line x1="333.2" y1="729.6" x2="335.9" y2="729.6" stroke="#222" stroke-width="1" />
<path d="M259.3 712.4L260.2 720.8L260.7 723.9L261.2 726.1L262.1 729.1L264.5 734.2L266.4 737.7L270.2 742.8L271.1 743.8L272.1 744.4L272.6 744.6L273.5 744.7L283.5 745L293.9 746.2L296.7 746.4L334.6 746.4" fill="none" stroke="#cf5f5f" stroke-width="0.8" stroke-linejoin="round" stroke-dasharray="2.4 1.8" stroke-opacity="0.9"/>
<path d="M259.3 709.1L259.7 709.4L260.1 710.1L260.4 711.3L262.3 719.5L264.2 726.3L265.4 729.8L266.9 733.5L268 735.8L269.1 737.4L270.7 738.9L272.9 740.3L274.8 740.8L277.1 741.2L278.6 741.1L280.1 741.4L281.2 741.4L283.1 741.9L286.9 743.8L289.6 745.3L291.1 745.7L293.7 746.1L296.8 746.4L303.6 746.5L334.6 746.4" fill="none" stroke="#1a1a1a" stroke-width="1.25" stroke-linejoin="round" />
<line x1="282.58" y1="735.56" x2="282.88" y2="742.06" stroke="#2a2a2a" stroke-width="1" />
<text transform="translate(330.5 744.12) scale(0.87 1)" font-size="9.7" text-anchor="end" class="sans" fill="#2a2a2a" letter-spacing="-0.35">6.1<tspan font-size="8.2" dy="-0.5" dx="-0.5">&#176;</tspan></text>
<line x1="333.2" y1="746.45" x2="335.9" y2="746.45" stroke="#222" stroke-width="1" />
<path d="M259.3 735.4L260.2 742.4L260.7 745L261.2 746.7L262.1 749.2L265 754.2L265.9 755.7L266.9 756.9L270.2 760.2L271.1 760.9L272.1 761.3L274.5 761.6L283.5 761.9L293.4 763L296.7 763.3L334.6 763.3" fill="none" stroke="#cf5f5f" stroke-width="0.8" stroke-linejoin="round" stroke-dasharray="2.4 1.8" stroke-opacity="0.9"/>
<path d="M259.3 732.2L259.7 732.6L260.1 733.2L260.4 734.3L262.3 741.2L265 748.6L266.1 751.3L268 754.4L269.1 756L271.8 758L272.5 758.4L275.6 759.2L278.6 759.3L279.7 759.5L280.9 759.6L284.3 760.3L286.5 761.5L287.3 761.8L290.3 762.6L292.6 763L298.7 763.3L334.6 763.3" fill="none" stroke="#1a1a1a" stroke-width="1.25" stroke-linejoin="round" />
<line x1="283.4" y1="754.03" x2="283.7" y2="760.54" stroke="#2a2a2a" stroke-width="1" />
<text transform="translate(330.5 760.9) scale(0.87 1)" font-size="9.7" text-anchor="end" class="sans" fill="#2a2a2a" letter-spacing="-0.35">0<tspan font-size="8.2" dy="-0.5" dx="-0.5">&#176;</tspan></text>
<line x1="333.2" y1="763.3" x2="335.9" y2="763.3" stroke="#222" stroke-width="1" />
<rect x="383.1" y="58.5" width="237.4" height="167.8" fill="none" stroke="#3c3c3c" stroke-width="1"/>
<clipPath id="cp1"><rect x="382.3" y="58.5" width="238.2" height="172.8"/></clipPath>
<line x1="383.1" y1="58.8" x2="385.6" y2="58.8" stroke="#555555" stroke-width="0.8" />
<text transform="translate(380 61.9) scale(0.9 1)" font-size="9" text-anchor="end" class="sans" fill="#444444" stroke="none">2.0</text>
<line x1="383.1" y1="77.72" x2="384.6" y2="77.72" stroke="#555555" stroke-width="0.7" />
<line x1="383.1" y1="96.65" x2="385.6" y2="96.65" stroke="#555555" stroke-width="0.8" />
<text transform="translate(380 99.75) scale(0.9 1)" font-size="9" text-anchor="end" class="sans" fill="#444444" stroke="none">2.5</text>
<line x1="383.1" y1="115.58" x2="384.6" y2="115.58" stroke="#555555" stroke-width="0.7" />
<line x1="383.1" y1="134.5" x2="385.6" y2="134.5" stroke="#555555" stroke-width="0.8" />
<text transform="translate(380 137.6) scale(0.9 1)" font-size="9" text-anchor="end" class="sans" fill="#444444" stroke="none">3.0</text>
<line x1="383.1" y1="153.43" x2="384.6" y2="153.43" stroke="#555555" stroke-width="0.7" />
<line x1="383.1" y1="172.35" x2="385.6" y2="172.35" stroke="#555555" stroke-width="0.8" />
<text transform="translate(380 175.45) scale(0.9 1)" font-size="9" text-anchor="end" class="sans" fill="#444444" stroke="none">3.5</text>
<line x1="383.1" y1="191.28" x2="384.6" y2="191.28" stroke="#555555" stroke-width="0.7" />
<line x1="383.1" y1="210.2" x2="385.6" y2="210.2" stroke="#555555" stroke-width="0.8" />
<text transform="translate(380 213.3) scale(0.9 1)" font-size="9" text-anchor="end" class="sans" fill="#444444" stroke="none">4.0</text>
<line x1="383.1" y1="226.3" x2="383.1" y2="223.8" stroke="#555555" stroke-width="0.8" />
<text transform="translate(383.1 237.6) scale(0.9 1)" font-size="9" text-anchor="middle" class="sans" fill="#444444" stroke="none">0.0</text>
<line x1="409.43" y1="226.3" x2="409.43" y2="224.8" stroke="#555555" stroke-width="0.7" />
<line x1="435.75" y1="226.3" x2="435.75" y2="223.8" stroke="#555555" stroke-width="0.8" />
<text transform="translate(435.75 237.6) scale(0.9 1)" font-size="9" text-anchor="middle" class="sans" fill="#444444" stroke="none">0.5</text>
<line x1="462.07" y1="226.3" x2="462.07" y2="224.8" stroke="#555555" stroke-width="0.7" />
<line x1="488.4" y1="226.3" x2="488.4" y2="223.8" stroke="#555555" stroke-width="0.8" />
<text transform="translate(488.4 237.6) scale(0.9 1)" font-size="9" text-anchor="middle" class="sans" fill="#444444" stroke="none">1.0</text>
<line x1="514.73" y1="226.3" x2="514.73" y2="224.8" stroke="#555555" stroke-width="0.7" />
<line x1="541.05" y1="226.3" x2="541.05" y2="223.8" stroke="#555555" stroke-width="0.8" />
<text transform="translate(541.05 237.6) scale(0.9 1)" font-size="9" text-anchor="middle" class="sans" fill="#444444" stroke="none">1.5</text>
<line x1="567.38" y1="226.3" x2="567.38" y2="224.8" stroke="#555555" stroke-width="0.7" />
<line x1="593.7" y1="226.3" x2="593.7" y2="223.8" stroke="#555555" stroke-width="0.8" />
<text transform="translate(593.7 237.6) scale(0.9 1)" font-size="9" text-anchor="middle" class="sans" fill="#444444" stroke="none">2.0</text>
<line x1="620.03" y1="226.3" x2="620.03" y2="224.8" stroke="#555555" stroke-width="0.7" />
<line x1="443.9" y1="116.5" x2="443.9" y2="226.3" stroke="#1c1c1c" stroke-width="0.95" />
<line x1="501.7" y1="91" x2="501.7" y2="226.3" stroke="#1c1c1c" stroke-width="0.95" />
<rect x="397.51" y="104.25" width="6.1" height="6.1" fill="#0d0d0d" clip-path="url(#cp1)"/>
<rect x="414.6" y="108.01" width="6.1" height="6.1" fill="#0d0d0d" clip-path="url(#cp1)"/>
<rect x="432.36" y="118.95" width="6.1" height="6.1" fill="#0d0d0d" clip-path="url(#cp1)"/>
<rect x="448.76" y="125.78" width="6.1" height="6.1" fill="#0d0d0d" clip-path="url(#cp1)"/>
<rect x="465.5" y="122.36" width="6.1" height="6.1" fill="#0d0d0d" clip-path="url(#cp1)"/>
<rect x="481.9" y="108.01" width="6.1" height="6.1" fill="#0d0d0d" clip-path="url(#cp1)"/>
<rect x="497.27" y="100.84" width="6.1" height="6.1" fill="#0d0d0d" clip-path="url(#cp1)"/>
<rect x="511.97" y="100.84" width="6.1" height="6.1" fill="#0d0d0d" clip-path="url(#cp1)"/>
<rect x="524.95" y="118.95" width="6.1" height="6.1" fill="#0d0d0d" clip-path="url(#cp1)"/>
<rect x="537.25" y="142.86" width="6.1" height="6.1" fill="#0d0d0d" clip-path="url(#cp1)"/>
<path d="M379.54 197.86 L386.74 197.86 L383.14 204.34 Z" fill="#0d0d0d" clip-path="url(#cp1)"/>
<path d="M400.04 198.54 L407.24 198.54 L403.64 205.02 Z" fill="#0d0d0d" clip-path="url(#cp1)"/>
<path d="M419.85 208.45 L427.05 208.45 L423.45 214.93 Z" fill="#0d0d0d" clip-path="url(#cp1)"/>
<path d="M440.01 213.91 L447.21 213.91 L443.61 220.39 Z" fill="#0d0d0d" clip-path="url(#cp1)"/>
<path d="M459.83 213.91 L467.03 213.91 L463.43 220.39 Z" fill="#0d0d0d" clip-path="url(#cp1)"/>
<path d="M479.64 196.49 L486.84 196.49 L483.24 202.97 Z" fill="#0d0d0d" clip-path="url(#cp1)"/>
<path d="M498.09 194.1 L505.29 194.1 L501.69 200.58 Z" fill="#0d0d0d" clip-path="url(#cp1)"/>
<path d="M515.86 202.64 L523.06 202.64 L519.46 209.12 Z" fill="#0d0d0d" clip-path="url(#cp1)"/>
<path d="M532.6 210.84 L539.8 210.84 L536.2 217.32 Z" fill="#0d0d0d" clip-path="url(#cp1)"/>
<path d="M549 201.96 L556.2 201.96 L552.6 208.44 Z" fill="#0d0d0d" clip-path="url(#cp1)"/>
<path d="M563.69 210.84 L570.89 210.84 L567.29 217.32 Z" fill="#0d0d0d" clip-path="url(#cp1)"/>
<circle cx="383.14" cy="114.48" r="3.15" fill="#fff" stroke="#b2b2b2" stroke-width="1.15"/>
<circle cx="391.68" cy="109.01" r="3.15" fill="#fff" stroke="#b2b2b2" stroke-width="1.15"/>
<circle cx="400.22" cy="104.91" r="3.15" fill="#fff" stroke="#b2b2b2" stroke-width="1.15"/>
<circle cx="408.42" cy="115.85" r="3.15" fill="#fff" stroke="#b2b2b2" stroke-width="1.15"/>
<circle cx="416.62" cy="119.6" r="3.15" fill="#fff" stroke="#b2b2b2" stroke-width="1.15"/>
<circle cx="424.82" cy="137.03" r="3.15" fill="#fff" stroke="#b2b2b2" stroke-width="1.15"/>
<circle cx="432.68" cy="145.91" r="3.15" fill="#fff" stroke="#b2b2b2" stroke-width="1.15"/>
<circle cx="440.54" cy="150.69" r="3.15" fill="#fff" stroke="#b2b2b2" stroke-width="1.15"/>
<circle cx="448.39" cy="152.06" r="3.15" fill="#fff" stroke="#b2b2b2" stroke-width="1.15"/>
<circle cx="456.25" cy="148.3" r="3.15" fill="#fff" stroke="#b2b2b2" stroke-width="1.15"/>
<circle cx="463.77" cy="135.32" r="3.15" fill="#fff" stroke="#b2b2b2" stroke-width="1.15"/>
<circle cx="471.63" cy="127.46" r="3.15" fill="#fff" stroke="#b2b2b2" stroke-width="1.15"/>
<circle cx="478.46" cy="122" r="3.15" fill="#fff" stroke="#b2b2b2" stroke-width="1.15"/>
<circle cx="486.32" cy="103.89" r="3.15" fill="#fff" stroke="#b2b2b2" stroke-width="1.15"/>
<circle cx="493.15" cy="101.84" r="3.15" fill="#fff" stroke="#b2b2b2" stroke-width="1.15"/>
<circle cx="499.3" cy="101.84" r="3.15" fill="#fff" stroke="#b2b2b2" stroke-width="1.15"/>
<text x="446.3" y="113.8" font-size="20" text-anchor="middle" class="sans" fill="#222" >X</text>
<text x="492.0" y="81.0" font-size="21" class="serif" fill="#222">&#915;<tspan font-size="10.5" dy="6.5" dx="-2.4">(2)</tspan></text>
<rect x="525.15" y="65.95" width="4.9" height="4.9" fill="#0d0d0d"/>
<circle cx="527.6" cy="80.9" r="2.4" fill="#fff" stroke="#555" stroke-width="0.9"/>
<path d="M524.2 90.71 L531 90.71 L527.6 96.83 Z" fill="#0d0d0d"/>
<text transform="translate(540 72.04) scale(0.84 1)" font-size="10.4" text-anchor="start" class="sans" fill="#222" >Band1 h&#957; = 31.5 eV</text>
<text transform="translate(540 84.54) scale(0.84 1)" font-size="10.4" text-anchor="start" class="sans" fill="#222" >Band1 h&#957; = 20 eV</text>
<text transform="translate(540 97.24) scale(0.84 1)" font-size="10.4" text-anchor="start" class="sans" fill="#222" >Band2 h&#957; = 31.5 eV</text>
<text transform="translate(361.7 140.5) rotate(-90) scale(0.85 1)" font-size="14.5" text-anchor="middle" class="sans" fill="#222">Binding Energy [eV]</text>
<rect x="639.3" y="58.5" width="75.9" height="167.8" fill="none" stroke="#3c3c3c" stroke-width="1"/>
<clipPath id="cp2"><rect x="638.5" y="58.5" width="77.5" height="172.8"/></clipPath>
<line x1="639.3" y1="58.8" x2="641.8" y2="58.8" stroke="#555555" stroke-width="0.8" />
<text transform="translate(637 61.9) scale(0.9 1)" font-size="9" text-anchor="end" class="sans" fill="#444444" stroke="none">2.0</text>
<line x1="639.3" y1="77.72" x2="640.8" y2="77.72" stroke="#555555" stroke-width="0.7" />
<line x1="639.3" y1="96.65" x2="641.8" y2="96.65" stroke="#555555" stroke-width="0.8" />
<text transform="translate(637 99.75) scale(0.9 1)" font-size="9" text-anchor="end" class="sans" fill="#444444" stroke="none">2.5</text>
<line x1="639.3" y1="115.58" x2="640.8" y2="115.58" stroke="#555555" stroke-width="0.7" />
<line x1="639.3" y1="134.5" x2="641.8" y2="134.5" stroke="#555555" stroke-width="0.8" />
<text transform="translate(637 137.6) scale(0.9 1)" font-size="9" text-anchor="end" class="sans" fill="#444444" stroke="none">3.0</text>
<line x1="639.3" y1="153.43" x2="640.8" y2="153.43" stroke="#555555" stroke-width="0.7" />
<line x1="639.3" y1="172.35" x2="641.8" y2="172.35" stroke="#555555" stroke-width="0.8" />
<text transform="translate(637 175.45) scale(0.9 1)" font-size="9" text-anchor="end" class="sans" fill="#444444" stroke="none">3.5</text>
<line x1="639.3" y1="191.28" x2="640.8" y2="191.28" stroke="#555555" stroke-width="0.7" />
<line x1="639.3" y1="210.2" x2="641.8" y2="210.2" stroke="#555555" stroke-width="0.8" />
<text transform="translate(637 213.3) scale(0.9 1)" font-size="9" text-anchor="end" class="sans" fill="#444444" stroke="none">4.0</text>
<line x1="639.3" y1="226.3" x2="639.3" y2="223.8" stroke="#555555" stroke-width="0.8" />
<text transform="translate(639.3 237.6) scale(0.9 1)" font-size="9" text-anchor="middle" class="sans" fill="#444444" stroke="none">0.0</text>
<line x1="653.15" y1="226.3" x2="653.15" y2="224.8" stroke="#555555" stroke-width="0.7" />
<line x1="667" y1="226.3" x2="667" y2="223.8" stroke="#555555" stroke-width="0.8" />
<text transform="translate(667 237.6) scale(0.9 1)" font-size="9" text-anchor="middle" class="sans" fill="#444444" stroke="none">0.2</text>
<line x1="680.85" y1="226.3" x2="680.85" y2="224.8" stroke="#555555" stroke-width="0.7" />
<line x1="694.7" y1="226.3" x2="694.7" y2="223.8" stroke="#555555" stroke-width="0.8" />
<text transform="translate(694.7 237.6) scale(0.9 1)" font-size="9" text-anchor="middle" class="sans" fill="#444444" stroke="none">0.4</text>
<line x1="708.55" y1="226.3" x2="708.55" y2="224.8" stroke="#555555" stroke-width="0.7" />
<rect x="638.93" y="193.58" width="5.8" height="5.8" fill="#fff" stroke="#a2a2a2" stroke-width="1.1" clip-path="url(#cp2)"/>
<rect x="657.21" y="196.09" width="5.8" height="5.8" fill="#fff" stroke="#a2a2a2" stroke-width="1.1" clip-path="url(#cp2)"/>
<rect x="662.21" y="201.6" width="5.8" height="5.8" fill="#fff" stroke="#a2a2a2" stroke-width="1.1" clip-path="url(#cp2)"/>
<rect x="682.74" y="213.61" width="5.8" height="5.8" fill="#fff" stroke="#a2a2a2" stroke-width="1.1" clip-path="url(#cp2)"/>
<rect x="684.75" y="210.36" width="5.8" height="5.8" fill="#fff" stroke="#a2a2a2" stroke-width="1.1" clip-path="url(#cp2)"/>
<rect x="709.03" y="213.61" width="5.8" height="5.8" fill="#fff" stroke="#a2a2a2" stroke-width="1.1" clip-path="url(#cp2)"/>
<rect x="654.7" y="108.96" width="5.8" height="5.8" fill="#fff" stroke="#a2a2a2" stroke-width="1.1" clip-path="url(#cp2)"/>
<rect x="698.52" y="125.48" width="5.8" height="5.8" fill="#fff" stroke="#a2a2a2" stroke-width="1.1" clip-path="url(#cp2)"/>
<rect x="689.75" y="143.01" width="5.8" height="5.8" fill="#fff" stroke="#a2a2a2" stroke-width="1.1" clip-path="url(#cp2)"/>
<circle cx="640.08" cy="101.34" r="3.15" fill="#fff" stroke="#b2b2b2" stroke-width="1.15"/>
<circle cx="647.09" cy="101.34" r="3.15" fill="#fff" stroke="#b2b2b2" stroke-width="1.15"/>
<circle cx="656.35" cy="103.85" r="3.15" fill="#fff" stroke="#b2b2b2" stroke-width="1.15"/>
<circle cx="666.36" cy="121.87" r="3.15" fill="#fff" stroke="#b2b2b2" stroke-width="1.15"/>
<circle cx="675.63" cy="127.13" r="3.15" fill="#fff" stroke="#b2b2b2" stroke-width="1.15"/>
<circle cx="685.14" cy="135.14" r="3.15" fill="#fff" stroke="#b2b2b2" stroke-width="1.15"/>
<circle cx="695.66" cy="148.16" r="3.15" fill="#fff" stroke="#b2b2b2" stroke-width="1.15"/>
<circle cx="705.67" cy="151.92" r="3.15" fill="#fff" stroke="#b2b2b2" stroke-width="1.15"/>
<rect x="636.87" y="112.41" width="5.4" height="5.4" fill="#0d0d0d" clip-path="url(#cp2)"/>
<rect x="659.41" y="104.9" width="5.4" height="5.4" fill="#0d0d0d" clip-path="url(#cp2)"/>
<rect x="682.44" y="108.66" width="5.4" height="5.4" fill="#0d0d0d" clip-path="url(#cp2)"/>
<rect x="704.98" y="118.92" width="5.4" height="5.4" fill="#0d0d0d" clip-path="url(#cp2)"/>
<rect x="636.87" y="198.04" width="5.4" height="5.4" fill="#0d0d0d" clip-path="url(#cp2)"/>
<rect x="641.13" y="194.29" width="5.4" height="5.4" fill="#0d0d0d" clip-path="url(#cp2)"/>
<rect x="663.66" y="198.79" width="5.4" height="5.4" fill="#0d0d0d" clip-path="url(#cp2)"/>
<rect x="664.92" y="202.55" width="5.4" height="5.4" fill="#0d0d0d" clip-path="url(#cp2)"/>
<rect x="687.45" y="209.56" width="5.4" height="5.4" fill="#0d0d0d" clip-path="url(#cp2)"/>
<rect x="689.95" y="208.81" width="5.4" height="5.4" fill="#0d0d0d" clip-path="url(#cp2)"/>
<rect x="676.53" y="120.52" width="3.2" height="3.2" fill="#0d0d0d" clip-path="url(#cp2)"/>
<rect x="692.31" y="143.56" width="3.2" height="3.2" fill="#0d0d0d" clip-path="url(#cp2)"/>
<path d="M639.3 105.8L641.2 105.5L643.1 105.5L645 105.6L647.9 106.2L649.8 106.8L652.7 108L655.6 109.4L658.5 111L663.3 114L668 117.1L677.6 123.8L683.4 128.2L693 136.5L697.8 140.1L700.6 142.1L704.5 144.4L715 150.2" fill="none" stroke="#111" stroke-width="1.7" stroke-linejoin="round" />
<path d="M639.3 169.4L648 168.9L655.6 168.1L663.3 166.8L671 165.1L675.8 163.7L681.6 161.9L706.5 153.3L715.2 150.2" fill="none" stroke="#111" stroke-width="1.6" stroke-linejoin="round" />
<circle cx="650.84" cy="108.85" r="3" fill="#0d0d0d"/>
<circle cx="662.11" cy="105.85" r="3" fill="#0d0d0d"/>
<circle cx="673.12" cy="115.61" r="3" fill="#0d0d0d"/>
<circle cx="683.89" cy="119.62" r="3" fill="#0d0d0d"/>
<circle cx="694.66" cy="136.9" r="3" fill="#0d0d0d"/>
<circle cx="704.67" cy="146.16" r="3" fill="#0d0d0d"/>
<circle cx="714.69" cy="150.42" r="3" fill="#0d0d0d"/>
<rect x="383.5" y="338.8" width="234.1" height="154.8" fill="none" stroke="#3c3c3c" stroke-width="1"/>
<clipPath id="cp3"><rect x="382.7" y="338.8" width="234.9" height="159.8"/></clipPath>
<line x1="383.5" y1="338.8" x2="386" y2="338.8" stroke="#555555" stroke-width="0.8" />
<text transform="translate(380 341.9) scale(0.9 1)" font-size="9" text-anchor="end" class="sans" fill="#444444" stroke="none">2.0</text>
<line x1="383.5" y1="356.43" x2="385" y2="356.43" stroke="#555555" stroke-width="0.7" />
<line x1="383.5" y1="374.05" x2="386" y2="374.05" stroke="#555555" stroke-width="0.8" />
<text transform="translate(380 377.15) scale(0.9 1)" font-size="9" text-anchor="end" class="sans" fill="#444444" stroke="none">2.5</text>
<line x1="383.5" y1="391.68" x2="385" y2="391.68" stroke="#555555" stroke-width="0.7" />
<line x1="383.5" y1="409.3" x2="386" y2="409.3" stroke="#555555" stroke-width="0.8" />
<text transform="translate(380 412.4) scale(0.9 1)" font-size="9" text-anchor="end" class="sans" fill="#444444" stroke="none">3.0</text>
<line x1="383.5" y1="426.93" x2="385" y2="426.93" stroke="#555555" stroke-width="0.7" />
<line x1="383.5" y1="444.55" x2="386" y2="444.55" stroke="#555555" stroke-width="0.8" />
<text transform="translate(380 447.65) scale(0.9 1)" font-size="9" text-anchor="end" class="sans" fill="#444444" stroke="none">3.5</text>
<line x1="383.5" y1="462.18" x2="385" y2="462.18" stroke="#555555" stroke-width="0.7" />
<line x1="383.5" y1="479.8" x2="386" y2="479.8" stroke="#555555" stroke-width="0.8" />
<text transform="translate(380 482.9) scale(0.9 1)" font-size="9" text-anchor="end" class="sans" fill="#444444" stroke="none">4.0</text>
<line x1="383.5" y1="493.6" x2="383.5" y2="491.1" stroke="#555555" stroke-width="0.8" />
<text transform="translate(383.5 504.8) scale(0.9 1)" font-size="9" text-anchor="middle" class="sans" fill="#444444" stroke="none">0.0</text>
<line x1="409.4" y1="493.6" x2="409.4" y2="492.1" stroke="#555555" stroke-width="0.7" />
<line x1="435.3" y1="493.6" x2="435.3" y2="491.1" stroke="#555555" stroke-width="0.8" />
<text transform="translate(435.3 504.8) scale(0.9 1)" font-size="9" text-anchor="middle" class="sans" fill="#444444" stroke="none">0.5</text>
<line x1="461.2" y1="493.6" x2="461.2" y2="492.1" stroke="#555555" stroke-width="0.7" />
<line x1="487.1" y1="493.6" x2="487.1" y2="491.1" stroke="#555555" stroke-width="0.8" />
<text transform="translate(487.1 504.8) scale(0.9 1)" font-size="9" text-anchor="middle" class="sans" fill="#444444" stroke="none">1.0</text>
<line x1="513" y1="493.6" x2="513" y2="492.1" stroke="#555555" stroke-width="0.7" />
<line x1="538.9" y1="493.6" x2="538.9" y2="491.1" stroke="#555555" stroke-width="0.8" />
<text transform="translate(538.9 504.8) scale(0.9 1)" font-size="9" text-anchor="middle" class="sans" fill="#444444" stroke="none">1.5</text>
<line x1="564.8" y1="493.6" x2="564.8" y2="492.1" stroke="#555555" stroke-width="0.7" />
<line x1="590.7" y1="493.6" x2="590.7" y2="491.1" stroke="#555555" stroke-width="0.8" />
<text transform="translate(590.7 504.8) scale(0.9 1)" font-size="9" text-anchor="middle" class="sans" fill="#444444" stroke="none">2.0</text>
<line x1="616.6" y1="493.6" x2="616.6" y2="492.1" stroke="#555555" stroke-width="0.7" />
<line x1="451.5" y1="385" x2="451.5" y2="493.6" stroke="#1c1c1c" stroke-width="0.95" />
<line x1="522.2" y1="376.5" x2="522.2" y2="493.6" stroke="#1c1c1c" stroke-width="0.95" />
<rect x="380.43" y="375.71" width="6.1" height="6.1" fill="#0d0d0d" clip-path="url(#cp3)"/>
<rect x="395.81" y="381.86" width="6.1" height="6.1" fill="#0d0d0d" clip-path="url(#cp3)"/>
<rect x="411.18" y="396.21" width="6.1" height="6.1" fill="#0d0d0d" clip-path="url(#cp3)"/>
<rect x="426.21" y="397.24" width="6.1" height="6.1" fill="#0d0d0d" clip-path="url(#cp3)"/>
<rect x="440.9" y="405.78" width="6.1" height="6.1" fill="#0d0d0d" clip-path="url(#cp3)"/>
<rect x="455.59" y="406.46" width="6.1" height="6.1" fill="#0d0d0d" clip-path="url(#cp3)"/>
<rect x="469.94" y="405.09" width="6.1" height="6.1" fill="#0d0d0d" clip-path="url(#cp3)"/>
<rect x="482.93" y="418.08" width="6.1" height="6.1" fill="#0d0d0d" clip-path="url(#cp3)"/>
<rect x="496.25" y="408.17" width="6.1" height="6.1" fill="#0d0d0d" clip-path="url(#cp3)"/>
<rect x="509.57" y="397.92" width="6.1" height="6.1" fill="#0d0d0d" clip-path="url(#cp3)"/>
<rect x="522.21" y="388.01" width="6.1" height="6.1" fill="#0d0d0d" clip-path="url(#cp3)"/>
<rect x="533.83" y="383.91" width="6.1" height="6.1" fill="#0d0d0d" clip-path="url(#cp3)"/>
<rect x="544.42" y="382.89" width="6.1" height="6.1" fill="#0d0d0d" clip-path="url(#cp3)"/>
<path d="M379.88 458.72 L387.08 458.72 L383.48 465.2 Z" fill="#0d0d0d" clip-path="url(#cp3)"/>
<path d="M395.26 460.09 L402.46 460.09 L398.86 466.57 Z" fill="#0d0d0d" clip-path="url(#cp3)"/>
<path d="M409.95 458.72 L417.15 458.72 L413.55 465.2 Z" fill="#0d0d0d" clip-path="url(#cp3)"/>
<path d="M424.98 466.58 L432.18 466.58 L428.58 473.06 Z" fill="#0d0d0d" clip-path="url(#cp3)"/>
<path d="M439.33 462.48 L446.53 462.48 L442.93 468.96 Z" fill="#0d0d0d" clip-path="url(#cp3)"/>
<path d="M454.02 452.92 L461.22 452.92 L457.62 459.4 Z" fill="#0d0d0d" clip-path="url(#cp3)"/>
<path d="M467.68 455.65 L474.88 455.65 L471.28 462.13 Z" fill="#0d0d0d" clip-path="url(#cp3)"/>
<path d="M481.01 455.99 L488.21 455.99 L484.61 462.47 Z" fill="#0d0d0d" clip-path="url(#cp3)"/>
<path d="M493.99 455.99 L501.19 455.99 L497.59 462.47 Z" fill="#0d0d0d" clip-path="url(#cp3)"/>
<path d="M506.97 455.99 L514.17 455.99 L510.57 462.47 Z" fill="#0d0d0d" clip-path="url(#cp3)"/>
<path d="M518.59 455.99 L525.79 455.99 L522.19 462.47 Z" fill="#0d0d0d" clip-path="url(#cp3)"/>
<path d="M529.86 454.97 L537.06 454.97 L533.46 461.45 Z" fill="#0d0d0d" clip-path="url(#cp3)"/>
<path d="M541.14 452.23 L548.34 452.23 L544.74 458.71 Z" fill="#0d0d0d" clip-path="url(#cp3)"/>
<circle cx="383.48" cy="402" r="3.15" fill="#fff" stroke="#b2b2b2" stroke-width="1.15"/>
<circle cx="391.68" cy="394.14" r="3.15" fill="#fff" stroke="#b2b2b2" stroke-width="1.15"/>
<circle cx="400.22" cy="400.97" r="3.15" fill="#fff" stroke="#b2b2b2" stroke-width="1.15"/>
<circle cx="408.42" cy="406.09" r="3.15" fill="#fff" stroke="#b2b2b2" stroke-width="1.15"/>
<circle cx="416.62" cy="404.73" r="3.15" fill="#fff" stroke="#b2b2b2" stroke-width="1.15"/>
<circle cx="424.82" cy="408.83" r="3.15" fill="#fff" stroke="#b2b2b2" stroke-width="1.15"/>
<circle cx="432.34" cy="410.19" r="3.15" fill="#fff" stroke="#b2b2b2" stroke-width="1.15"/>
<circle cx="440.54" cy="404.73" r="3.15" fill="#fff" stroke="#b2b2b2" stroke-width="1.15"/>
<circle cx="448.39" cy="406.09" r="3.15" fill="#fff" stroke="#b2b2b2" stroke-width="1.15"/>
<circle cx="456.25" cy="409.51" r="3.15" fill="#fff" stroke="#b2b2b2" stroke-width="1.15"/>
<circle cx="463.77" cy="405.41" r="3.15" fill="#fff" stroke="#b2b2b2" stroke-width="1.15"/>
<circle cx="470.6" cy="402" r="3.15" fill="#fff" stroke="#b2b2b2" stroke-width="1.15"/>
<circle cx="477.78" cy="397.9" r="3.15" fill="#fff" stroke="#b2b2b2" stroke-width="1.15"/>
<circle cx="484.27" cy="398.58" r="3.15" fill="#fff" stroke="#b2b2b2" stroke-width="1.15"/>
<circle cx="490.76" cy="395.85" r="3.15" fill="#fff" stroke="#b2b2b2" stroke-width="1.15"/>
<circle cx="497.25" cy="393.11" r="3.15" fill="#fff" stroke="#b2b2b2" stroke-width="1.15"/>
<circle cx="503.4" cy="391.75" r="3.15" fill="#fff" stroke="#b2b2b2" stroke-width="1.15"/>
<circle cx="508.87" cy="395.85" r="3.15" fill="#fff" stroke="#b2b2b2" stroke-width="1.15"/>
<text x="454.3" y="377.6" font-size="20" text-anchor="middle" class="sans" fill="#222" >Y</text>
<text x="524.6" y="429.6" font-size="21" class="serif" fill="#222">&#915;<tspan font-size="10.5" dy="6.5" dx="-2.6">(2)</tspan></text>
<rect x="522.05" y="345.95" width="4.9" height="4.9" fill="#0d0d0d"/>
<circle cx="524.5" cy="360" r="2.4" fill="#fff" stroke="#555" stroke-width="0.9"/>
<path d="M521.1 369.01 L527.9 369.01 L524.5 375.13 Z" fill="#0d0d0d"/>
<text transform="translate(536.8 351.76) scale(0.88 1)" font-size="9.6" text-anchor="start" class="sans" fill="#222" >Band1 h&#957; = 31.5 eV</text>
<text transform="translate(536.8 363.36) scale(0.88 1)" font-size="9.6" text-anchor="start" class="sans" fill="#222" >Band1 h&#957; = 20 eV</text>
<text transform="translate(536.8 375.26) scale(0.88 1)" font-size="9.6" text-anchor="start" class="sans" fill="#222" >Band2 h&#957; = 31.5 eV</text>
<text transform="translate(362.6 414) rotate(-90) scale(0.85 1)" font-size="13.7" text-anchor="middle" class="sans" fill="#222">Binding Energy [eV]</text>
<rect x="635.6" y="338.8" width="89.6" height="154.8" fill="none" stroke="#3c3c3c" stroke-width="1"/>
<clipPath id="cp4"><rect x="634.8" y="338.8" width="91.2" height="159.8"/></clipPath>
<line x1="635.6" y1="338.8" x2="638.1" y2="338.8" stroke="#555555" stroke-width="0.8" />
<text transform="translate(633.4 341.9) scale(0.9 1)" font-size="9" text-anchor="end" class="sans" fill="#444444" stroke="none">2.0</text>
<line x1="635.6" y1="356.43" x2="637.1" y2="356.43" stroke="#555555" stroke-width="0.7" />
<line x1="635.6" y1="374.05" x2="638.1" y2="374.05" stroke="#555555" stroke-width="0.8" />
<text transform="translate(633.4 377.15) scale(0.9 1)" font-size="9" text-anchor="end" class="sans" fill="#444444" stroke="none">2.5</text>
<line x1="635.6" y1="391.68" x2="637.1" y2="391.68" stroke="#555555" stroke-width="0.7" />
<line x1="635.6" y1="409.3" x2="638.1" y2="409.3" stroke="#555555" stroke-width="0.8" />
<text transform="translate(633.4 412.4) scale(0.9 1)" font-size="9" text-anchor="end" class="sans" fill="#444444" stroke="none">3.0</text>
<line x1="635.6" y1="426.93" x2="637.1" y2="426.93" stroke="#555555" stroke-width="0.7" />
<line x1="635.6" y1="444.55" x2="638.1" y2="444.55" stroke="#555555" stroke-width="0.8" />
<text transform="translate(633.4 447.65) scale(0.9 1)" font-size="9" text-anchor="end" class="sans" fill="#444444" stroke="none">3.5</text>
<line x1="635.6" y1="462.18" x2="637.1" y2="462.18" stroke="#555555" stroke-width="0.7" />
<line x1="635.6" y1="479.8" x2="638.1" y2="479.8" stroke="#555555" stroke-width="0.8" />
<text transform="translate(633.4 482.9) scale(0.9 1)" font-size="9" text-anchor="end" class="sans" fill="#444444" stroke="none">4.0</text>
<line x1="635.6" y1="493.6" x2="635.6" y2="491.1" stroke="#555555" stroke-width="0.8" />
<text transform="translate(635.6 504.8) scale(0.9 1)" font-size="9" text-anchor="middle" class="sans" fill="#444444" stroke="none">0.0</text>
<line x1="649.15" y1="493.6" x2="649.15" y2="492.1" stroke="#555555" stroke-width="0.7" />
<line x1="662.7" y1="493.6" x2="662.7" y2="491.1" stroke="#555555" stroke-width="0.8" />
<text transform="translate(662.7 504.8) scale(0.9 1)" font-size="9" text-anchor="middle" class="sans" fill="#444444" stroke="none">0.2</text>
<line x1="676.25" y1="493.6" x2="676.25" y2="492.1" stroke="#555555" stroke-width="0.7" />
<line x1="689.8" y1="493.6" x2="689.8" y2="491.1" stroke="#555555" stroke-width="0.8" />
<text transform="translate(689.8 504.8) scale(0.9 1)" font-size="9" text-anchor="middle" class="sans" fill="#444444" stroke="none">0.4</text>
<line x1="703.35" y1="493.6" x2="703.35" y2="492.1" stroke="#555555" stroke-width="0.7" />
<line x1="716.9" y1="493.6" x2="716.9" y2="491.1" stroke="#555555" stroke-width="0.8" />
<text transform="translate(716.9 504.8) scale(0.9 1)" font-size="9" text-anchor="middle" class="sans" fill="#444444" stroke="none">0.6</text>
<rect x="643.68" y="397.72" width="5.8" height="5.8" fill="#fff" stroke="#a2a2a2" stroke-width="1.1" clip-path="url(#cp4)"/>
<rect x="660.46" y="408.49" width="5.8" height="5.8" fill="#fff" stroke="#a2a2a2" stroke-width="1.1" clip-path="url(#cp4)"/>
<rect x="678.49" y="418.5" width="5.8" height="5.8" fill="#fff" stroke="#a2a2a2" stroke-width="1.1" clip-path="url(#cp4)"/>
<rect x="694.76" y="404.73" width="5.8" height="5.8" fill="#fff" stroke="#a2a2a2" stroke-width="1.1" clip-path="url(#cp4)"/>
<rect x="711.54" y="405.98" width="5.8" height="5.8" fill="#fff" stroke="#a2a2a2" stroke-width="1.1" clip-path="url(#cp4)"/>
<rect x="646.44" y="455.56" width="5.8" height="5.8" fill="#fff" stroke="#a2a2a2" stroke-width="1.1" clip-path="url(#cp4)"/>
<rect x="662.46" y="455.31" width="5.8" height="5.8" fill="#fff" stroke="#a2a2a2" stroke-width="1.1" clip-path="url(#cp4)"/>
<rect x="679.74" y="455.31" width="5.8" height="5.8" fill="#fff" stroke="#a2a2a2" stroke-width="1.1" clip-path="url(#cp4)"/>
<rect x="697.27" y="455.56" width="5.8" height="5.8" fill="#fff" stroke="#a2a2a2" stroke-width="1.1" clip-path="url(#cp4)"/>
<rect x="715.29" y="452.8" width="5.8" height="5.8" fill="#fff" stroke="#a2a2a2" stroke-width="1.1" clip-path="url(#cp4)"/>
<circle cx="641.33" cy="390.86" r="3.15" fill="#fff" stroke="#b2b2b2" stroke-width="1.15"/>
<circle cx="652.59" cy="395.11" r="3.15" fill="#fff" stroke="#b2b2b2" stroke-width="1.15"/>
<circle cx="660.11" cy="391.36" r="3.15" fill="#fff" stroke="#b2b2b2" stroke-width="1.15"/>
<circle cx="667.62" cy="393.36" r="3.15" fill="#fff" stroke="#b2b2b2" stroke-width="1.15"/>
<circle cx="675.13" cy="395.11" r="3.15" fill="#fff" stroke="#b2b2b2" stroke-width="1.15"/>
<circle cx="683.39" cy="398.87" r="3.15" fill="#fff" stroke="#b2b2b2" stroke-width="1.15"/>
<circle cx="691.9" cy="397.62" r="3.15" fill="#fff" stroke="#b2b2b2" stroke-width="1.15"/>
<circle cx="700.17" cy="402.12" r="3.15" fill="#fff" stroke="#b2b2b2" stroke-width="1.15"/>
<circle cx="710.93" cy="405.88" r="3.15" fill="#fff" stroke="#b2b2b2" stroke-width="1.15"/>
<circle cx="720.2" cy="408.88" r="3.15" fill="#fff" stroke="#b2b2b2" stroke-width="1.15"/>
<rect x="652.95" y="383.45" width="5.8" height="5.8" fill="#fff" stroke="#a2a2a2" stroke-width="1.1" clip-path="url(#cp4)"/>
<rect x="655.85" y="383.45" width="2.9" height="5.8" fill="#0d0d0d" clip-path="url(#cp4)"/>
<rect x="668.47" y="383.45" width="5.8" height="5.8" fill="#fff" stroke="#a2a2a2" stroke-width="1.1" clip-path="url(#cp4)"/>
<rect x="671.37" y="383.45" width="2.9" height="5.8" fill="#0d0d0d" clip-path="url(#cp4)"/>
<rect x="640.88" y="389.16" width="3.4" height="3.4" fill="#0d0d0d" clip-path="url(#cp4)"/>
<rect x="674.18" y="397.92" width="3.4" height="3.4" fill="#0d0d0d" clip-path="url(#cp4)"/>
<rect x="694.21" y="398.92" width="3.4" height="3.4" fill="#0d0d0d" clip-path="url(#cp4)"/>
<rect x="632.97" y="376.74" width="5.2" height="5.2" fill="#0d0d0d" clip-path="url(#cp4)"/>
<rect x="632.97" y="458.86" width="5.2" height="5.2" fill="#0d0d0d" clip-path="url(#cp4)"/>
<rect x="652.5" y="460.11" width="5.2" height="5.2" fill="#0d0d0d" clip-path="url(#cp4)"/>
<rect x="672.03" y="458.86" width="5.2" height="5.2" fill="#0d0d0d" clip-path="url(#cp4)"/>
<rect x="691.31" y="466.37" width="5.2" height="5.2" fill="#0d0d0d" clip-path="url(#cp4)"/>
<rect x="710.58" y="462.12" width="5.2" height="5.2" fill="#0d0d0d" clip-path="url(#cp4)"/>
<path d="M635.6 385.1L641.2 385.3L644.6 385.7L648 386.4L650.3 387.1L652.6 388.1L654.9 389.3L665.1 395.9L668.5 397.7L670.7 398.8L674.1 400.2L677.5 401.3L681 402L684.4 402.6L687.8 402.8L690 402.9L693.4 402.7L696.8 402.3L702.5 401.1L717.3 396.9L721.8 396L725.2 395.6" fill="none" stroke="#111" stroke-width="1.7" stroke-linejoin="round" />
<path d="M635.6 445.2L639 445L643.5 444.5L648 443.9L652.6 443L660.5 441.2L673 437.7L678.7 436.3L685.5 435L691.2 434.3L698 433.9L701.4 433.9L705.9 434.2L713.9 435.1L725.2 436.9" fill="none" stroke="#111" stroke-width="1.6" stroke-linejoin="round" />
<circle cx="635.57" cy="402.12" r="3" fill="#0d0d0d"/>
<circle cx="646.58" cy="394.36" r="3" fill="#0d0d0d"/>
<circle cx="657.6" cy="400.62" r="3" fill="#0d0d0d"/>
<circle cx="668.37" cy="406.38" r="3" fill="#0d0d0d"/>
<circle cx="678.88" cy="405.13" r="3" fill="#0d0d0d"/>
<circle cx="689.65" cy="408.63" r="3" fill="#0d0d0d"/>
<circle cx="700.17" cy="409.63" r="3" fill="#0d0d0d"/>
<circle cx="710.18" cy="405.13" r="3" fill="#0d0d0d"/>
<circle cx="720.2" cy="406.38" r="3" fill="#0d0d0d"/>
<circle cx="711.18" cy="406.13" r="3.15" fill="none" stroke="#c4c4c4" stroke-width="1.1"/>
<circle cx="720.45" cy="409.13" r="3.15" fill="none" stroke="#c4c4c4" stroke-width="1.1"/>
<rect x="383.5" y="599.8" width="233.9" height="154.8" fill="none" stroke="#3c3c3c" stroke-width="1"/>
<clipPath id="cp5"><rect x="382.7" y="599.8" width="234.7" height="159.8"/></clipPath>
<line x1="383.5" y1="599.8" x2="386" y2="599.8" stroke="#555555" stroke-width="0.8" />
<text transform="translate(380 602.9) scale(0.9 1)" font-size="9" text-anchor="end" class="sans" fill="#444444" stroke="none">2.0</text>
<line x1="383.5" y1="617.4" x2="385" y2="617.4" stroke="#555555" stroke-width="0.7" />
<line x1="383.5" y1="635" x2="386" y2="635" stroke="#555555" stroke-width="0.8" />
<text transform="translate(380 638.1) scale(0.9 1)" font-size="9" text-anchor="end" class="sans" fill="#444444" stroke="none">2.5</text>
<line x1="383.5" y1="652.6" x2="385" y2="652.6" stroke="#555555" stroke-width="0.7" />
<line x1="383.5" y1="670.2" x2="386" y2="670.2" stroke="#555555" stroke-width="0.8" />
<text transform="translate(380 673.3) scale(0.9 1)" font-size="9" text-anchor="end" class="sans" fill="#444444" stroke="none">3.0</text>
<line x1="383.5" y1="687.8" x2="385" y2="687.8" stroke="#555555" stroke-width="0.7" />
<line x1="383.5" y1="705.4" x2="386" y2="705.4" stroke="#555555" stroke-width="0.8" />
<text transform="translate(380 708.5) scale(0.9 1)" font-size="9" text-anchor="end" class="sans" fill="#444444" stroke="none">3.5</text>
<line x1="383.5" y1="723" x2="385" y2="723" stroke="#555555" stroke-width="0.7" />
<line x1="383.5" y1="740.6" x2="386" y2="740.6" stroke="#555555" stroke-width="0.8" />
<text transform="translate(380 743.7) scale(0.9 1)" font-size="9" text-anchor="end" class="sans" fill="#444444" stroke="none">4.0</text>
<line x1="383.5" y1="754.6" x2="383.5" y2="752.1" stroke="#555555" stroke-width="0.8" />
<text transform="translate(383.5 765.8) scale(0.9 1)" font-size="9" text-anchor="middle" class="sans" fill="#444444" stroke="none">0.0</text>
<line x1="409.45" y1="754.6" x2="409.45" y2="753.1" stroke="#555555" stroke-width="0.7" />
<line x1="435.4" y1="754.6" x2="435.4" y2="752.1" stroke="#555555" stroke-width="0.8" />
<text transform="translate(435.4 765.8) scale(0.9 1)" font-size="9" text-anchor="middle" class="sans" fill="#444444" stroke="none">0.5</text>
<line x1="461.35" y1="754.6" x2="461.35" y2="753.1" stroke="#555555" stroke-width="0.7" />
<line x1="487.3" y1="754.6" x2="487.3" y2="752.1" stroke="#555555" stroke-width="0.8" />
<text transform="translate(487.3 765.8) scale(0.9 1)" font-size="9" text-anchor="middle" class="sans" fill="#444444" stroke="none">1.0</text>
<line x1="513.25" y1="754.6" x2="513.25" y2="753.1" stroke="#555555" stroke-width="0.7" />
<line x1="539.2" y1="754.6" x2="539.2" y2="752.1" stroke="#555555" stroke-width="0.8" />
<text transform="translate(539.2 765.8) scale(0.9 1)" font-size="9" text-anchor="middle" class="sans" fill="#444444" stroke="none">1.5</text>
<line x1="565.15" y1="754.6" x2="565.15" y2="753.1" stroke="#555555" stroke-width="0.7" />
<line x1="591.1" y1="754.6" x2="591.1" y2="752.1" stroke="#555555" stroke-width="0.8" />
<text transform="translate(591.1 765.8) scale(0.9 1)" font-size="9" text-anchor="middle" class="sans" fill="#444444" stroke="none">2.0</text>
<line x1="617.05" y1="754.6" x2="617.05" y2="753.1" stroke="#555555" stroke-width="0.7" />
<line x1="474.7" y1="638" x2="474.7" y2="747.5" stroke="#1c1c1c" stroke-width="0.95" />
<line x1="563.5" y1="637.4" x2="563.5" y2="747.5" stroke="#1c1c1c" stroke-width="0.95" />
<rect x="513.64" y="674.63" width="4.8" height="4.8" fill="#0d0d0d" clip-path="url(#cp5)"/>
<rect x="380.43" y="639.81" width="6.1" height="6.1" fill="#0d0d0d" clip-path="url(#cp5)"/>
<rect x="403.66" y="641.18" width="6.1" height="6.1" fill="#0d0d0d" clip-path="url(#cp5)"/>
<rect x="427.58" y="646.3" width="6.1" height="6.1" fill="#0d0d0d" clip-path="url(#cp5)"/>
<rect x="449.79" y="649.04" width="6.1" height="6.1" fill="#0d0d0d" clip-path="url(#cp5)"/>
<rect x="471.31" y="669.88" width="6.1" height="6.1" fill="#0d0d0d" clip-path="url(#cp5)"/>
<rect x="491.47" y="680.81" width="6.1" height="6.1" fill="#0d0d0d" clip-path="url(#cp5)"/>
<rect x="529.39" y="668.51" width="6.1" height="6.1" fill="#0d0d0d" clip-path="url(#cp5)"/>
<rect x="546.81" y="641.86" width="6.1" height="6.1" fill="#0d0d0d" clip-path="url(#cp5)"/>
<rect x="561.16" y="646.3" width="6.1" height="6.1" fill="#0d0d0d" clip-path="url(#cp5)"/>
<rect x="574.15" y="638.1" width="6.1" height="6.1" fill="#0d0d0d" clip-path="url(#cp5)"/>
<rect x="583.71" y="650.4" width="6.1" height="6.1" fill="#0d0d0d" clip-path="url(#cp5)"/>
<rect x="590.54" y="663.39" width="6.1" height="6.1" fill="#0d0d0d" clip-path="url(#cp5)"/>
<path d="M379.88 703.01 L387.08 703.01 L383.48 709.49 Z" fill="#0d0d0d" clip-path="url(#cp5)"/>
<path d="M403.11 705.06 L410.31 705.06 L406.71 711.54 Z" fill="#0d0d0d" clip-path="url(#cp5)"/>
<path d="M425.66 713.26 L432.86 713.26 L429.26 719.74 Z" fill="#0d0d0d" clip-path="url(#cp5)"/>
<path d="M447.53 730.68 L454.73 730.68 L451.13 737.16 Z" fill="#0d0d0d" clip-path="url(#cp5)"/>
<path d="M469.39 726.58 L476.59 726.58 L472.99 733.06 Z" fill="#0d0d0d" clip-path="url(#cp5)"/>
<path d="M489.89 719.75 L497.09 719.75 L493.49 726.23 Z" fill="#0d0d0d" clip-path="url(#cp5)"/>
<path d="M509.02 713.26 L516.22 713.26 L512.62 719.74 Z" fill="#0d0d0d" clip-path="url(#cp5)"/>
<path d="M526.79 713.26 L533.99 713.26 L530.39 719.74 Z" fill="#0d0d0d" clip-path="url(#cp5)"/>
<path d="M542.85 713.6 L550.05 713.6 L546.45 720.08 Z" fill="#0d0d0d" clip-path="url(#cp5)"/>
<path d="M556.17 728.97 L563.37 728.97 L559.77 735.45 Z" fill="#0d0d0d" clip-path="url(#cp5)"/>
<path d="M568.13 728.97 L575.33 728.97 L571.73 735.45 Z" fill="#0d0d0d" clip-path="url(#cp5)"/>
<path d="M578.72 727.95 L585.92 727.95 L582.32 734.43 Z" fill="#0d0d0d" clip-path="url(#cp5)"/>
<path d="M586.24 731.36 L593.44 731.36 L589.84 737.84 Z" fill="#0d0d0d" clip-path="url(#cp5)"/>
<circle cx="383.48" cy="638.08" r="3.15" fill="#fff" stroke="#b2b2b2" stroke-width="1.15" clip-path="url(#cp5)"/>
<circle cx="401.25" cy="639.45" r="3.15" fill="#fff" stroke="#b2b2b2" stroke-width="1.15" clip-path="url(#cp5)"/>
<circle cx="417.65" cy="652.09" r="3.15" fill="#fff" stroke="#b2b2b2" stroke-width="1.15" clip-path="url(#cp5)"/>
<circle cx="434.05" cy="657.9" r="3.15" fill="#fff" stroke="#b2b2b2" stroke-width="1.15" clip-path="url(#cp5)"/>
<circle cx="449.42" cy="666.78" r="3.15" fill="#fff" stroke="#b2b2b2" stroke-width="1.15" clip-path="url(#cp5)"/>
<circle cx="464.11" cy="679.08" r="3.15" fill="#fff" stroke="#b2b2b2" stroke-width="1.15" clip-path="url(#cp5)"/>
<circle cx="477.78" cy="690.35" r="3.15" fill="#fff" stroke="#b2b2b2" stroke-width="1.15" clip-path="url(#cp5)"/>
<circle cx="489.73" cy="699.58" r="3.15" fill="#fff" stroke="#b2b2b2" stroke-width="1.15" clip-path="url(#cp5)"/>
<circle cx="502.03" cy="693.09" r="3.15" fill="#fff" stroke="#b2b2b2" stroke-width="1.15" clip-path="url(#cp5)"/>
<circle cx="513.31" cy="679.42" r="3.15" fill="#fff" stroke="#b2b2b2" stroke-width="1.15" clip-path="url(#cp5)"/>
<circle cx="523.21" cy="666.78" r="3.15" fill="#fff" stroke="#b2b2b2" stroke-width="1.15" clip-path="url(#cp5)"/>
<circle cx="531.41" cy="659.26" r="3.15" fill="#fff" stroke="#b2b2b2" stroke-width="1.15" clip-path="url(#cp5)"/>
<circle cx="537.56" cy="654.48" r="3.15" fill="#fff" stroke="#b2b2b2" stroke-width="1.15" clip-path="url(#cp5)"/>
<text x="476.6" y="640" font-size="20" text-anchor="middle" class="sans" fill="#222" >M</text>
<text x="541.2" y="692.6" font-size="21" class="serif" fill="#222">&#915;<tspan font-size="10.5" dy="6.5" dx="-2.6" class="sans">(2)</tspan></text>
<rect x="525.55" y="604.15" width="4.9" height="4.9" fill="#0d0d0d"/>
<circle cx="528" cy="618" r="2.4" fill="#fff" stroke="#555" stroke-width="0.9"/>
<path d="M524.6 626.41 L531.4 626.41 L528 632.53 Z" fill="#0d0d0d"/>
<text transform="translate(540.6 609.93) scale(0.89 1)" font-size="9.5" text-anchor="start" class="sans" fill="#222" >Band1 h&#957; = 31.5 eV</text>
<text transform="translate(540.6 621.33) scale(0.89 1)" font-size="9.5" text-anchor="start" class="sans" fill="#222" >Band2 h&#957; = 20 eV</text>
<text transform="translate(540.6 632.62) scale(0.89 1)" font-size="9.5" text-anchor="start" class="sans" fill="#222" >Band2 h&#957; = 31.5 eV</text>
<text transform="translate(363 675) rotate(-90) scale(0.85 1)" font-size="13.7" text-anchor="middle" class="sans" fill="#222">Binding Energy [eV]</text>
<text transform="translate(498 782.6) scale(0.92 1)" font-size="17.5" text-anchor="middle" class="sans" fill="#222">k<tspan font-size="10.85" dy="6.3" font-style="italic">//</tspan><tspan dy="-6.3"> [1/&#197;]</tspan></text>
<rect x="636" y="599.8" width="117.9" height="154.8" fill="none" stroke="#3c3c3c" stroke-width="1"/>
<clipPath id="cp6"><rect x="635.2" y="599.8" width="119.5" height="159.8"/></clipPath>
<line x1="636" y1="599.8" x2="638.5" y2="599.8" stroke="#555555" stroke-width="0.8" />
<text transform="translate(633.8 602.9) scale(0.9 1)" font-size="9" text-anchor="end" class="sans" fill="#444444" stroke="none">2.0</text>
<line x1="636" y1="617.4" x2="637.5" y2="617.4" stroke="#555555" stroke-width="0.7" />
<line x1="636" y1="635" x2="638.5" y2="635" stroke="#555555" stroke-width="0.8" />
<text transform="translate(633.8 638.1) scale(0.9 1)" font-size="9" text-anchor="end" class="sans" fill="#444444" stroke="none">2.5</text>
<line x1="636" y1="652.6" x2="637.5" y2="652.6" stroke="#555555" stroke-width="0.7" />
<line x1="636" y1="670.2" x2="638.5" y2="670.2" stroke="#555555" stroke-width="0.8" />
<text transform="translate(633.8 673.3) scale(0.9 1)" font-size="9" text-anchor="end" class="sans" fill="#444444" stroke="none">3.0</text>
<line x1="636" y1="687.8" x2="637.5" y2="687.8" stroke="#555555" stroke-width="0.7" />
<line x1="636" y1="705.4" x2="638.5" y2="705.4" stroke="#555555" stroke-width="0.8" />
<text transform="translate(633.8 708.5) scale(0.9 1)" font-size="9" text-anchor="end" class="sans" fill="#444444" stroke="none">3.5</text>
<line x1="636" y1="723" x2="637.5" y2="723" stroke="#555555" stroke-width="0.7" />
<line x1="636" y1="740.6" x2="638.5" y2="740.6" stroke="#555555" stroke-width="0.8" />
<text transform="translate(633.8 743.7) scale(0.9 1)" font-size="9" text-anchor="end" class="sans" fill="#444444" stroke="none">4.0</text>
<line x1="636" y1="754.6" x2="636" y2="752.1" stroke="#555555" stroke-width="0.8" />
<text transform="translate(636 764.6) scale(0.9 1)" font-size="9.4" text-anchor="middle" class="sans" fill="#444444" stroke="none">0.0</text>
<line x1="649.65" y1="754.6" x2="649.65" y2="753.1" stroke="#555555" stroke-width="0.7" />
<line x1="663.3" y1="754.6" x2="663.3" y2="752.1" stroke="#555555" stroke-width="0.8" />
<text transform="translate(663.3 764.6) scale(0.9 1)" font-size="9.4" text-anchor="middle" class="sans" fill="#444444" stroke="none">0.2</text>
<line x1="676.95" y1="754.6" x2="676.95" y2="753.1" stroke="#555555" stroke-width="0.7" />
<line x1="690.6" y1="754.6" x2="690.6" y2="752.1" stroke="#555555" stroke-width="0.8" />
<text transform="translate(690.6 764.6) scale(0.9 1)" font-size="9.4" text-anchor="middle" class="sans" fill="#444444" stroke="none">0.4</text>
<line x1="704.25" y1="754.6" x2="704.25" y2="753.1" stroke="#555555" stroke-width="0.7" />
<line x1="717.9" y1="754.6" x2="717.9" y2="752.1" stroke="#555555" stroke-width="0.8" />
<text transform="translate(717.9 764.6) scale(0.9 1)" font-size="9.4" text-anchor="middle" class="sans" fill="#444444" stroke="none">0.6</text>
<line x1="731.55" y1="754.6" x2="731.55" y2="753.1" stroke="#555555" stroke-width="0.7" />
<line x1="745.2" y1="754.6" x2="745.2" y2="752.1" stroke="#555555" stroke-width="0.8" />
<text transform="translate(745.2 764.6) scale(0.9 1)" font-size="9.4" text-anchor="middle" class="sans" fill="#444444" stroke="none">0.8</text>
<rect x="648.76" y="642.05" width="5.8" height="5.8" fill="#fff" stroke="#a2a2a2" stroke-width="1.1" clip-path="url(#cp6)"/>
<rect x="652.87" y="637.94" width="5.8" height="5.8" fill="#fff" stroke="#a2a2a2" stroke-width="1.1" clip-path="url(#cp6)"/>
<rect x="666.57" y="650.54" width="5.8" height="5.8" fill="#fff" stroke="#a2a2a2" stroke-width="1.1" clip-path="url(#cp6)"/>
<rect x="674.8" y="656.57" width="5.8" height="5.8" fill="#fff" stroke="#a2a2a2" stroke-width="1.1" clip-path="url(#cp6)"/>
<rect x="672.88" y="668.91" width="5.8" height="5.8" fill="#fff" stroke="#a2a2a2" stroke-width="1.1" clip-path="url(#cp6)"/>
<rect x="696.72" y="674.94" width="5.8" height="5.8" fill="#fff" stroke="#a2a2a2" stroke-width="1.1" clip-path="url(#cp6)"/>
<rect x="722.75" y="681.24" width="5.8" height="5.8" fill="#fff" stroke="#a2a2a2" stroke-width="1.1" clip-path="url(#cp6)"/>
<rect x="748.79" y="669.73" width="5.8" height="5.8" fill="#fff" stroke="#a2a2a2" stroke-width="1.1" clip-path="url(#cp6)"/>
<rect x="654.24" y="712.75" width="5.8" height="5.8" fill="#fff" stroke="#a2a2a2" stroke-width="1.1" clip-path="url(#cp6)"/>
<rect x="675.34" y="712.75" width="5.8" height="5.8" fill="#fff" stroke="#a2a2a2" stroke-width="1.1" clip-path="url(#cp6)"/>
<rect x="698.91" y="712.75" width="5.8" height="5.8" fill="#fff" stroke="#a2a2a2" stroke-width="1.1" clip-path="url(#cp6)"/>
<rect x="724.12" y="719.06" width="5.8" height="5.8" fill="#fff" stroke="#a2a2a2" stroke-width="1.1" clip-path="url(#cp6)"/>
<rect x="636.43" y="728.65" width="5.8" height="5.8" fill="#fff" stroke="#a2a2a2" stroke-width="1.1" clip-path="url(#cp6)"/>
<circle cx="672.21" cy="656.73" r="3.15" fill="#fff" stroke="#b2b2b2" stroke-width="1.15"/>
<circle cx="687.29" cy="667.15" r="3.15" fill="#fff" stroke="#b2b2b2" stroke-width="1.15"/>
<circle cx="700.44" cy="679.21" r="3.15" fill="#fff" stroke="#b2b2b2" stroke-width="1.15"/>
<circle cx="715.51" cy="692.91" r="3.15" fill="#fff" stroke="#b2b2b2" stroke-width="1.15"/>
<circle cx="731.13" cy="699.76" r="3.15" fill="#fff" stroke="#b2b2b2" stroke-width="1.15"/>
<circle cx="747.58" cy="690.44" r="3.15" fill="#fff" stroke="#b2b2b2" stroke-width="1.15"/>
<rect x="675.34" y="663.97" width="5.8" height="5.8" fill="#fff" stroke="#a2a2a2" stroke-width="1.1" clip-path="url(#cp6)"/>
<rect x="678.24" y="663.97" width="2.9" height="5.8" fill="#0d0d0d" clip-path="url(#cp6)"/>
<rect x="646.02" y="728.65" width="5.8" height="5.8" fill="#fff" stroke="#a2a2a2" stroke-width="1.1" clip-path="url(#cp6)"/>
<rect x="648.92" y="728.65" width="2.9" height="5.8" fill="#0d0d0d" clip-path="url(#cp6)"/>
<rect x="659.72" y="727.28" width="5.8" height="5.8" fill="#fff" stroke="#a2a2a2" stroke-width="1.1" clip-path="url(#cp6)"/>
<rect x="662.62" y="727.28" width="2.9" height="5.8" fill="#0d0d0d" clip-path="url(#cp6)"/>
<rect x="669.31" y="730.57" width="5.8" height="5.8" fill="#fff" stroke="#a2a2a2" stroke-width="1.1" clip-path="url(#cp6)"/>
<rect x="672.21" y="730.57" width="2.9" height="5.8" fill="#0d0d0d" clip-path="url(#cp6)"/>
<rect x="633.44" y="640.43" width="5.2" height="5.2" fill="#0d0d0d" clip-path="url(#cp6)"/>
<rect x="664.68" y="642.35" width="5.2" height="5.2" fill="#0d0d0d" clip-path="url(#cp6)"/>
<rect x="694.83" y="646.73" width="5.2" height="5.2" fill="#0d0d0d" clip-path="url(#cp6)"/>
<rect x="724.42" y="649.47" width="5.2" height="5.2" fill="#0d0d0d" clip-path="url(#cp6)"/>
<rect x="633.44" y="702.64" width="5.2" height="5.2" fill="#0d0d0d" clip-path="url(#cp6)"/>
<rect x="663.59" y="704.28" width="5.2" height="5.2" fill="#0d0d0d" clip-path="url(#cp6)"/>
<rect x="693.73" y="712.51" width="5.2" height="5.2" fill="#0d0d0d" clip-path="url(#cp6)"/>
<rect x="722.51" y="730.04" width="5.2" height="5.2" fill="#0d0d0d" clip-path="url(#cp6)"/>
<rect x="750.46" y="726.21" width="5.2" height="5.2" fill="#0d0d0d" clip-path="url(#cp6)"/>
<rect x="637.18" y="646.91" width="3.2" height="3.2" fill="#0d0d0d" clip-path="url(#cp6)"/>
<path d="M635.9 645.4L638.9 645.8L643.3 646.9L646.3 647.8L650.8 649.5L670.1 658.3L685 665.4L691 668.2L698.4 671.3L704.4 673.4L708.8 674.8L713.3 676L723.7 678.4L738.6 681.2L753.5 683.7" fill="none" stroke="#111" stroke-width="1.7" stroke-linejoin="round" />
<path d="M635.9 703.6L640.4 703.4L646.3 702.9L650.8 702.3L656.7 701.3L662.7 699.9L676.1 696.4L686.5 694L696.9 691.7L705.9 690L713.3 688.8L722.2 687.6L741.6 685.1L753.5 683.7" fill="none" stroke="#111" stroke-width="1.6" stroke-linejoin="round" />
<circle cx="636.04" cy="638.1" r="3" fill="#0d0d0d"/>
<circle cx="658.51" cy="639.47" r="3" fill="#0d0d0d"/>
<circle cx="680.44" cy="652.07" r="3" fill="#0d0d0d"/>
<circle cx="702.36" cy="657.56" r="3" fill="#0d0d0d"/>
<circle cx="722.91" cy="666.87" r="3" fill="#0d0d0d"/>
<circle cx="742.1" cy="678.66" r="3" fill="#0d0d0d"/>
<text transform="translate(687.3 783) scale(0.83 1)" font-size="19" text-anchor="middle" class="sans" fill="#222">k<tspan font-size="11.78" dy="6.84" font-style="italic">//</tspan><tspan dy="-6.84"> [1/&#197;]</tspan></text>
</svg>
</body>
</html>
